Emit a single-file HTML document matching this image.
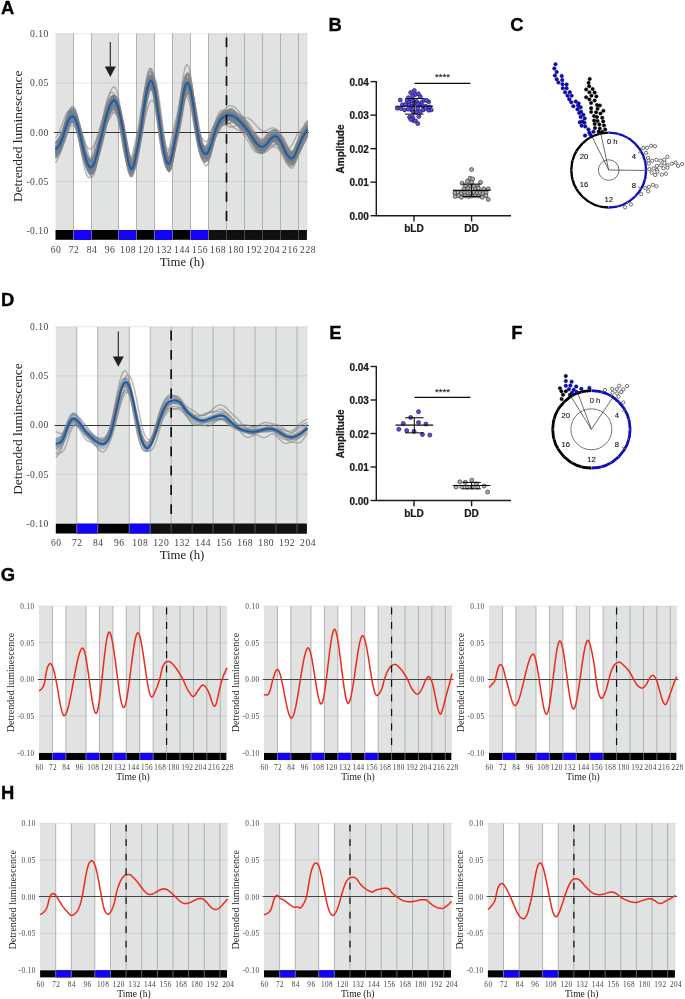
<!DOCTYPE html>
<html><head><meta charset="utf-8"><title>Figure</title>
<style>html,body{margin:0;padding:0;background:#fff;}svg{display:block;}text{font-kerning:normal;}</style></head>
<body>
<svg width="685" height="999" viewBox="0 0 685 999">
<rect width="685" height="999" fill="#fff"/>
<g opacity="0.999">
<text x="1" y="14.3" font-family="'Liberation Sans', sans-serif" font-weight="bold" font-size="18.4" fill="#000" stroke="#000" stroke-width="0.35">A</text>
<text x="328.6" y="30.6" font-family="'Liberation Sans', sans-serif" font-weight="bold" font-size="18.4" fill="#000" stroke="#000" stroke-width="0.35">B</text>
<text x="510.3" y="30.7" font-family="'Liberation Sans', sans-serif" font-weight="bold" font-size="18.4" fill="#000" stroke="#000" stroke-width="0.35">C</text>
<text x="1.1" y="305.7" font-family="'Liberation Sans', sans-serif" font-weight="bold" font-size="18.4" fill="#000" stroke="#000" stroke-width="0.35">D</text>
<text x="329.2" y="338.8" font-family="'Liberation Sans', sans-serif" font-weight="bold" font-size="18.4" fill="#000" stroke="#000" stroke-width="0.35">E</text>
<text x="511.2" y="338.9" font-family="'Liberation Sans', sans-serif" font-weight="bold" font-size="18.4" fill="#000" stroke="#000" stroke-width="0.35">F</text>
<text x="0.7" y="580.8" font-family="'Liberation Sans', sans-serif" font-weight="bold" font-size="18.4" fill="#000" stroke="#000" stroke-width="0.35">G</text>
<text x="1.1" y="798.5" font-family="'Liberation Sans', sans-serif" font-weight="bold" font-size="18.4" fill="#000" stroke="#000" stroke-width="0.35">H</text>
<rect x="55.5" y="33.5" width="252" height="197" fill="#e1e3e2"/>
<rect x="73.5" y="33" width="18" height="197.5" fill="#fff"/>
<rect x="118.5" y="33" width="18" height="197.5" fill="#fff"/>
<rect x="154.5" y="33" width="18" height="197.5" fill="#fff"/>
<rect x="190.5" y="33" width="18" height="197.5" fill="#fff"/>
<line x1="54.7" x2="308" y1="33.8" y2="33.8" stroke="#787878" stroke-opacity="0.17" stroke-width="1"/>
<line x1="54.7" x2="308" y1="83.05" y2="83.05" stroke="#787878" stroke-opacity="0.17" stroke-width="1"/>
<line x1="54.7" x2="308" y1="181.55" y2="181.55" stroke="#787878" stroke-opacity="0.17" stroke-width="1"/>
<line x1="73.5" x2="73.5" y1="33.5" y2="230.5" stroke="#a9a9a9" stroke-width="0.9"/>
<line x1="91.5" x2="91.5" y1="33.5" y2="230.5" stroke="#a9a9a9" stroke-width="0.9"/>
<line x1="118.5" x2="118.5" y1="33.5" y2="230.5" stroke="#a9a9a9" stroke-width="0.9"/>
<line x1="136.5" x2="136.5" y1="33.5" y2="230.5" stroke="#a9a9a9" stroke-width="0.9"/>
<line x1="154.5" x2="154.5" y1="33.5" y2="230.5" stroke="#a9a9a9" stroke-width="0.9"/>
<line x1="172.5" x2="172.5" y1="33.5" y2="230.5" stroke="#a9a9a9" stroke-width="0.9"/>
<line x1="190.5" x2="190.5" y1="33.5" y2="230.5" stroke="#a9a9a9" stroke-width="0.9"/>
<line x1="208.5" x2="208.5" y1="33.5" y2="230.5" stroke="#a9a9a9" stroke-width="0.9"/>
<line x1="226.5" x2="226.5" y1="33.5" y2="230.5" stroke="#a9a9a9" stroke-width="0.9"/>
<line x1="244.5" x2="244.5" y1="33.5" y2="230.5" stroke="#a9a9a9" stroke-width="0.9"/>
<line x1="262.5" x2="262.5" y1="33.5" y2="230.5" stroke="#a9a9a9" stroke-width="0.9"/>
<line x1="280.5" x2="280.5" y1="33.5" y2="230.5" stroke="#a9a9a9" stroke-width="0.9"/>
<line x1="298.5" x2="298.5" y1="33.5" y2="230.5" stroke="#a9a9a9" stroke-width="0.9"/>
<line x1="54.2" x2="309" y1="132.5" y2="132.5" stroke="#333" stroke-width="1.05"/>
<g fill="none" stroke="#838383" stroke-width="1.5" stroke-opacity="0.55" stroke-linejoin="round">
<path d="M55.5 147.28L56.99 146.14L58.48 144.47L59.97 142.09L61.46 138.96L62.96 135.2L64.45 131.08L65.94 126.92L67.43 123.24L68.92 120.57L70.41 118.93L71.9 118.23L73.39 118.57L74.88 120.12L76.38 122.83L77.87 126.55L79.36 131.01L80.85 136.08L82.34 141.63L83.83 147.07L85.32 151.95L86.81 156L88.3 159.07L89.8 161L91.29 161.69L92.78 161.03L94.27 159.04L95.76 155.63L97.25 150.97L98.74 145.69L100.23 140.13L101.72 134.38L103.22 128.38L104.71 122.2L106.2 116.28L107.69 110.96L109.18 106.46L110.67 102.96L112.16 100.54L113.65 99.24L115.14 99.39L116.64 101.29L118.13 104.95L119.62 110.2L121.11 116.38L122.6 123.19L124.09 130.93L125.58 139.49L127.07 147.71L128.57 154.64L130.06 159.87L131.55 162.65L133.04 162.3L134.53 159.13L136.02 153.67L137.51 147.06L139 140.44L140.49 133.21L141.99 124.28L143.48 114.28L144.97 104.58L146.46 96.15L147.95 89.37L149.44 84.58L150.93 82.21L152.42 82.84L153.91 86.31L155.41 92.55L156.9 101.17L158.39 111.35L159.88 121.81L161.37 131.96L162.86 141.61L164.35 149.88L165.84 155.95L167.33 159.49L168.83 160.54L170.32 158.47L171.81 153.44L173.3 146.61L174.79 138.94L176.28 131.54L177.77 124.49L179.26 117.18L180.75 108.99L182.25 100.21L183.74 92.17L185.23 86.2L186.72 82.96L188.21 82.42L189.7 84.67L191.19 89.52L192.68 96.64L194.17 105.23L195.67 114.58L197.16 123.98L198.65 132.4L200.14 139.16L201.63 144.15L203.12 147.64L204.61 149.97L206.1 151.08L207.59 150.68L209.09 148.75L210.58 145.53L212.07 141.33L213.56 136.72L215.05 132.19L216.54 128.12L218.03 124.7L219.52 121.98L221.01 120.01L222.51 118.77L224 118.05L225.49 117.62L226.98 117.34L228.47 117.12L229.96 116.94L231.45 116.86L232.94 116.88L234.43 116.96L235.93 117.13L237.42 117.49L238.91 118.1L240.4 118.96L241.89 120.08L243.38 121.47L244.87 123.09L246.36 124.87L247.86 126.75L249.35 128.72L250.84 130.78L252.33 132.85L253.82 134.77L255.31 136.46L256.8 137.86L258.29 138.94L259.78 139.76L261.28 140.37L262.77 140.66L264.26 140.52L265.75 140.04L267.24 139.3L268.73 138.35L270.22 137.32L271.71 136.41L273.2 135.75L274.7 135.39L276.19 135.45L277.68 136.08L279.17 137.35L280.66 139.25L282.15 141.71L283.64 144.54L285.13 147.54L286.62 150.31L288.12 152.61L289.61 154.46L291.1 155.73L292.59 156.02L294.08 154.98L295.57 152.65L297.06 149.24L298.55 145.28L300.04 141.36L301.54 137.67L303.03 134.34L304.52 131.41L306.01 128.75L307.5 126.3"/>
<path d="M55.5 152.87L56.99 150.33L58.48 147.43L59.97 143.79L61.46 139.17L62.96 133.66L64.45 127.5L65.94 121.21L67.43 115.72L68.92 111.56L70.41 108.82L71.9 107.49L73.39 107.76L74.88 109.68L76.38 113.08L77.87 117.72L79.36 123.35L80.85 130.06L82.34 137.49L83.83 144.97L85.32 151.95L86.81 158.01L88.3 162.73L89.8 165.86L91.29 167.18L92.78 166.75L94.27 164.74L95.76 161.18L97.25 156.71L98.74 152.04L100.23 147.34L101.72 142.46L103.22 137.1L104.71 131.38L106.2 125.78L107.69 120.66L109.18 116.31L110.67 113L112.16 110.77L113.65 109.72L115.14 110.21L116.64 112.38L118.13 116.14L119.62 121.2L121.11 126.97L122.6 133.55L124.09 141.36L125.58 149.91L127.07 157.72L128.57 163.74L130.06 167.42L131.55 167.74L133.04 164.36L134.53 157.92L136.02 149.33L137.51 140.3L139 131.69L140.49 122.43L141.99 111.75L143.48 100.73L144.97 90.66L146.46 82.28L147.95 75.94L149.44 72.09L150.93 71.35L152.42 74.05L153.91 79.95L155.41 88.82L156.9 99.89L158.39 111.98L159.88 123.95L161.37 135.5L162.86 146.4L164.35 155.8L165.84 163.08L167.33 168.04L168.83 170.24L170.32 168.96L171.81 164.56L173.3 158.14L174.79 150.79L176.28 143.47L177.77 136.08L179.26 128L180.75 118.88L182.25 109.38L183.74 100.98L185.23 94.89L186.72 91.39L188.21 90.63L189.7 92.78L191.19 97.67L192.68 104.91L194.17 113.59L195.67 122.87L197.16 131.76L198.65 138.98L200.14 143.9L201.63 146.76L203.12 148.06L204.61 148.3L206.1 147.48L207.59 145.39L209.09 142.13L210.58 137.82L212.07 132.76L213.56 127.48L215.05 122.43L216.54 118.02L218.03 114.5L219.52 112L221.01 110.62L222.51 110.27L224 110.56L225.49 111.16L226.98 111.89L228.47 112.69L229.96 113.69L231.45 115.05L232.94 116.84L234.43 119.01L235.93 121.51L237.42 124.24L238.91 126.99L240.4 129.59L241.89 131.97L243.38 134.21L244.87 136.39L246.36 138.58L247.86 140.9L249.35 143.39L250.84 145.99L252.33 148.41L253.82 150.38L255.31 151.76L256.8 152.5L258.29 152.65L259.78 152.41L261.28 151.84L262.77 150.76L264.26 149.05L265.75 146.75L267.24 143.9L268.73 140.59L270.22 137.19L271.71 134.1L273.2 131.66L274.7 130.08L276.19 129.55L277.68 130.13L279.17 131.65L280.66 133.91L282.15 136.63L283.64 139.61L285.13 142.59L286.62 145.29L288.12 147.72L289.61 149.96L291.1 151.77L292.59 152.56L294.08 152.02L295.57 150.21L297.06 147.45L298.55 144.48L300.04 141.85L301.54 139.76L303.03 138.31L304.52 137.31L306.01 136.44L307.5 135.47"/>
<path d="M55.5 157.09L56.99 157.05L58.48 156.19L59.97 153.93L61.46 149.86L62.96 144.23L64.45 137.59L65.94 130.69L67.43 124.79L68.92 120.73L70.41 118.63L71.9 118.28L73.39 119.59L74.88 122.3L76.38 125.96L77.87 130.09L79.36 134.4L80.85 138.93L82.34 143.78L83.83 148.7L85.32 153.52L86.81 158.04L88.3 162.04L89.8 165.01L91.29 166.52L92.78 166.21L94.27 163.79L95.76 159.48L97.25 153.71L98.74 147.48L100.23 141.61L101.72 136.37L103.22 131.9L104.71 128.1L106.2 124.88L107.69 122.09L109.18 119.49L110.67 116.86L112.16 114.3L113.65 112.17L115.14 111.11L116.64 111.83L118.13 114.86L119.62 119.94L121.11 126.75L122.6 134.63L124.09 143.36L125.58 152.25L127.07 160.16L128.57 166.14L130.06 169.73L131.55 170.68L133.04 168.85L134.53 164.56L136.02 158.74L137.51 152.3L139 145.92L140.49 138.62L141.99 129.15L143.48 117.82L144.97 106.15L146.46 95.29L147.95 86.11L149.44 79.41L150.93 76.08L152.42 76.86L153.91 81.56L155.41 89.89L156.9 100.99L158.39 113.53L159.88 125.83L161.37 137.33L162.86 148.08L164.35 157.24L165.84 164.27L167.33 169.03L168.83 171.63L170.32 170.8L171.81 166.5L173.3 159.85L174.79 151.39L176.28 142.51L177.77 132.88L179.26 121.96L180.75 109.33L182.25 96.08L183.74 84.69L185.23 77.22L186.72 74.26L188.21 75.39L189.7 80.6L191.19 88.75L192.68 99.4L194.17 110.91L195.67 122.64L197.16 133.96L198.65 143.62L200.14 151.17L201.63 156.95L203.12 161.25L204.61 164.4L206.1 165.9L207.59 164.9L209.09 161.41L210.58 155.68L212.07 148.4L213.56 140.73L215.05 133.66L216.54 127.91L218.03 123.82L219.52 121.27L221.01 120.01L222.51 119.6L224 119.34L225.49 118.76L226.98 117.73L228.47 116.4L229.96 115.21L231.45 114.64L232.94 115L234.43 116.34L235.93 118.57L237.42 121.4L238.91 124.39L240.4 127.05L241.89 129.1L243.38 130.48L244.87 131.37L246.36 132.11L247.86 133.14L249.35 134.85L250.84 137.44L252.33 140.75L253.82 144.36L255.31 147.71L256.8 150.31L258.29 151.85L259.78 152.24L261.28 151.68L262.77 150.41L264.26 148.83L265.75 147.34L267.24 146.23L268.73 145.58L270.22 145.23L271.71 145.04L273.2 144.7L274.7 144.07L276.19 143.23L277.68 142.42L279.17 142.15L280.66 142.72L282.15 144.44L283.64 147.23L285.13 150.78L286.62 154.49L288.12 157.7L289.61 160.03L291.1 161.08L292.59 160.47L294.08 158.1L295.57 154.35L297.06 149.95L298.55 145.75L300.04 142.46L301.54 140.18L303.03 138.68L304.52 137.51L306.01 136.06L307.5 133.95"/>
<path d="M55.5 154.39L56.99 151.86L58.48 148.98L59.97 145.53L61.46 141.46L62.96 136.96L64.45 132.17L65.94 127.48L67.43 123.53L68.92 120.52L70.41 118.39L71.9 117.18L73.39 117.23L74.88 118.74L76.38 121.73L77.87 126.01L79.36 131.37L80.85 137.71L82.34 144.45L83.83 150.85L85.32 156.36L86.81 160.64L88.3 163.46L89.8 164.73L91.29 164.38L92.78 162.57L94.27 159.36L95.76 154.82L97.25 149.53L98.74 144.08L100.23 138.62L101.72 133.03L103.22 127.12L104.71 121.06L106.2 115.26L107.69 109.98L109.18 105.45L110.67 101.93L112.16 99.51L113.65 98.46L115.14 99.31L116.64 102.27L118.13 107.2L119.62 113.66L121.11 120.87L122.6 128.83L124.09 137.79L125.58 147.09L127.07 155.38L128.57 161.85L130.06 166.13L131.55 167.28L133.04 165.05L134.53 160.03L136.02 152.87L137.51 145.16L139 137.39L140.49 128.35L141.99 117.59L143.48 106.58L144.97 96.7L146.46 88.71L147.95 82.9L149.44 79.57L150.93 79.25L152.42 82.02L153.91 87.54L155.41 95.61L156.9 105.46L158.39 115.98L159.88 126.22L161.37 135.97L162.86 144.92L164.35 152.21L165.84 157.37L167.33 160.36L168.83 160.78L170.32 158.13L171.81 152.97L173.3 146.28L174.79 139.05L176.28 131.85L177.77 124.45L179.26 116.21L180.75 107.02L182.25 97.82L183.74 90.15L185.23 85.21L186.72 83.18L188.21 84.1L189.7 87.89L191.19 94.14L192.68 102.26L194.17 111.42L195.67 120.88L197.16 129.88L198.65 137.42L200.14 143.09L201.63 147.15L203.12 149.96L204.61 151.76L206.1 152.25L207.59 151.13L209.09 148.47L210.58 144.43L212.07 139.51L213.56 134.31L215.05 129.35L216.54 125L218.03 121.45L219.52 118.73L221.01 116.89L222.51 115.84L224 115.23L225.49 114.84L226.98 114.53L228.47 114.24L229.96 114.07L231.45 114.12L232.94 114.4L234.43 114.93L235.93 115.78L237.42 117.02L238.91 118.6L240.4 120.39L241.89 122.31L243.38 124.27L244.87 126.18L246.36 127.96L247.86 129.68L249.35 131.49L250.84 133.46L252.33 135.55L253.82 137.67L255.31 139.75L256.8 141.64L258.29 143.21L259.78 144.42L261.28 145.1L262.77 145.02L264.26 144.16L265.75 142.7L267.24 140.82L268.73 138.79L270.22 136.95L271.71 135.58L273.2 134.85L274.7 134.79L276.19 135.47L277.68 136.89L279.17 138.94L280.66 141.47L282.15 144.27L283.64 147.18L285.13 149.9L286.62 152.14L288.12 153.92L289.61 155.33L291.1 156.15L292.59 155.91L294.08 154.42L295.57 151.76L297.06 148.23L298.55 144.41L300.04 140.67L301.54 137.17L303.03 134.04L304.52 131.25L306.01 128.71L307.5 126.42"/>
<path d="M55.5 150.12L56.99 148.47L58.48 146.28L59.97 143.14L61.46 138.94L62.96 133.91L64.45 128.29L65.94 122.66L67.43 117.99L68.92 114.57L70.41 112.37L71.9 111.51L73.39 112.4L74.88 115.13L76.38 119.52L77.87 125.3L79.36 132L80.85 139.66L82.34 147.45L83.83 154.59L85.32 160.6L86.81 165.22L88.3 168.18L89.8 169.46L91.29 168.85L92.78 166.51L94.27 162.45L95.76 156.71L97.25 150.15L98.74 143.44L100.23 136.79L101.72 130.16L103.22 123.52L104.71 117.25L106.2 111.75L107.69 107.17L109.18 103.63L110.67 101.16L112.16 99.7L113.65 99.53L115.14 101.03L116.64 104.31L118.13 109.33L119.62 115.44L121.11 122.33L122.6 130.16L124.09 138.93L125.58 147.6L127.07 155.17L128.57 160.95L130.06 164.23L131.55 164.31L133.04 161.35L134.53 155.73L136.02 148.61L137.51 141.23L139 133.53L140.49 124.44L141.99 114.05L143.48 103.63L144.97 94.27L146.46 86.46L147.95 80.52L149.44 76.81L150.93 76.05L152.42 78.41L153.91 83.77L155.41 92.12L156.9 102.71L158.39 114.37L159.88 126.07L161.37 137.57L162.86 148.26L164.35 156.84L165.84 162.75L167.33 165.87L168.83 165.72L170.32 161.7L171.81 154.79L173.3 146.39L174.79 137.57L176.28 129.23L177.77 120.65L179.26 111.04L180.75 100.24L182.25 89.54L183.74 80.88L185.23 75.66L186.72 73.92L188.21 75.68L189.7 80.96L191.19 89.09L192.68 99.36L194.17 110.58L195.67 121.84L197.16 132.05L198.65 140.1L200.14 145.69L201.63 149.22L203.12 151.24L204.61 152L206.1 151.32L207.59 149.16L209.09 145.76L210.58 141.38L212.07 136.57L213.56 131.81L215.05 127.44L216.54 123.65L218.03 120.49L219.52 118.01L221.01 116.24L222.51 115.06L224 114.31L225.49 113.87L226.98 113.65L228.47 113.64L229.96 113.87L231.45 114.32L232.94 114.89L234.43 115.56L235.93 116.4L237.42 117.43L238.91 118.67L240.4 120.1L241.89 121.75L243.38 123.61L244.87 125.61L246.36 127.69L247.86 129.88L249.35 132.23L250.84 134.71L252.33 137.18L253.82 139.52L255.31 141.68L256.8 143.52L258.29 145L259.78 146.16L261.28 146.82L262.77 146.73L264.26 145.86L265.75 144.38L267.24 142.39L268.73 140.1L270.22 137.93L271.71 136.15L273.2 135.01L274.7 134.6L276.19 135.13L277.68 136.69L279.17 139.13L280.66 142.32L282.15 145.89L283.64 149.58L285.13 152.9L286.62 155.41L288.12 157.18L289.61 158.31L291.1 158.52L292.59 157.37L294.08 154.87L295.57 151.29L297.06 147.09L298.55 143L300.04 139.25L301.54 135.92L303.03 133.01L304.52 130.39L306.01 127.96L307.5 125.7"/>
<path d="M55.5 150.19L56.99 148.49L58.48 146.36L59.97 143.62L61.46 140.22L62.96 136.29L64.45 132.02L65.94 127.68L67.43 123.81L68.92 120.88L70.41 118.87L71.9 117.68L73.39 117.54L74.88 118.7L76.38 121.2L77.87 125.01L79.36 129.85L80.85 135.74L82.34 142.48L83.83 149.31L85.32 155.67L86.81 161.17L88.3 165.42L89.8 168.27L91.29 169.38L92.78 168.66L94.27 166.2L95.76 161.76L97.25 155.85L98.74 149.32L100.23 142.62L101.72 135.94L103.22 129.17L104.71 122.45L106.2 116.3L107.69 110.99L109.18 106.64L110.67 103.36L112.16 101.13L113.65 99.9L115.14 100.12L116.64 102.11L118.13 105.88L119.62 111.32L121.11 117.7L122.6 124.83L124.09 133.13L125.58 142.39L127.07 151.22L128.57 158.62L130.06 164.12L131.55 166.84L133.04 166.13L134.53 162.33L136.02 156.09L137.51 148.65L139 141.14L140.49 133.01L141.99 123.5L143.48 113.29L144.97 103.83L146.46 96.01L147.95 90.16L149.44 86.49L150.93 85.32L152.42 86.88L153.91 91.04L155.41 97.45L156.9 105.78L158.39 115.13L159.88 124.53L161.37 133.51L162.86 141.89L164.35 149.16L165.84 154.59L167.33 158.01L168.83 159.27L170.32 157.97L171.81 154.11L173.3 148.5L174.79 142.06L176.28 135.5L177.77 128.9L179.26 121.62L180.75 113.17L182.25 103.91L183.74 95.24L185.23 88.56L186.72 84.67L188.21 83.73L189.7 85.86L191.19 90.94L192.68 98.58L194.17 107.89L195.67 118.03L197.16 128.13L198.65 136.99L200.14 143.83L201.63 148.59L203.12 151.59L204.61 153.27L206.1 153.68L207.59 152.53L209.09 149.98L210.58 146.28L212.07 141.78L213.56 137.06L215.05 132.58L216.54 128.6L218.03 125.23L219.52 122.39L221.01 120.1L222.51 118.36L224 116.96L225.49 115.75L226.98 114.72L228.47 113.92L229.96 113.48L231.45 113.54L232.94 114.08L234.43 114.99L235.93 116.21L237.42 117.73L238.91 119.43L240.4 121.17L241.89 122.88L243.38 124.54L244.87 126.13L246.36 127.64L247.86 129.15L249.35 130.82L250.84 132.76L252.33 134.95L253.82 137.25L255.31 139.55L256.8 141.7L258.29 143.55L259.78 145.04L261.28 146.06L262.77 146.4L264.26 145.91L265.75 144.73L267.24 143.04L268.73 141L270.22 138.92L271.71 137.15L273.2 135.91L274.7 135.33L276.19 135.53L277.68 136.57L279.17 138.42L280.66 140.91L282.15 143.82L283.64 146.85L285.13 149.7L286.62 152.02L288.12 153.61L289.61 154.6L291.1 154.99L292.59 154.53L294.08 153.05L295.57 150.64L297.06 147.59L298.55 144.34L300.04 141.34L301.54 138.68L303.03 136.32L304.52 134.15L306.01 131.96L307.5 129.63"/>
<path d="M55.5 150.32L56.99 149.42L58.48 147.86L59.97 145.44L61.46 141.92L62.96 137.35L64.45 131.97L65.94 125.97L67.43 120.22L68.92 115.52L70.41 112.11L71.9 109.87L73.39 109.12L74.88 110.21L76.38 113.1L77.87 117.78L79.36 123.58L80.85 130.44L82.34 138.01L83.83 145.45L85.32 152L86.81 157.29L88.3 161.02L89.8 163.14L91.29 163.58L92.78 162.37L94.27 159.74L95.76 155.73L97.25 150.55L98.74 144.91L100.23 139.3L101.72 133.85L103.22 128.45L104.71 123.02L106.2 117.76L107.69 113.03L109.18 108.99L110.67 105.72L112.16 103.38L113.65 101.98L115.14 101.69L116.64 102.87L118.13 105.76L119.62 110.09L121.11 115.68L122.6 121.9L124.09 128.83L125.58 136.53L127.07 144.5L128.57 151.64L130.06 157.11L131.55 160.57L133.04 161.27L134.53 158.87L136.02 154.1L137.51 147.51L139 140.45L140.49 133.06L141.99 124.15L143.48 113.51L144.97 102.64L146.46 92.68L147.95 84.25L149.44 77.74L150.93 73.6L152.42 72.71L153.91 75.1L155.41 80.82L156.9 89.67L158.39 100.89L159.88 112.97L161.37 125.06L162.86 136.98L164.35 147.71L165.84 156.1L167.33 161.56L168.83 164.21L170.32 163.1L171.81 158.12L173.3 150.63L174.79 141.7L176.28 132.94L177.77 124.61L179.26 116.18L180.75 106.81L182.25 96.61L183.74 87.07L185.23 79.84L186.72 75.91L188.21 75.16L189.7 77.64L191.19 83.05L192.68 90.93L194.17 100.44L195.67 110.69L197.16 120.87L198.65 130.06L200.14 137.41L201.63 142.62L203.12 146.08L204.61 148.13L206.1 149L207.59 148.58L209.09 146.71L210.58 143.71L212.07 139.8L213.56 135.46L215.05 131.18L216.54 127.31L218.03 124L219.52 121.34L221.01 119.28L222.51 117.76L224 116.73L225.49 115.93L226.98 115.23L228.47 114.6L229.96 114.04L231.45 113.65L232.94 113.51L234.43 113.6L235.93 113.92L237.42 114.51L238.91 115.42L240.4 116.59L241.89 117.96L243.38 119.52L244.87 121.22L246.36 123.01L247.86 124.84L249.35 126.79L250.84 128.96L252.33 131.34L253.82 133.78L255.31 136.19L256.8 138.46L258.29 140.43L259.78 142.07L261.28 143.38L262.77 144.11L264.26 144.01L265.75 143.15L267.24 141.7L268.73 139.7L270.22 137.5L271.71 135.45L273.2 133.87L274.7 132.89L276.19 132.69L277.68 133.49L279.17 135.26L280.66 137.95L282.15 141.3L283.64 145L285.13 148.74L286.62 151.96L288.12 154.32L289.61 155.89L291.1 156.73L292.59 156.55L294.08 155.04L295.57 152.35L297.06 148.74L298.55 144.75L300.04 140.99L301.54 137.68L303.03 134.83L304.52 132.39L306.01 130.19L307.5 128.02"/>
<path d="M55.5 155.08L56.99 153.45L58.48 151.21L59.97 148.11L61.46 144.12L62.96 139.41L64.45 134.29L65.94 129.17L67.43 124.72L68.92 121.45L70.41 119.31L71.9 118.24L73.39 118.45L74.88 120.12L76.38 123.23L77.87 127.61L79.36 133.01L80.85 139.37L82.34 146.4L83.83 153.36L85.32 159.72L86.81 165.08L88.3 169.17L89.8 171.77L91.29 172.65L92.78 171.74L94.27 169.03L95.76 164.4L97.25 158.33L98.74 151.67L100.23 144.84L101.72 137.95L103.22 130.91L104.71 123.85L106.2 117.31L107.69 111.59L109.18 106.81L110.67 103.12L112.16 100.52L113.65 99.07L115.14 99.3L116.64 101.61L118.13 106.01L119.62 112.37L121.11 119.86L122.6 128.36L124.09 138.3L125.58 149.31L127.07 159.67L128.57 168.21L130.06 174.41L131.55 177.12L133.04 175.61L134.53 170.47L136.02 162.35L137.51 153.04L139 143.83L140.49 133.76L141.99 121.85L143.48 109.35L144.97 97.92L146.46 88.52L147.95 81.47L149.44 77.02L150.93 75.61L152.42 77.6L153.91 82.68L155.41 90.72L156.9 101.14L158.39 112.88L159.88 124.69L161.37 136.12L162.86 146.97L164.35 156.3L165.84 163.26L167.33 167.6L168.83 169.08L170.32 167.05L171.81 161.79L173.3 154.47L174.79 146.23L176.28 138.02L177.77 129.87L179.26 121.09L180.75 111.28L182.25 101.06L183.74 92.09L185.23 85.79L186.72 82.72L188.21 82.89L189.7 86.23L191.19 92.47L192.68 100.99L194.17 110.86L195.67 121.23L197.16 131.24L198.65 139.79L200.14 146.29L201.63 150.82L203.12 153.82L204.61 155.68L206.1 156.33L207.59 155.46L209.09 153.07L210.58 149.35L212.07 144.63L213.56 139.47L215.05 134.35L216.54 129.63L218.03 125.52L219.52 122.09L221.01 119.46L222.51 117.69L224 116.57L225.49 115.92L226.98 115.62L228.47 115.58L229.96 115.81L231.45 116.32L232.94 117.02L234.43 117.79L235.93 118.63L237.42 119.63L238.91 120.83L240.4 122.21L241.89 123.83L243.38 125.73L244.87 127.9L246.36 130.25L247.86 132.77L249.35 135.47L250.84 138.35L252.33 141.23L253.82 143.87L255.31 146.16L256.8 148L258.29 149.31L259.78 150.2L261.28 150.69L262.77 150.6L264.26 149.84L265.75 148.58L267.24 146.97L268.73 145.05L270.22 143.11L271.71 141.4L273.2 140.1L274.7 139.29L276.19 139.15L277.68 139.89L279.17 141.52L280.66 144.04L282.15 147.25L283.64 150.91L285.13 154.66L286.62 157.96L288.12 160.59L289.61 162.57L291.1 163.73L292.59 163.55L294.08 161.78L295.57 158.61L297.06 154.39L298.55 149.88L300.04 145.66L301.54 141.94L303.03 138.81L304.52 136.19L306.01 133.87L307.5 131.7"/>
<path d="M55.5 147.22L56.99 145.28L58.48 142.92L59.97 139.86L61.46 136.14L62.96 131.99L64.45 127.62L65.94 123.62L67.43 120.49L68.92 118.32L70.41 117.02L71.9 116.8L73.39 117.85L74.88 120.16L76.38 123.66L77.87 128L79.36 133.15L80.85 138.85L82.34 144.5L83.83 149.63L85.32 153.93L86.81 157.18L88.3 159.3L89.8 160.13L91.29 159.64L92.78 157.93L94.27 154.88L95.76 150.78L97.25 146.22L98.74 141.52L100.23 136.79L101.72 131.89L103.22 126.84L104.71 122L106.2 117.61L107.69 113.81L109.18 110.76L110.67 108.52L112.16 107.13L113.65 106.93L115.14 108.27L116.64 111.23L118.13 115.74L119.62 121.22L121.11 127.38L122.6 134.47L124.09 142.43L125.58 150.2L127.07 156.81L128.57 161.73L130.06 164.31L131.55 163.85L133.04 160.5L134.53 154.85L136.02 147.86L137.51 140.75L139 133.29L140.49 124.45L141.99 114.5L143.48 104.87L144.97 96.49L146.46 89.79L147.95 85.02L149.44 82.51L150.93 82.77L152.42 85.83L153.91 91.4L155.41 99.37L156.9 108.92L158.39 119.01L159.88 128.89L161.37 138.41L162.86 146.98L164.35 153.64L165.84 158.05L167.33 160.13L168.83 159.44L170.32 155.75L171.81 150.02L173.3 143.29L174.79 136.46L176.28 129.92L177.77 123.07L179.26 115.36L180.75 106.91L182.25 98.95L183.74 92.87L185.23 89.53L186.72 88.9L188.21 90.99L189.7 95.67L191.19 102.53L192.68 110.83L194.17 119.79L195.67 128.67L197.16 136.54L198.65 142.68L200.14 146.95L201.63 149.67L203.12 151.23L204.61 151.71L206.1 150.86L207.59 148.69L209.09 145.43L210.58 141.33L212.07 136.91L213.56 132.59L215.05 128.67L216.54 125.31L218.03 122.54L219.52 120.37L221.01 118.83L222.51 117.75L224 116.97L225.49 116.41L226.98 116.03L228.47 115.86L229.96 115.97L231.45 116.33L232.94 116.88L234.43 117.59L235.93 118.51L237.42 119.61L238.91 120.86L240.4 122.24L241.89 123.75L243.38 125.39L244.87 127.1L246.36 128.88L247.86 130.8L249.35 132.89L250.84 135.1L252.33 137.29L253.82 139.36L255.31 141.21L256.8 142.75L258.29 143.97L259.78 144.87L261.28 145.31L262.77 145.14L264.26 144.47L265.75 143.41L267.24 142.02L268.73 140.53L270.22 139.19L271.71 138.16L273.2 137.55L274.7 137.46L276.19 138.04L277.68 139.31L279.17 141.24L280.66 143.7L282.15 146.45L283.64 149.3L285.13 151.84L286.62 153.81L288.12 155.24L289.61 156.13L291.1 156.15L292.59 154.97L294.08 152.62L295.57 149.32L297.06 145.55L298.55 141.89L300.04 138.53L301.54 135.54L303.03 132.9L304.52 130.48L306.01 128.18L307.5 125.99"/>
<path d="M55.5 149.45L56.99 149L58.48 148.13L59.97 146.4L61.46 143.62L62.96 139.94L64.45 135.55L65.94 130.96L67.43 127.09L68.92 124.24L70.41 122.4L71.9 121.7L73.39 122.59L74.88 125.23L76.38 129.57L77.87 135.31L79.36 142.09L80.85 149.83L82.34 157.75L83.83 164.96L85.32 170.87L86.81 175.12L88.3 177.45L89.8 177.79L91.29 176.01L92.78 172.32L94.27 166.83L95.76 159.65L97.25 151.65L98.74 143.56L100.23 135.67L101.72 127.93L103.22 120.17L104.71 112.67L106.2 105.83L107.69 99.84L109.18 94.82L110.67 90.93L112.16 88.16L113.65 86.86L115.14 87.62L116.64 90.71L118.13 96.14L119.62 103.41L121.11 111.9L122.6 121.71L124.09 132.96L125.58 144.65L127.07 155.29L128.57 163.89L130.06 169.75L131.55 171.86L133.04 170.08L134.53 165.02L136.02 157.7L137.51 149.85L139 141.85L140.49 132.5L141.99 121.62L143.48 110.74L144.97 101.2L146.46 93.59L147.95 88.16L149.44 85.13L150.93 85.07L152.42 88.04L153.91 93.79L155.41 102.16L156.9 112.4L158.39 123.34L159.88 134.04L161.37 144.29L162.86 153.67L164.35 161.09L165.84 166L167.33 168.36L168.83 167.6L170.32 163.17L171.81 155.85L173.3 146.81L174.79 137.24L176.28 127.83L177.77 118.15L179.26 107.43L180.75 95.54L182.25 83.69L183.74 73.79L185.23 67.34L186.72 64.56L188.21 65.58L189.7 70.41L191.19 78.54L192.68 89.25L194.17 101.4L195.67 114L197.16 125.95L198.65 135.93L200.14 143.4L201.63 148.7L203.12 152.3L204.61 154.57L206.1 155.32L207.59 154.35L209.09 151.92L210.58 148.29L212.07 144.03L213.56 139.71L215.05 135.77L216.54 132.39L218.03 129.6L219.52 127.32L221.01 125.6L222.51 124.31L224 123.2L225.49 122.17L226.98 121.23L228.47 120.43L229.96 119.94L231.45 119.83L232.94 120.06L234.43 120.51L235.93 121.19L237.42 122.07L238.91 123.04L240.4 123.97L241.89 124.86L243.38 125.68L244.87 126.42L246.36 127.09L247.86 127.81L249.35 128.78L250.84 130.07L252.33 131.59L253.82 133.22L255.31 134.89L256.8 136.43L258.29 137.73L259.78 138.8L261.28 139.44L262.77 139.38L264.26 138.59L265.75 137.24L267.24 135.45L268.73 133.48L270.22 131.71L271.71 130.47L273.2 129.99L274.7 130.39L276.19 131.89L277.68 134.54L279.17 138.24L280.66 142.78L282.15 147.85L283.64 153.07L285.13 157.91L286.62 161.9L288.12 164.96L289.61 167.16L291.1 168.22L292.59 167.75L294.08 165.76L295.57 162.51L297.06 158.53L298.55 154.54L300.04 150.88L301.54 147.63L303.03 144.75L304.52 142.03L306.01 139.25L307.5 136.29"/>
<path d="M55.5 156.48L56.99 155.53L58.48 153.74L59.97 150.83L61.46 146.66L62.96 141.5L64.45 135.76L65.94 129.96L67.43 124.94L68.92 121.32L70.41 119.11L71.9 118.13L73.39 118.45L74.88 120.16L76.38 123.16L77.87 127.32L79.36 132.39L80.85 138.41L82.34 145.27L83.83 152.32L85.32 159.02L86.81 164.93L88.3 169.65L89.8 172.84L91.29 174.19L92.78 173.57L94.27 171.06L95.76 166.66L97.25 160.9L98.74 154.71L100.23 148.58L101.72 142.62L103.22 136.65L104.71 130.56L106.2 124.63L107.69 119.04L109.18 113.89L110.67 109.38L112.16 105.71L113.65 103.14L115.14 102.3L116.64 103.72L118.13 107.49L119.62 113.4L121.11 120.58L122.6 128.58L124.09 137.59L125.58 147.32L127.07 156.37L128.57 163.75L130.06 169.15L131.55 171.8L133.04 171.11L134.53 167.49L136.02 161.51L137.51 154.42L139 147.29L140.49 139.28L141.99 129.23L143.48 117.96L144.97 107.11L146.46 97.82L147.95 90.63L149.44 85.94L150.93 84.18L152.42 85.78L153.91 90.4L155.41 97.71L156.9 107.16L158.39 117.75L159.88 128.25L161.37 138.22L162.86 147.66L164.35 155.87L165.84 162.11L167.33 166.08L168.83 167.64L170.32 166.04L171.81 161.24L173.3 154.26L174.79 146.11L176.28 137.87L177.77 129.76L179.26 121.3L180.75 112.09L182.25 102.62L183.74 94.4L185.23 88.77L186.72 86.28L188.21 86.75L189.7 90.06L191.19 95.93L192.68 103.93L194.17 113.28L195.67 123.32L197.16 133.37L198.65 142.4L200.14 149.71L201.63 155.13L203.12 158.87L204.61 161.14L206.1 161.8L207.59 160.53L209.09 157.4L210.58 152.8L212.07 147.25L213.56 141.5L215.05 136.15L216.54 131.58L218.03 127.86L219.52 124.89L221.01 122.54L222.51 120.71L224 119.16L225.49 117.75L226.98 116.53L228.47 115.65L229.96 115.31L231.45 115.68L232.94 116.72L234.43 118.25L235.93 120.05L237.42 122.01L238.91 123.95L240.4 125.76L241.89 127.45L243.38 129.16L244.87 131.03L246.36 133.14L247.86 135.57L249.35 138.39L250.84 141.53L252.33 144.73L253.82 147.63L255.31 149.99L256.8 151.64L258.29 152.53L259.78 152.84L261.28 152.72L262.77 152.17L264.26 151.15L265.75 149.8L267.24 148.21L268.73 146.32L270.22 144.27L271.71 142.24L273.2 140.42L274.7 138.97L276.19 138.17L277.68 138.39L279.17 139.74L280.66 142.27L282.15 145.75L283.64 149.81L285.13 153.97L286.62 157.61L288.12 160.37L289.61 162.26L291.1 163.29L292.59 163.16L294.08 161.75L295.57 159.33L297.06 156.21L298.55 152.98L300.04 150.05L301.54 147.42L303.03 144.95L304.52 142.48L306.01 139.79L307.5 136.85"/>
<path d="M55.5 151.71L56.99 150.73L58.48 149.65L59.97 147.95L61.46 145.3L62.96 141.64L64.45 136.99L65.94 131.77L67.43 126.76L68.92 122.35L70.41 118.73L71.9 116.31L73.39 115.64L74.88 116.99L76.38 120.37L77.87 125.4L79.36 131.68L80.85 138.87L82.34 146.09L83.83 152.44L85.32 157.37L86.81 160.61L88.3 162.1L89.8 161.97L91.29 160.37L92.78 157.66L94.27 154.05L95.76 149.63L97.25 145.03L98.74 140.63L100.23 136.38L101.72 131.93L103.22 126.94L104.71 121.56L106.2 116.14L107.69 110.99L109.18 106.47L110.67 103L112.16 100.8L113.65 100.36L115.14 102.24L116.64 106.56L118.13 113.08L119.62 121.07L121.11 129.66L122.6 138.72L124.09 148.22L125.58 157.23L127.07 164.58L128.57 169.7L130.06 172.29L131.55 171.75L133.04 168.26L134.53 162.52L136.02 155.38L137.51 148.26L139 141.17L140.49 132.67L141.99 122.33L143.48 111.43L144.97 101.1L146.46 92L147.95 84.56L149.44 79.36L150.93 77.28L152.42 78.67L153.91 83.43L155.41 91.51L156.9 102.04L158.39 113.69L159.88 125.27L161.37 136.3L162.86 146.08L164.35 153.49L165.84 158.07L167.33 159.94L168.83 158.86L170.32 154.68L171.81 148.44L173.3 141.4L174.79 134.66L176.28 128.76L177.77 123.03L179.26 116.47L180.75 108.67L182.25 100.45L183.74 93.29L185.23 88.42L186.72 86.09L188.21 86.57L189.7 90.16L191.19 96.65L192.68 105.62L194.17 116.19L195.67 127.48L197.16 138.37L198.65 147.53L200.14 154.26L201.63 158.63L203.12 160.9L204.61 161.32L206.1 159.79L207.59 156.37L209.09 151.55L210.58 145.85L212.07 140L213.56 134.64L215.05 130.16L216.54 126.63L218.03 123.89L219.52 121.68L221.01 119.82L222.51 118.05L224 116.13L225.49 114.05L226.98 111.95L228.47 110.14L229.96 108.95L231.45 108.64L232.94 109.23L234.43 110.65L235.93 112.75L237.42 115.33L238.91 118.05L240.4 120.6L241.89 122.82L243.38 124.65L244.87 126.11L246.36 127.37L247.86 128.73L249.35 130.53L250.84 132.97L252.33 136.02L253.82 139.51L255.31 143.22L256.8 146.77L258.29 149.81L259.78 152.13L261.28 153.4L262.77 153.36L264.26 152.1L265.75 149.94L267.24 147.24L268.73 144.48L270.22 142.17L271.71 140.7L273.2 140.22L274.7 140.7L276.19 142.1L277.68 144.21L279.17 146.71L280.66 149.28L282.15 151.62L283.64 153.55L285.13 154.83L286.62 155.35L288.12 155.4L289.61 155.28L291.1 154.89L292.59 153.89L294.08 152.16L295.57 149.7L297.06 146.69L298.55 143.48L300.04 140.15L301.54 136.68L303.03 133.11L304.52 129.45L306.01 125.8L307.5 122.4"/>
<path d="M55.5 153.52L56.99 150.08L58.48 146.69L59.97 143.07L61.46 139.11L62.96 134.77L64.45 130.4L65.94 126.43L67.43 122.92L68.92 119.95L70.41 117.99L71.9 117.57L73.39 118.97L74.88 122.26L76.38 127.15L77.87 133.47L79.36 140.77L80.85 148.04L82.34 154.46L83.83 159.44L85.32 162.62L86.81 163.9L88.3 163.28L89.8 160.99L91.29 157.42L92.78 152.74L94.27 147.44L95.76 142.26L97.25 137.48L98.74 132.99L100.23 128.36L101.72 123.33L103.22 118.07L104.71 112.8L106.2 107.7L107.69 103.1L109.18 99.36L110.67 96.81L112.16 96.1L113.65 97.76L115.14 101.89L116.64 108.23L118.13 115.9L119.62 124.29L121.11 133.38L122.6 142.8L124.09 151.25L125.58 157.77L127.07 162L128.57 163.46L130.06 161.79L131.55 157.52L133.04 151.42L134.53 144.69L136.02 138.39L137.51 131.84L139 123.8L140.49 114.49L141.99 105.09L143.48 96.45L144.97 89.04L146.46 83.29L147.95 79.85L149.44 79.48L150.93 82.33L152.42 88.35L153.91 97.25L155.41 108.07L156.9 119.43L158.39 130.45L159.88 140.66L161.37 149.16L162.86 155.04L164.35 158.07L165.84 158.37L167.33 155.7L168.83 150.36L170.32 143.61L171.81 136.54L173.3 130.1L174.79 124.32L176.28 118.34L177.77 111.31L179.26 103.25L180.75 95.31L182.25 88.81L183.74 84.59L185.23 82.84L186.72 83.89L188.21 87.89L189.7 94.65L191.19 103.49L192.68 113.61L194.17 124.08L195.67 133.62L197.16 141.22L198.65 146.55L200.14 149.75L201.63 151.17L203.12 150.93L204.61 148.97L206.1 145.6L207.59 141.34L209.09 136.7L210.58 132.32L212.07 128.63L213.56 125.76L215.05 123.61L216.54 121.9L218.03 120.4L219.52 118.96L221.01 117.39L222.51 115.62L224 113.8L225.49 112.18L226.98 111.09L228.47 110.81L229.96 111.42L231.45 112.77L232.94 114.67L234.43 116.87L235.93 119.08L237.42 120.98L238.91 122.41L240.4 123.36L241.89 123.96L243.38 124.39L244.87 124.96L246.36 126L247.86 127.8L249.35 130.33L250.84 133.38L252.33 136.65L253.82 139.74L255.31 142.26L256.8 143.97L258.29 144.72L259.78 144.35L261.28 142.88L262.77 140.66L264.26 138.14L265.75 135.69L267.24 133.74L268.73 132.61L270.22 132.43L271.71 133.08L273.2 134.38L274.7 136.19L276.19 138.27L277.68 140.46L279.17 142.58L280.66 144.58L282.15 146.44L283.64 148.05L285.13 149.44L286.62 150.85L288.12 152.28L289.61 153.27L291.1 153.31L292.59 152.21L294.08 149.87L295.57 146.64L297.06 142.92L298.55 138.93L300.04 134.89L301.54 131.04L303.03 127.52L304.52 124.51L306.01 122.2L307.5 120.58"/>
<path d="M55.5 153.46L56.99 153.81L58.48 153.47L59.97 152.16L61.46 149.74L62.96 146.25L64.45 141.96L65.94 137.22L67.43 132.69L68.92 129.1L70.41 126.69L71.9 125.46L73.39 125.57L74.88 127.24L76.38 130.36L77.87 134.75L79.36 139.9L80.85 145.63L82.34 151.68L83.83 157.37L85.32 162.19L86.81 165.9L88.3 168.36L89.8 169.63L91.29 169.65L92.78 168.45L94.27 166.23L95.76 162.79L97.25 158.3L98.74 153.37L100.23 148.24L101.72 142.91L103.22 137.16L104.71 130.93L106.2 124.65L107.69 118.7L109.18 113.38L110.67 108.99L112.16 105.76L113.65 103.82L115.14 103.56L116.64 105.37L118.13 109.2L119.62 114.86L121.11 121.56L122.6 128.77L124.09 136.57L125.58 144.83L127.07 152.5L128.57 158.66L130.06 162.9L131.55 164.84L133.04 164.04L134.53 160.78L136.02 155.83L137.51 150.06L139 144.58L140.49 139.18L141.99 132.9L143.48 125.66L144.97 118.54L146.46 112.21L147.95 106.98L149.44 103.01L150.93 100.62L152.42 100.28L153.91 102.23L155.41 106.3L156.9 112.59L158.39 120.51L159.88 129.24L161.37 138.12L162.86 146.85L164.35 154.88L165.84 161.23L167.33 165.44L168.83 167.32L170.32 166.42L171.81 162.54L173.3 156.47L174.79 149.25L176.28 141.83L177.77 134.71L179.26 127.54L180.75 119.82L182.25 111.65L183.74 104.05L185.23 98.24L186.72 94.96L188.21 94.1L189.7 95.67L191.19 99.5L192.68 105.3L194.17 112.4L195.67 120.19L197.16 128.11L198.65 135.33L200.14 141.2L201.63 145.62L203.12 148.89L204.61 151.4L206.1 153.1L207.59 153.56L209.09 152.62L210.58 150.31L212.07 146.77L213.56 142.5L215.05 137.97L216.54 133.58L218.03 129.63L219.52 126.32L221.01 123.81L222.51 122.27L224 121.59L225.49 121.6L226.98 122.15L228.47 123.08L229.96 124.25L231.45 125.59L232.94 126.92L234.43 128.07L235.93 128.96L237.42 129.64L238.91 130.22L240.4 130.76L241.89 131.4L243.38 132.28L244.87 133.51L246.36 135.1L247.86 137.03L249.35 139.28L250.84 141.78L252.33 144.34L253.82 146.67L255.31 148.53L256.8 149.8L258.29 150.38L259.78 150.3L261.28 149.71L262.77 148.65L264.26 147.17L265.75 145.46L267.24 143.75L268.73 142.17L270.22 140.84L271.71 139.93L273.2 139.45L274.7 139.34L276.19 139.56L277.68 140.09L279.17 140.97L280.66 142.13L282.15 143.57L283.64 145.21L285.13 147.03L286.62 148.84L288.12 150.51L289.61 152.12L291.1 153.67L292.59 154.81L294.08 155.11L295.57 154.43L297.06 152.77L298.55 150.42L300.04 147.81L301.54 145.09L303.03 142.35L304.52 139.69L306.01 137.1L307.5 134.61"/>
<path d="M55.5 148.09L56.99 145.96L58.48 143.3L59.97 139.85L61.46 135.54L62.96 130.64L64.45 125.42L65.94 120.36L67.43 116.32L68.92 113.46L70.41 111.69L71.9 111.08L73.39 111.98L74.88 114.47L76.38 118.41L77.87 123.59L79.36 129.64L80.85 136.62L82.34 143.8L83.83 150.46L85.32 156.17L86.81 160.66L88.3 163.67L89.8 165.14L91.29 164.86L92.78 162.98L94.27 159.53L95.76 154.52L97.25 148.78L98.74 142.89L100.23 137.03L101.72 131.16L103.22 125.21L104.71 119.52L106.2 114.48L107.69 110.23L109.18 106.88L110.67 104.53L112.16 103.11L113.65 102.89L115.14 104.28L116.64 107.36L118.13 112.03L119.62 117.75L121.11 124.06L122.6 131.19L124.09 139.12L125.58 146.87L127.07 153.44L128.57 158.26L130.06 160.73L131.55 160.23L133.04 156.99L134.53 151.47L136.02 144.75L137.51 137.97L139 130.93L140.49 122.81L141.99 113.97L143.48 105.48L144.97 98.22L146.46 92.48L147.95 88.49L149.44 86.44L150.93 86.79L152.42 89.34L153.91 94.11L155.41 100.74L156.9 108.76L158.39 117.14L159.88 125.5L161.37 133.66L162.86 141L164.35 146.9L165.84 150.95L167.33 153.19L168.83 152.94L170.32 150.18L171.81 145.59L173.3 139.84L174.79 133.97L176.28 128.11L177.77 121.96L179.26 114.93L180.75 107.13L182.25 99.59L183.74 93.54L185.23 89.89L186.72 88.72L188.21 90.14L189.7 94.07L191.19 100.22L192.68 107.97L194.17 116.65L195.67 125.53L197.16 133.75L198.65 140.47L200.14 145.37L201.63 148.73L203.12 150.87L204.61 151.95L206.1 151.67L207.59 149.85L209.09 146.67L210.58 142.33L212.07 137.33L213.56 132.21L215.05 127.37L216.54 123.06L218.03 119.42L219.52 116.45L221.01 114.26L222.51 112.74L224 111.65L225.49 110.87L226.98 110.31L228.47 109.97L229.96 109.92L231.45 110.18L232.94 110.66L234.43 111.31L235.93 112.19L237.42 113.35L238.91 114.75L240.4 116.35L241.89 118.17L243.38 120.21L244.87 122.39L246.36 124.65L247.86 127.03L249.35 129.57L250.84 132.23L252.33 134.85L253.82 137.26L255.31 139.41L256.8 141.19L258.29 142.56L259.78 143.61L261.28 144.2L262.77 144.16L264.26 143.52L265.75 142.45L267.24 141.02L268.73 139.41L270.22 137.92L271.71 136.73L273.2 135.98L274.7 135.76L276.19 136.22L277.68 137.42L279.17 139.31L280.66 141.75L282.15 144.52L283.64 147.38L285.13 149.91L286.62 151.82L288.12 153.13L289.61 153.85L291.1 153.68L292.59 152.36L294.08 149.96L295.57 146.67L297.06 143.01L298.55 139.5L300.04 136.31L301.54 133.54L303.03 131.14L304.52 128.96L306.01 126.91L307.5 124.92"/>
<path d="M55.5 150.1L56.99 150.19L58.48 149.58L59.97 148.1L61.46 145.68L62.96 142.23L64.45 137.94L65.94 133.04L67.43 127.96L68.92 123.48L70.41 120.04L71.9 117.63L73.39 116.29L74.88 116.32L76.38 117.92L77.87 121.04L79.36 125.46L80.85 130.86L82.34 137.2L83.83 144L85.32 150.49L86.81 156.14L88.3 160.65L89.8 163.77L91.29 165.42L92.78 165.42L94.27 163.86L95.76 160.77L97.25 156.08L98.74 150.39L100.23 144.41L101.72 138.43L103.22 132.44L104.71 126.28L106.2 120.14L107.69 114.46L109.18 109.5L110.67 105.4L112.16 102.35L113.65 100.33L115.14 99.54L116.64 100.48L118.13 103.43L119.62 108.36L121.11 114.9L122.6 122.35L124.09 130.63L125.58 140.03L127.07 149.93L128.57 158.88L130.06 165.94L131.55 170.65L133.04 172.03L134.53 169.75L136.02 164.33L137.51 156.54L139 148L140.49 139.51L141.99 130.06L143.48 118.99L144.97 107.53L146.46 97.08L147.95 88.4L149.44 81.79L150.93 77.54L152.42 76.16L153.91 77.93L155.41 82.63L156.9 90.19L158.39 99.98L159.88 110.97L161.37 122.05L162.86 132.86L164.35 143.09L165.84 151.74L167.33 158.13L168.83 162.06L170.32 163.25L171.81 161.1L173.3 156.07L174.79 149.33L176.28 141.92L177.77 134.7L179.26 127.45L180.75 119.44L182.25 110.31L183.74 100.78L185.23 92.48L186.72 86.79L188.21 84.05L189.7 84.33L191.19 87.72L192.68 93.83L194.17 102.18L195.67 111.8L197.16 121.88L198.65 131.58L200.14 139.69L201.63 145.65L203.12 149.63L204.61 152.02L206.1 153.19L207.59 153.01L209.09 151.25L210.58 148.05L212.07 143.66L213.56 138.53L215.05 133.25L216.54 128.3L218.03 123.96L219.52 120.36L221.01 117.5L222.51 115.42L224 114.08L225.49 113.24L226.98 112.73L228.47 112.48L229.96 112.47L231.45 112.77L232.94 113.43L234.43 114.4L235.93 115.59L237.42 116.99L238.91 118.63L240.4 120.46L241.89 122.41L243.38 124.45L244.87 126.58L246.36 128.75L247.86 130.91L249.35 133.08L250.84 135.34L252.33 137.72L253.82 140.11L255.31 142.33L256.8 144.31L258.29 145.92L259.78 147.07L261.28 147.83L262.77 148.11L264.26 147.73L265.75 146.62L267.24 144.96L268.73 142.88L270.22 140.54L271.71 138.24L273.2 136.26L274.7 134.79L276.19 133.93L277.68 133.87L279.17 134.72L280.66 136.47L282.15 139.02L283.64 142.17L285.13 145.67L286.62 149.14L288.12 152.13L289.61 154.52L291.1 156.36L292.59 157.47L294.08 157.39L295.57 155.95L297.06 153.34L298.55 149.88L300.04 146.24L301.54 142.86L303.03 139.85L304.52 137.27L306.01 135L307.5 132.82"/>
<path d="M55.5 150.74L56.99 149.21L58.48 146.9L59.97 143.67L61.46 139.56L62.96 134.76L64.45 129.64L65.94 124.55L67.43 120.03L68.92 116.71L70.41 114.56L71.9 113.39L73.39 113.21L74.88 114.18L76.38 116.36L77.87 119.68L79.36 123.99L80.85 129.26L82.34 135.5L83.83 142.12L85.32 148.55L86.81 154.34L88.3 159.12L89.8 162.52L91.29 164.27L92.78 164.14L94.27 162.19L95.76 158.39L97.25 153.01L98.74 146.97L100.23 140.87L101.72 134.95L103.22 129.14L104.71 123.35L106.2 117.91L107.69 113.01L109.18 108.71L110.67 105.06L112.16 102.16L113.65 100.04L115.14 99.23L116.64 100.35L118.13 103.63L119.62 109.11L121.11 116.09L122.6 124.1L124.09 133.36L125.58 143.68L127.07 153.56L128.57 161.68L130.06 167.41L131.55 169.99L133.04 168.68L134.53 163.97L136.02 156.62L137.51 148.03L139 139.74L140.49 131.38L141.99 121.66L143.48 110.89L144.97 100.47L146.46 91.35L147.95 83.9L149.44 78.38L150.93 75.22L152.42 75.11L153.91 78.08L155.41 83.99L156.9 92.67L158.39 103.24L159.88 114.45L161.37 125.43L162.86 135.84L164.35 144.95L165.84 151.75L167.33 155.92L168.83 157.52L170.32 156.22L171.81 152.03L173.3 145.97L174.79 139.18L176.28 132.56L177.77 126.43L179.26 120.08L180.75 112.76L182.25 104.44L183.74 96.22L185.23 89.5L186.72 85.36L188.21 83.96L189.7 85.45L191.19 89.95L192.68 97.08L194.17 106.18L195.67 116.34L197.16 126.64L198.65 135.98L200.14 143.36L201.63 148.44L203.12 151.55L204.61 153.15L206.1 153.46L207.59 152.35L209.09 149.89L210.58 146.37L212.07 142.05L213.56 137.41L215.05 132.85L216.54 128.6L218.03 124.72L219.52 121.2L221.01 118.06L222.51 115.42L224 113.26L225.49 111.52L226.98 110.24L228.47 109.46L229.96 109.23L231.45 109.57L232.94 110.35L234.43 111.32L235.93 112.31L237.42 113.28L238.91 114.22L240.4 115.12L241.89 116.09L243.38 117.29L244.87 118.84L246.36 120.79L247.86 123.14L249.35 125.89L250.84 129L252.33 132.22L253.82 135.24L255.31 137.82L256.8 139.86L258.29 141.25L259.78 142.14L261.28 142.68L262.77 142.86L264.26 142.61L265.75 142.08L267.24 141.36L268.73 140.44L270.22 139.39L271.71 138.38L273.2 137.48L274.7 136.79L276.19 136.44L277.68 136.69L279.17 137.72L280.66 139.61L282.15 142.3L283.64 145.59L285.13 149.18L286.62 152.55L288.12 155.27L289.61 157.23L291.1 158.32L292.59 158.18L294.08 156.55L295.57 153.54L297.06 149.56L298.55 145.22L300.04 141.23L301.54 137.83L303.03 135.04L304.52 132.74L306.01 130.65L307.5 128.47"/>
<path d="M55.5 148.96L56.99 147.79L58.48 145.99L59.97 143.23L61.46 139.5L62.96 135.01L64.45 130.06L65.94 125.21L67.43 121.21L68.92 118.25L70.41 116.35L71.9 115.7L73.39 116.56L74.88 118.95L76.38 122.74L77.87 127.53L79.36 133.11L80.85 139.23L82.34 145.22L83.83 150.51L85.32 154.76L86.81 157.75L88.3 159.44L89.8 159.79L91.29 158.83L92.78 156.76L94.27 153.58L95.76 149.55L97.25 145.25L98.74 141.03L100.23 136.96L101.72 132.86L103.22 128.61L104.71 124.43L106.2 120.51L107.69 116.97L109.18 113.92L110.67 111.48L112.16 109.7L113.65 108.98L115.14 109.77L116.64 112.27L118.13 116.49L119.62 121.95L121.11 128.31L122.6 135.73L124.09 144.18L125.58 152.62L127.07 159.96L128.57 165.51L130.06 168.63L131.55 168.53L133.04 165.28L134.53 159.48L136.02 152.03L137.51 144.35L139 136.45L140.49 127.38L141.99 117.28L143.48 107.62L144.97 99.35L146.46 92.91L147.95 88.45L149.44 86.2L150.93 86.59L152.42 89.57L153.91 94.79L155.41 102.13L156.9 110.84L158.39 119.93L159.88 128.7L161.37 137.1L162.86 144.68L164.35 150.62L165.84 154.62L167.33 156.69L168.83 156.4L170.32 153.47L171.81 148.71L173.3 142.98L174.79 137.13L176.28 131.42L177.77 125.33L179.26 118.27L180.75 110.34L182.25 102.66L183.74 96.57L185.23 92.99L186.72 91.99L188.21 93.66L189.7 97.92L191.19 104.46L192.68 112.54L194.17 121.47L195.67 130.47L197.16 138.62L198.65 145.14L200.14 149.78L201.63 152.74L203.12 154.38L204.61 154.79L206.1 153.82L207.59 151.52L209.09 148.12L210.58 143.95L212.07 139.52L213.56 135.3L215.05 131.59L216.54 128.54L218.03 126.14L219.52 124.33L221.01 123.06L222.51 122.11L224 121.27L225.49 120.41L226.98 119.48L228.47 118.55L229.96 117.76L231.45 117.21L232.94 116.92L234.43 116.93L235.93 117.35L237.42 118.23L238.91 119.52L240.4 121.15L241.89 123.05L243.38 125.15L244.87 127.31L246.36 129.42L247.86 131.48L249.35 133.52L250.84 135.51L252.33 137.35L253.82 138.96L255.31 140.37L256.8 141.53L258.29 142.51L259.78 143.37L261.28 144.02L262.77 144.3L264.26 144.2L265.75 143.81L267.24 143.13L268.73 142.25L270.22 141.38L271.71 140.63L273.2 140.1L274.7 139.86L276.19 140.12L277.68 140.95L279.17 142.41L280.66 144.42L282.15 146.87L283.64 149.58L285.13 152.2L286.62 154.46L288.12 156.33L289.61 157.75L291.1 158.33L292.59 157.71L294.08 155.88L295.57 152.94L297.06 149.35L298.55 145.64L300.04 142.03L301.54 138.66L303.03 135.62L304.52 132.86L306.01 130.37L307.5 128.18"/>
<path d="M55.5 153.22L56.99 153.23L58.48 151.85L59.97 148.9L61.46 144.61L62.96 139.49L64.45 134.24L65.94 129.32L67.43 125.17L68.92 122.16L70.41 120.01L71.9 118.24L73.39 116.81L74.88 116.25L76.38 117.14L77.87 119.93L79.36 124.67L80.85 131.11L82.34 138.87L83.83 146.83L85.32 153.8L86.81 159.11L88.3 162.6L89.8 164.46L91.29 165.15L92.78 164.91L94.27 163.96L95.76 162.05L97.25 158.69L98.74 154.05L100.23 148.39L101.72 141.97L103.22 135.1L104.71 128.18L106.2 121.94L107.69 117L109.18 113.41L110.67 110.88L112.16 109.03L113.65 107.44L115.14 106.29L116.64 106.34L118.13 108.26L119.62 112.51L121.11 118.93L122.6 126.85L124.09 135.99L125.58 145.98L127.07 155.61L128.57 163.38L130.06 168.64L131.55 171.34L133.04 171.12L134.53 168.19L136.02 163.21L137.51 156.71L139 149.73L140.49 142.15L141.99 132.54L143.48 120.7L144.97 108.47L146.46 97.62L147.95 89.18L149.44 83.58L150.93 80.89L152.42 81.25L153.91 84.27L155.41 89.38L156.9 96.46L158.39 105.12L159.88 114.74L161.37 124.86L162.86 135.49L164.35 146.04L165.84 155.05L167.33 161.45L168.83 164.78L170.32 164.43L171.81 160.19L173.3 153.32L174.79 145.44L176.28 137.98L177.77 131.57L179.26 125.46L180.75 118.38L182.25 109.71L183.74 100.27L185.23 91.81L186.72 85.98L188.21 83.43L189.7 84.66L191.19 89.72L192.68 97.92L194.17 108.16L195.67 119.02L197.16 129.37L198.65 138.32L200.14 145.16L201.63 149.99L203.12 153.54L204.61 156.41L206.1 158.67L207.59 159.67L209.09 158.71L210.58 155.61L212.07 150.54L213.56 144.31L215.05 137.97L216.54 132.46L218.03 128.3L219.52 125.51L221.01 123.73L222.51 122.46L224 121.18L225.49 119.51L226.98 117.51L228.47 115.57L229.96 114.23L231.45 113.92L232.94 114.7L234.43 116.21L235.93 117.87L237.42 119.21L238.91 120.02L240.4 120.33L241.89 120.52L243.38 121.11L244.87 122.55L246.36 124.9L247.86 127.94L249.35 131.21L250.84 134.28L252.33 136.81L253.82 138.63L255.31 139.93L256.8 141.14L258.29 142.6L259.78 144.48L261.28 146.68L262.77 148.69L264.26 149.78L265.75 149.55L267.24 148.04L268.73 145.61L270.22 142.93L271.71 140.79L273.2 139.74L274.7 139.91L276.19 141.01L277.68 142.69L279.17 144.56L280.66 146.37L282.15 148.15L283.64 150.14L285.13 152.62L286.62 155.57L288.12 158.69L289.61 161.68L291.1 164.09L292.59 165.14L294.08 164.13L295.57 161.06L297.06 156.49L298.55 151.37L300.04 146.82L301.54 143.34L303.03 140.83L304.52 138.88L306.01 136.84L307.5 134.14"/>
<path d="M55.5 146.21L56.99 144.36L58.48 141.93L59.97 138.6L61.46 134.38L62.96 129.54L64.45 124.33L65.94 119.38L67.43 115.44L68.92 112.71L70.41 111.13L71.9 110.82L73.39 112.05L74.88 114.84L76.38 119.09L77.87 124.42L79.36 130.62L80.85 137.58L82.34 144.61L83.83 151.07L85.32 156.53L86.81 160.71L88.3 163.42L89.8 164.51L91.29 163.85L92.78 161.58L94.27 157.66L95.76 152.25L97.25 146.11L98.74 139.77L100.23 133.46L101.72 127.14L103.22 120.75L104.71 114.66L106.2 109.21L107.69 104.59L109.18 100.93L110.67 98.36L112.16 96.85L113.65 96.73L115.14 98.44L116.64 102.09L118.13 107.58L119.62 114.31L121.11 121.76L122.6 130.06L124.09 139.24L125.58 148.3L127.07 156.04L128.57 161.8L130.06 165L131.55 164.84L133.04 161.41L134.53 155.33L136.02 147.56L137.51 139.59L139 131.42L140.49 121.94L141.99 111.18L143.48 100.65L144.97 91.5L146.46 84.23L147.95 79.14L149.44 76.51L150.93 76.9L152.42 80.33L153.91 86.49L155.41 95.22L156.9 105.68L158.39 116.72L159.88 127.48L161.37 137.76L162.86 147.02L164.35 154.24L165.84 158.98L167.33 161.22L168.83 160.47L170.32 156.36L171.81 149.82L173.3 141.94L174.79 133.82L176.28 126.01L177.77 118.07L179.26 109.35L180.75 99.87L182.25 90.8L183.74 83.67L185.23 79.57L186.72 78.49L188.21 80.46L189.7 85.38L191.19 92.79L192.68 102L194.17 112.13L195.67 122.38L197.16 131.77L198.65 139.36L200.14 144.78L201.63 148.34L203.12 150.42L204.61 151.19L206.1 150.43L207.59 148.05L209.09 144.33L210.58 139.55L212.07 134.3L213.56 129.14L215.05 124.47L216.54 120.5L218.03 117.3L219.52 114.87L221.01 113.23L222.51 112.24L224 111.71L225.49 111.51L226.98 111.59L228.47 111.93L229.96 112.6L231.45 113.55L232.94 114.66L234.43 115.84L235.93 117.08L237.42 118.38L238.91 119.66L240.4 120.92L241.89 122.2L243.38 123.51L244.87 124.86L246.36 126.25L247.86 127.76L249.35 129.47L250.84 131.35L252.33 133.27L253.82 135.12L255.31 136.82L256.8 138.28L258.29 139.5L259.78 140.51L261.28 141.18L262.77 141.33L264.26 140.95L265.75 140.17L267.24 139.02L268.73 137.67L270.22 136.38L271.71 135.35L273.2 134.71L274.7 134.55L276.19 135.04L277.68 136.26L279.17 138.15L280.66 140.57L282.15 143.3L283.64 146.12L285.13 148.62L286.62 150.49L288.12 151.79L289.61 152.59L291.1 152.63L292.59 151.55L294.08 149.36L295.57 146.26L297.06 142.71L298.55 139.32L300.04 136.3L301.54 133.69L303.03 131.48L304.52 129.51L306.01 127.63L307.5 125.81"/>
<path d="M55.5 138.21L56.99 135.81L58.48 133.25L59.97 130.13L61.46 126.43L62.96 122.33L64.45 118.09L65.94 114.39L67.43 111.83L68.92 110.56L70.41 110.6L71.9 112.17L73.39 115.46L74.88 120.34L76.38 126.53L77.87 133.49L79.36 140.96L80.85 148.54L82.34 155.47L83.83 161.22L85.32 165.54L86.81 168.3L88.3 169.53L89.8 169.18L91.29 167.29L92.78 163.98L94.27 159.11L95.76 152.96L97.25 146.15L98.74 139.02L100.23 131.67L101.72 124.06L103.22 116.37L104.71 109.16L106.2 102.92L107.69 97.93L109.18 94.43L110.67 92.51L112.16 92.13L113.65 93.55L115.14 96.98L116.64 102.28L118.13 109.19L119.62 116.99L121.11 125.35L122.6 134.59L124.09 144.62L125.58 154.25L127.07 162.51L128.57 168.87L130.06 172.51L131.55 172.65L133.04 169.45L134.53 163.43L136.02 155.66L137.51 147.31L139 137.98L140.49 126.83L141.99 114.6L143.48 102.91L144.97 92.8L146.46 84.76L147.95 79.1L149.44 76.15L150.93 76.31L152.42 79.38L153.91 85.1L155.41 93.14L156.9 102.67L158.39 112.66L159.88 122.64L161.37 132.54L162.86 141.71L164.35 149.35L165.84 155.12L167.33 158.82L168.83 159.72L170.32 157.7L171.81 153.55L173.3 148.07L174.79 142.13L176.28 135.83L177.77 128.67L179.26 120.22L180.75 110.92L182.25 102.21L183.74 95.44L185.23 91.33L186.72 89.84L188.21 90.96L189.7 94.44L191.19 99.9L192.68 106.52L194.17 113.68L195.67 120.76L197.16 126.94L198.65 131.72L200.14 135.19L201.63 137.75L203.12 139.77L204.61 141.2L206.1 141.64L207.59 140.94L209.09 139.18L210.58 136.53L212.07 133.44L213.56 130.37L215.05 127.67L216.54 125.54L218.03 124.08L219.52 123.32L221.01 123.26L222.51 123.6L224 124.04L225.49 124.33L226.98 124.3L228.47 123.9L229.96 123.19L231.45 122.21L232.94 121.01L234.43 119.75L235.93 118.65L237.42 117.89L238.91 117.5L240.4 117.54L241.89 117.99L243.38 118.79L244.87 119.81L246.36 120.99L247.86 122.38L249.35 124.06L250.84 126.03L252.33 128.23L253.82 130.67L255.31 133.33L256.8 136.12L258.29 139L259.78 141.85L261.28 144.31L262.77 146.08L264.26 147.07L265.75 147.29L267.24 146.75L268.73 145.69L270.22 144.42L271.71 143.23L273.2 142.3L274.7 141.85L276.19 142.06L277.68 142.9L279.17 144.28L280.66 145.95L282.15 147.62L283.64 149L285.13 149.71L286.62 149.64L288.12 149L289.61 147.93L291.1 146.25L292.59 143.85L294.08 140.93L295.57 137.71L297.06 134.68L298.55 132.23L300.04 130.36L301.54 128.99L303.03 127.96L304.52 127.06L306.01 126.23L307.5 125.48"/>
<path d="M55.5 156.67L56.99 154.51L58.48 151.18L59.97 146.57L61.46 140.98L62.96 135.12L64.45 129.56L65.94 124.89L67.43 121.67L68.92 119.73L70.41 118.53L71.9 117.8L73.39 117.78L74.88 118.78L76.38 121.17L77.87 125.13L79.36 130.72L80.85 137.84L82.34 145.66L83.83 153.05L85.32 159.15L86.81 163.42L88.3 165.73L89.8 166.3L91.29 165.5L92.78 163.83L94.27 161.49L95.76 158.43L97.25 154.89L98.74 150.9L100.23 146.28L101.72 140.8L103.22 134.53L104.71 128.09L106.2 122.31L107.69 117.76L109.18 114.69L110.67 113.03L112.16 112.34L113.65 112.41L115.14 113.33L116.64 115.2L118.13 118.26L119.62 122.48L121.11 127.86L122.6 134.77L124.09 143.38L125.58 152.67L127.07 161.02L128.57 167.2L130.06 170.46L131.55 169.99L133.04 165.98L134.53 159.41L136.02 151.47L137.51 143.86L139 136.83L140.49 128.93L141.99 119.38L143.48 109.15L144.97 99.27L146.46 90.48L147.95 83.45L149.44 78.94L150.93 77.91L152.42 80.67L153.91 86.78L155.41 95.8L156.9 106.52L158.39 117.55L159.88 127.83L161.37 137.34L162.86 146.12L164.35 153.54L165.84 159.37L167.33 163.53L168.83 165.36L170.32 163.85L171.81 159.27L173.3 152.53L174.79 144.66L176.28 136.74L177.77 128.78L179.26 120.53L180.75 111.99L182.25 104.05L183.74 97.94L185.23 94.41L186.72 93.15L188.21 94.03L189.7 97.19L191.19 102.55L192.68 110.03L194.17 119.09L195.67 129.09L197.16 138.97L198.65 147.3L200.14 153.2L201.63 156.62L203.12 157.88L204.61 157.46L206.1 155.63L207.59 152.71L209.09 149.2L210.58 145.36L212.07 141.41L213.56 137.4L215.05 133.3L216.54 129.04L218.03 124.75L219.52 120.76L221.01 117.56L222.51 115.51L224 114.63L225.49 114.71L226.98 115.35L228.47 116.09L229.96 116.56L231.45 116.63L232.94 116.35L234.43 116.05L235.93 116.23L237.42 117.29L238.91 119.31L240.4 122.07L241.89 125.17L243.38 128.1L244.87 130.5L246.36 132.24L247.86 133.58L249.35 135.02L250.84 137.02L252.33 139.73L253.82 143.05L255.31 146.62L256.8 149.85L258.29 152.22L259.78 153.49L261.28 153.58L262.77 152.61L264.26 151.05L265.75 149.47L267.24 148.2L268.73 147.33L270.22 146.81L271.71 146.38L273.2 145.79L274.7 144.95L276.19 144.13L277.68 143.83L279.17 144.46L280.66 146.32L282.15 149.34L283.64 153.13L285.13 156.89L286.62 159.74L288.12 161.31L289.61 161.58L291.1 160.54L292.59 158.18L294.08 154.92L295.57 151.27L297.06 147.67L298.55 144.52L300.04 141.73L301.54 138.9L303.03 135.84L304.52 132.41L306.01 128.77L307.5 125.36"/>
<path d="M55.5 147.19L56.99 145.92L58.48 144.19L59.97 141.4L61.46 137.48L62.96 132.57L64.45 127.2L65.94 122.37L67.43 118.73L68.92 116.54L70.41 115.92L71.9 117.02L73.39 119.7L74.88 123.53L76.38 128.04L77.87 132.8L79.36 137.87L80.85 143.04L82.34 148.04L83.83 152.74L85.32 157.09L86.81 160.84L88.3 163.7L89.8 165.16L91.29 164.95L92.78 162.85L94.27 158.72L95.76 153.27L97.25 147.39L98.74 141.68L100.23 136.39L101.72 131.51L103.22 127.07L104.71 123.2L106.2 119.74L107.69 116.52L109.18 113.55L110.67 110.9L112.16 108.99L113.65 108.59L115.14 110.29L116.64 114.24L118.13 120.15L119.62 127.21L121.11 135.03L122.6 143.5L124.09 151.89L125.58 158.94L127.07 163.95L128.57 166.83L130.06 167.12L131.55 164.76L133.04 160.29L134.53 154.28L136.02 147.8L137.51 141.2L139 133.31L140.49 123.4L141.99 112.57L143.48 102.34L144.97 93.73L146.46 87.36L147.95 83.65L149.44 83.08L150.93 85.67L152.42 90.92L153.91 98.37L155.41 107.25L156.9 116.58L158.39 125.55L159.88 134.14L161.37 142.39L162.86 149.74L164.35 155.64L165.84 159.85L167.33 161.81L168.83 160.67L170.32 156.59L171.81 150.45L173.3 143.26L174.79 136L176.28 128.8L177.77 121.37L179.26 113.58L180.75 106.12L182.25 100.2L183.74 96.64L185.23 95.34L186.72 96.12L188.21 98.97L189.7 103.71L191.19 110.19L192.68 117.93L194.17 126.53L195.67 135.31L197.16 143.15L198.65 149.32L200.14 153.64L201.63 156.14L203.12 156.98L204.61 156.07L206.1 153.46L207.59 149.66L209.09 145.19L210.58 140.66L212.07 136.55L213.56 133.06L215.05 130.09L216.54 127.39L218.03 124.74L219.52 122.14L221.01 119.72L222.51 117.58L224 115.96L225.49 115.08L226.98 115.01L228.47 115.7L229.96 116.93L231.45 118.27L232.94 119.36L234.43 120.05L235.93 120.45L237.42 120.76L238.91 121.29L240.4 122.36L241.89 124.18L243.38 126.69L244.87 129.65L246.36 132.75L247.86 135.71L249.35 138.3L250.84 140.34L252.33 141.87L253.82 143.1L255.31 144.28L256.8 145.58L258.29 147.16L259.78 148.83L261.28 150.13L262.77 150.65L264.26 150.22L265.75 148.81L267.24 146.61L268.73 144.1L270.22 141.88L271.71 140.41L273.2 139.98L274.7 140.71L276.19 142.51L277.68 144.99L279.17 147.76L280.66 150.38L282.15 152.61L283.64 154.28L285.13 155.34L286.62 156.04L288.12 156.73L289.61 157.35L291.1 157.4L292.59 156.47L294.08 154.35L295.57 151.05L297.06 146.99L298.55 142.64L300.04 138.35L301.54 134.51L303.03 131.38L304.52 129.01L306.01 127.36L307.5 126.2"/>
<path d="M55.5 154.3L56.99 153.83L58.48 152.6L59.97 150.46L61.46 147.31L62.96 143.29L64.45 138.66L65.94 133.69L67.43 129.02L68.92 125.22L70.41 122.37L71.9 120.37L73.39 119.41L74.88 119.69L76.38 121.17L77.87 123.73L79.36 127.05L80.85 131.02L82.34 135.47L83.83 139.79L85.32 143.53L86.81 146.43L88.3 148.33L89.8 149.16L91.29 148.85L92.78 147.37L94.27 144.81L95.76 141.15L97.25 136.55L98.74 131.6L100.23 126.66L101.72 121.78L103.22 116.88L104.71 111.93L106.2 107.27L107.69 103.2L109.18 99.89L110.67 97.48L112.16 96.08L113.65 95.73L115.14 96.7L116.64 99.35L118.13 103.71L119.62 109.62L121.11 116.55L122.6 124.09L124.09 132.43L125.58 141.46L127.07 150.19L128.57 157.65L130.06 163.32L131.55 166.59L133.04 166.82L134.53 164.18L136.02 159.26L137.51 153.02L139 146.61L140.49 139.71L141.99 131.32L143.48 121.78L144.97 112.38L146.46 104.01L147.95 97.02L149.44 91.68L150.93 88.35L152.42 87.6L153.91 89.36L155.41 93.57L156.9 100.03L158.39 108.07L159.88 116.56L161.37 124.96L162.86 133.15L164.35 140.37L165.84 145.77L167.33 148.97L168.83 149.95L170.32 148.06L171.81 143.26L173.3 136.59L174.79 128.94L176.28 121.43L177.77 114.23L179.26 106.86L180.75 98.76L182.25 90.2L183.74 82.49L185.23 76.99L186.72 74.44L188.21 74.77L189.7 78L191.19 83.87L192.68 91.99L194.17 101.5L195.67 111.64L197.16 121.66L198.65 130.6L200.14 137.8L201.63 143.15L203.12 146.99L204.61 149.71L206.1 151.38L207.59 151.77L209.09 150.84L210.58 148.8L212.07 145.85L213.56 142.43L215.05 138.94L216.54 135.63L218.03 132.64L219.52 129.99L221.01 127.7L222.51 125.81L224 124.22L225.49 122.8L226.98 121.5L228.47 120.32L229.96 119.31L231.45 118.53L232.94 117.99L234.43 117.6L235.93 117.31L237.42 117.14L238.91 117.08L240.4 117.06L241.89 117.08L243.38 117.18L244.87 117.37L246.36 117.66L247.86 118.1L249.35 118.8L250.84 119.85L252.33 121.23L253.82 122.81L255.31 124.49L256.8 126.17L258.29 127.71L259.78 129.08L261.28 130.22L262.77 130.98L264.26 131.19L265.75 130.91L267.24 130.31L268.73 129.45L270.22 128.59L271.71 128L273.2 127.89L274.7 128.37L276.19 129.54L277.68 131.54L279.17 134.34L280.66 137.87L282.15 141.92L283.64 146.21L285.13 150.46L286.62 154.2L288.12 157.19L289.61 159.44L291.1 160.97L292.59 161.39L294.08 160.45L295.57 158.28L297.06 155.07L298.55 151.4L300.04 147.83L301.54 144.49L303.03 141.45L304.52 138.65L306.01 135.89L307.5 133.05"/>
<path d="M55.5 148.99L56.99 147.63L58.48 145.83L59.97 143.27L61.46 139.89L62.96 135.87L64.45 131.42L65.94 127.01L67.43 123.36L68.92 120.69L70.41 118.98L71.9 118.33L73.39 119.03L74.88 121.17L76.38 124.67L77.87 129.25L79.36 134.64L80.85 140.79L82.34 147.08L83.83 152.86L85.32 157.73L86.81 161.46L88.3 163.85L89.8 164.85L91.29 164.36L92.78 162.49L94.27 159.29L95.76 154.75L97.25 149.56L98.74 144.22L100.23 138.88L101.72 133.46L103.22 127.87L104.71 122.36L106.2 117.3L107.69 112.87L109.18 109.21L110.67 106.47L112.16 104.66L113.65 104.05L115.14 105.09L116.64 107.92L118.13 112.48L119.62 118.28L121.11 124.8L122.6 132.14L124.09 140.37L125.58 148.66L127.07 155.87L128.57 161.33L130.06 164.55L131.55 164.78L133.04 162.06L134.53 156.96L136.02 150.31L137.51 143.48L139 136.59L140.49 128.63L141.99 119.54L143.48 110.56L144.97 102.68L146.46 96.34L147.95 91.73L149.44 89.09L150.93 88.93L152.42 91.27L153.91 95.96L155.41 102.87L156.9 111.41L158.39 120.57L159.88 129.67L161.37 138.51L162.86 146.62L164.35 153.13L165.84 157.6L167.33 160L168.83 159.84L170.32 156.82L171.81 151.64L173.3 145.22L174.79 138.54L176.28 132.03L177.77 125.38L179.26 117.97L180.75 109.78L182.25 101.76L183.74 95.26L185.23 91.26L186.72 89.86L188.21 91.08L189.7 94.89L191.19 100.91L192.68 108.56L194.17 117.1L195.67 125.81L197.16 133.91L198.65 140.52L200.14 145.31L201.63 148.56L203.12 150.64L204.61 151.73L206.1 151.63L207.59 150.17L209.09 147.51L210.58 143.84L212.07 139.6L213.56 135.26L215.05 131.18L216.54 127.56L218.03 124.51L219.52 122.03L221.01 120.21L222.51 118.96L224 118.12L225.49 117.57L226.98 117.26L228.47 117.19L229.96 117.41L231.45 117.92L232.94 118.63L234.43 119.45L235.93 120.39L237.42 121.48L238.91 122.67L240.4 123.92L241.89 125.28L243.38 126.77L244.87 128.35L246.36 130.04L247.86 131.87L249.35 133.93L250.84 136.17L252.33 138.44L253.82 140.58L255.31 142.5L256.8 144.04L258.29 145.16L259.78 145.89L261.28 146.14L262.77 145.77L264.26 144.82L265.75 143.48L267.24 141.85L268.73 140.13L270.22 138.59L271.71 137.44L273.2 136.78L274.7 136.66L276.19 137.2L277.68 138.44L279.17 140.3L280.66 142.67L282.15 145.34L283.64 148.12L285.13 150.65L286.62 152.65L288.12 154.15L289.61 155.18L291.1 155.52L292.59 154.81L294.08 153.04L295.57 150.36L297.06 147.15L298.55 143.95L300.04 140.97L301.54 138.29L303.03 135.9L304.52 133.69L306.01 131.55L307.5 129.48"/>
<path d="M55.5 151.03L56.99 150.09L58.48 148.64L59.97 146.5L61.46 143.46L62.96 139.58L64.45 135.12L65.94 130.32L67.43 125.92L68.92 122.66L70.41 120.75L71.9 120.03L73.39 120.6L74.88 122.66L76.38 126.12L77.87 130.79L79.36 136.2L80.85 142.1L82.34 148.36L83.83 154.34L85.32 159.48L86.81 163.47L88.3 166.21L89.8 167.61L91.29 167.68L92.78 166.37L94.27 163.77L95.76 159.96L97.25 154.91L98.74 149.25L100.23 143.53L101.72 137.89L103.22 132.35L104.71 126.85L106.2 121.68L107.69 117.24L109.18 113.72L110.67 111.18L112.16 109.68L113.65 109.13L115.14 109.6L116.64 111.41L118.13 114.71L119.62 119.29L121.11 124.86L122.6 130.86L124.09 137.52L125.58 145.02L127.07 152.77L128.57 159.63L130.06 164.82L131.55 167.89L133.04 167.99L134.53 164.88L136.02 159.22L137.51 151.72L139 143.85L140.49 135.83L141.99 126.56L143.48 115.94L144.97 105.55L146.46 96.58L147.95 89.59L149.44 84.84L150.93 82.6L152.42 83.43L153.91 87.3L155.41 93.93L156.9 103.12L158.39 114.06L159.88 125.48L161.37 136.55L162.86 147.19L164.35 156.72L165.84 164.12L167.33 168.89L168.83 171.1L170.32 169.93L171.81 165.08L173.3 157.6L174.79 148.54L176.28 139.32L177.77 130.35L179.26 121.19L180.75 111.07L182.25 100.15L183.74 89.91L185.23 82.18L186.72 78.1L188.21 77.6L189.7 80.77L191.19 87.23L192.68 96.5L194.17 107.52L195.67 119.31L197.16 130.94L198.65 141.27L200.14 149.34L201.63 154.9L203.12 158.38L204.61 160.31L206.1 160.91L207.59 159.92L209.09 157.25L210.58 153.12L212.07 147.79L213.56 141.84L215.05 135.87L216.54 130.33L218.03 125.52L219.52 121.61L221.01 118.69L222.51 116.85L224 115.99L225.49 115.87L226.98 116.3L228.47 117.13L229.96 118.24L231.45 119.57L232.94 121.05L234.43 122.55L235.93 123.99L237.42 125.38L238.91 126.8L240.4 128.25L241.89 129.7L243.38 131.19L244.87 132.71L246.36 134.2L247.86 135.58L249.35 136.87L250.84 138.11L252.33 139.3L253.82 140.37L255.31 141.26L256.8 142L258.29 142.61L259.78 143.11L261.28 143.63L262.77 144.09L264.26 144.3L265.75 144.21L267.24 143.86L268.73 143.27L270.22 142.49L271.71 141.77L273.2 141.26L274.7 141.12L276.19 141.45L277.68 142.44L279.17 144.23L280.66 146.77L282.15 149.93L283.64 153.45L285.13 157.05L286.62 160.2L288.12 162.48L289.61 163.89L291.1 164.45L292.59 163.87L294.08 161.8L295.57 158.38L297.06 153.85L298.55 148.92L300.04 144.34L301.54 140.39L303.03 137.17L304.52 134.64L306.01 132.52L307.5 130.57"/>
<path d="M55.5 158.52L56.99 155.64L58.48 152.13L59.97 147.65L61.46 142.37L62.96 136.62L64.45 130.77L65.94 125.59L67.43 121.64L68.92 118.95L70.41 117.41L71.9 117.19L73.39 118.44L74.88 121.06L76.38 124.93L77.87 129.67L79.36 135.28L80.85 141.56L82.34 147.84L83.83 153.64L85.32 158.66L86.81 162.62L88.3 165.36L89.8 166.61L91.29 166.24L92.78 164.23L94.27 160.39L95.76 155.05L97.25 148.98L98.74 142.67L100.23 136.28L101.72 129.79L103.22 123.29L104.71 117.29L106.2 112.13L107.69 107.93L109.18 104.78L110.67 102.7L112.16 101.64L113.65 101.95L115.14 104.07L116.64 108.09L118.13 113.89L119.62 120.88L121.11 128.74L122.6 137.88L124.09 148.17L125.58 158.22L127.07 166.75L128.57 173.1L130.06 176.38L131.55 175.69L133.04 171.3L134.53 164.02L136.02 155.14L137.51 146.16L139 136.68L140.49 125.67L141.99 113.78L143.48 102.69L144.97 93.4L146.46 86.25L147.95 81.42L149.44 79.23L150.93 80.08L152.42 83.82L153.91 90.19L155.41 98.92L156.9 109.14L158.39 119.7L159.88 130.07L161.37 140.12L162.86 149.04L164.35 155.93L165.84 160.39L167.33 162.27L168.83 160.86L170.32 156.22L171.81 149.45L173.3 141.59L174.79 133.76L176.28 126.12L177.77 118.14L179.26 109.32L180.75 100.1L182.25 91.95L183.74 86.21L185.23 83.53L186.72 83.78L188.21 86.97L189.7 92.76L191.19 100.78L192.68 110.09L194.17 120.04L195.67 129.86L197.16 138.53L198.65 145.45L200.14 150.59L201.63 154.25L203.12 156.8L204.61 158.11L206.1 157.8L207.59 155.81L209.09 152.31L210.58 147.61L212.07 142.34L213.56 137.06L215.05 132.21L216.54 128.06L218.03 124.7L219.52 122.2L221.01 120.57L222.51 119.55L224 118.84L225.49 118.27L226.98 117.72L228.47 117.2L229.96 116.8L231.45 116.55L232.94 116.45L234.43 116.57L235.93 117.06L237.42 117.97L238.91 119.27L240.4 120.87L241.89 122.75L243.38 124.78L244.87 126.83L246.36 128.81L247.86 130.78L249.35 132.82L250.84 134.91L252.33 136.96L253.82 138.92L255.31 140.79L256.8 142.46L258.29 143.96L259.78 145.24L261.28 146.02L262.77 146.06L264.26 145.39L265.75 144.13L267.24 142.36L268.73 140.38L270.22 138.57L271.71 137.22L273.2 136.54L274.7 136.72L276.19 137.95L277.68 140.22L279.17 143.39L280.66 147.19L282.15 151.24L283.64 155.16L285.13 158.44L286.62 160.81L288.12 162.38L289.61 163.18L291.1 162.89L292.59 161.31L294.08 158.63L295.57 155.12L297.06 151.37L298.55 147.91L300.04 144.78L301.54 141.97L303.03 139.33L304.52 136.67L306.01 133.89L307.5 131.05"/>
<path d="M55.5 149.34L56.99 148.5L58.48 147.14L59.97 145.02L61.46 142.08L62.96 138.51L64.45 134.5L65.94 130.45L67.43 127.03L68.92 124.53L70.41 122.89L71.9 122.11L73.39 122.47L74.88 124.15L76.38 127.13L77.87 131.25L79.36 136.28L80.85 142.22L82.34 148.59L83.83 154.69L85.32 160L86.81 164.2L88.3 166.98L89.8 168.24L91.29 167.79L92.78 165.68L94.27 162.01L95.76 156.73L97.25 150.49L98.74 144.02L100.23 137.6L101.72 131.25L103.22 124.82L104.71 118.47L106.2 112.62L107.69 107.47L109.18 103.14L110.67 99.79L112.16 97.44L113.65 96.3L115.14 96.93L116.64 99.61L118.13 104.32L119.62 110.72L121.11 118.11L122.6 126.43L124.09 135.9L125.58 145.85L127.07 154.84L128.57 161.98L130.06 166.84L131.55 168.51L133.04 166.75L134.53 162.17L136.02 155.52L137.51 148.36L139 141.33L140.49 133.36L141.99 123.89L143.48 114.1L144.97 105.21L146.46 97.85L147.95 92.28L149.44 88.75L150.93 87.8L152.42 89.66L153.91 94.18L155.41 101.28L156.9 110.37L158.39 120.44L159.88 130.48L161.37 140.15L162.86 149.07L164.35 156.29L165.84 161.19L167.33 163.69L168.83 163.47L170.32 160.1L171.81 154.18L173.3 146.82L174.79 139.07L176.28 131.62L177.77 124.24L179.26 116.2L180.75 107.21L182.25 97.98L183.74 90L185.23 84.48L186.72 81.7L188.21 81.8L189.7 84.86L191.19 90.59L192.68 98.54L194.17 107.86L195.67 117.79L197.16 127.46L198.65 135.74L200.14 142.07L201.63 146.59L203.12 149.62L204.61 151.46L206.1 151.96L207.59 150.92L209.09 148.53L210.58 145.02L212.07 140.87L213.56 136.63L215.05 132.72L216.54 129.36L218.03 126.62L219.52 124.45L221.01 122.87L222.51 121.81L224 121.06L225.49 120.48L226.98 120.06L228.47 119.81L229.96 119.85L231.45 120.23L232.94 120.89L234.43 121.72L235.93 122.69L237.42 123.79L238.91 124.96L240.4 126.1L241.89 127.24L243.38 128.39L244.87 129.58L246.36 130.8L247.86 132.15L249.35 133.72L250.84 135.56L252.33 137.51L253.82 139.39L255.31 141.07L256.8 142.39L258.29 143.25L259.78 143.69L261.28 143.66L262.77 143.02L264.26 141.77L265.75 140.13L267.24 138.27L268.73 136.36L270.22 134.67L271.71 133.41L273.2 132.7L274.7 132.56L276.19 133.1L277.68 134.39L279.17 136.39L280.66 139.01L282.15 142.1L283.64 145.47L285.13 148.81L286.62 151.76L288.12 154.24L289.61 156.28L291.1 157.65L292.59 157.9L294.08 156.87L295.57 154.66L297.06 151.62L298.55 148.32L300.04 145.17L301.54 142.31L303.03 139.83L304.52 137.64L306.01 135.61L307.5 133.68"/>
<path d="M55.5 162.89L56.99 160.26L58.48 156.83L59.97 152.42L61.46 147.19L62.96 141.56L64.45 135.8L65.94 130.46L67.43 126.22L68.92 123.07L70.41 120.75L71.9 119.29L73.39 119.05L74.88 120.28L76.38 123.11L77.87 127.45L79.36 133.19L80.85 140.38L82.34 148.17L83.83 155.61L85.32 162L86.81 166.81L88.3 169.64L89.8 170.38L91.29 168.96L92.78 165.75L94.27 160.97L95.76 154.93L97.25 148.61L98.74 142.59L100.23 136.95L101.72 131.37L103.22 125.52L104.71 119.59L106.2 113.89L107.69 108.69L109.18 104.3L110.67 101.06L112.16 99.16L113.65 99.09L115.14 101.35L116.64 105.96L118.13 112.67L119.62 120.57L121.11 128.92L122.6 137.83L124.09 147.37L125.58 156.59L127.07 164.41L128.57 170.27L130.06 173.66L131.55 173.71L133.04 170.4L134.53 164.21L136.02 155.98L137.51 147.16L139 137.69L140.49 126.23L141.99 112.87L143.48 99.55L144.97 87.79L146.46 78.45L147.95 71.93L149.44 68.59L150.93 69L152.42 73.03L153.91 80.14L155.41 90.07L156.9 101.83L158.39 114.17L159.88 126.22L161.37 137.96L162.86 148.99L164.35 158.17L165.84 164.99L167.33 169.28L168.83 170.25L170.32 167.24L171.81 161.06L173.3 152.9L174.79 144.01L176.28 135.19L177.77 126.06L179.26 116.07L180.75 105.35L182.25 95.27L183.74 87.49L185.23 83.11L186.72 81.9L188.21 83.72L189.7 88.32L191.19 95.23L192.68 103.8L194.17 113.3L195.67 123.08L197.16 132.29L198.65 140.01L200.14 145.85L201.63 150.02L203.12 152.77L204.61 154.06L206.1 153.49L207.59 150.9L209.09 146.59L210.58 141.03L212.07 135.04L213.56 129.41L215.05 124.7L216.54 121.14L218.03 118.67L219.52 117.1L221.01 116.22L222.51 115.69L224 115.19L225.49 114.6L226.98 114.02L228.47 113.68L229.96 113.86L231.45 114.75L232.94 116.27L234.43 118.25L235.93 120.52L237.42 122.87L238.91 125.01L240.4 126.77L241.89 128.18L243.38 129.37L244.87 130.49L246.36 131.77L247.86 133.44L249.35 135.69L250.84 138.42L252.33 141.31L253.82 143.95L255.31 146.04L256.8 147.31L258.29 147.68L259.78 147.34L261.28 146.34L262.77 144.75L264.26 142.85L265.75 140.94L267.24 139.14L268.73 137.56L270.22 136.32L271.71 135.43L273.2 134.86L274.7 134.63L276.19 134.98L277.68 136.12L279.17 138.22L280.66 141.32L282.15 145.32L283.64 149.94L285.13 154.6L286.62 158.71L288.12 162.05L289.61 164.41L291.1 165.32L292.59 164.4L294.08 161.77L295.57 157.82L297.06 153.34L298.55 149.17L300.04 145.63L301.54 142.75L303.03 140.36L304.52 138.07L306.01 135.53L307.5 132.56"/>
<path d="M55.5 154.14L56.99 152.21L58.48 149.76L59.97 146.56L61.46 142.62L62.96 138.12L64.45 133.34L65.94 128.65L67.43 124.69L68.92 121.85L70.41 120.02L71.9 119.12L73.39 119.35L74.88 120.91L76.38 123.81L77.87 127.93L79.36 133.06L80.85 139.25L82.34 146.19L83.83 153.13L85.32 159.52L86.81 164.97L88.3 169.09L89.8 171.67L91.29 172.37L92.78 171.14L94.27 167.99L95.76 162.75L97.25 156.06L98.74 148.84L100.23 141.55L101.72 134.33L103.22 127.1L104.71 120.04L106.2 113.69L107.69 108.28L109.18 103.88L110.67 100.6L112.16 98.36L113.65 97.2L115.14 97.7L116.64 100.22L118.13 104.77L119.62 111.23L121.11 118.78L122.6 127.38L124.09 137.45L125.58 148.52L127.07 158.85L128.57 167.29L130.06 173.31L131.55 175.75L133.04 173.98L134.53 168.63L136.02 160.4L137.51 151.09L139 141.87L140.49 131.82L141.99 120.19L143.48 108.25L144.97 97.56L146.46 88.95L147.95 82.65L149.44 78.85L150.93 77.91L152.42 80.03L153.91 84.93L155.41 92.45L156.9 102.03L158.39 112.71L159.88 123.43L161.37 133.88L162.86 143.83L164.35 152.46L165.84 159L167.33 163.23L168.83 164.79L170.32 163.1L171.81 158.4L173.3 151.72L174.79 144.13L176.28 136.42L177.77 128.62L179.26 120.11L180.75 110.61L182.25 100.83L183.74 92.35L185.23 86.51L186.72 83.76L188.21 84.15L189.7 87.56L191.19 93.7L192.68 101.92L194.17 111.35L195.67 121.16L197.16 130.54L198.65 138.45L200.14 144.37L201.63 148.48L203.12 151.23L204.61 153.01L206.1 153.7L207.59 152.96L209.09 150.77L210.58 147.27L212.07 142.73L213.56 137.69L215.05 132.63L216.54 127.88L218.03 123.68L219.52 120.14L221.01 117.44L222.51 115.66L224 114.61L225.49 114.12L226.98 114.07L228.47 114.34L229.96 114.88L231.45 115.66L232.94 116.54L234.43 117.37L235.93 118.13L237.42 118.95L238.91 119.89L240.4 120.97L241.89 122.3L243.38 123.99L244.87 126.02L246.36 128.33L247.86 130.88L249.35 133.66L250.84 136.61L252.33 139.5L253.82 142.05L255.31 144.16L256.8 145.72L258.29 146.68L259.78 147.23L261.28 147.41L262.77 147.11L264.26 146.29L265.75 145.16L267.24 143.82L268.73 142.31L270.22 140.87L271.71 139.65L273.2 138.77L274.7 138.26L276.19 138.29L277.68 139.03L279.17 140.54L280.66 142.82L282.15 145.76L283.64 149.16L285.13 152.69L286.62 155.87L288.12 158.49L289.61 160.52L291.1 161.72L292.59 161.56L294.08 159.81L295.57 156.6L297.06 152.33L298.55 147.7L300.04 143.29L301.54 139.37L303.03 136.06L304.52 133.32L306.01 130.99L307.5 128.93"/>
<path d="M55.5 149.44L56.99 148.88L58.48 147.92L59.97 146.36L61.46 144.02L62.96 140.85L64.45 136.98L65.94 132.55L67.43 128.12L68.92 124.39L70.41 121.53L71.9 119.54L73.39 118.7L74.88 119.43L76.38 121.82L77.87 125.9L79.36 131.26L80.85 137.75L82.34 145.12L83.83 152.53L85.32 159.23L86.81 164.75L88.3 168.74L89.8 171.07L91.29 171.61L92.78 170.37L94.27 167.58L95.76 163.22L97.25 157.58L98.74 151.5L100.23 145.44L101.72 139.52L103.22 133.53L104.71 127.33L106.2 121.28L107.69 115.69L109.18 110.73L110.67 106.59L112.16 103.46L113.65 101.4L115.14 100.88L116.64 102.44L118.13 106.16L119.62 111.98L121.11 119.15L122.6 127.13L124.09 136.08L125.58 145.89L127.07 155.33L128.57 163.19L130.06 168.85L131.55 171.71L133.04 171.08L134.53 167.22L136.02 160.92L137.51 153.25L139 145.68L140.49 138.06L141.99 129.25L143.48 119.31L144.97 109.64L146.46 101.17L147.95 94.29L149.44 89.22L150.93 86.29L152.42 86.05L153.91 88.62L155.41 93.78L156.9 101.49L158.39 111L159.88 121.28L161.37 131.53L162.86 141.45L164.35 150.47L165.84 157.52L167.33 162.19L168.83 164.35L170.32 163.61L171.81 159.72L173.3 153.6L174.79 146.38L176.28 139.05L177.77 132.16L179.26 125.19L180.75 117.52L182.25 109.11L183.74 101.01L185.23 94.55L186.72 90.7L188.21 89.46L189.7 90.84L191.19 94.89L192.68 101.23L194.17 109.31L195.67 118.41L197.16 127.8L198.65 136.59L200.14 143.87L201.63 149.31L203.12 153.15L204.61 155.68L206.1 156.94L207.59 156.58L209.09 154.47L210.58 150.83L212.07 145.96L213.56 140.52L215.05 135.12L216.54 130.25L218.03 126.18L219.52 122.99L221.01 120.71L222.51 119.31L224 118.56L225.49 118.14L226.98 117.87L228.47 117.62L229.96 117.41L231.45 117.35L232.94 117.5L234.43 117.86L235.93 118.48L237.42 119.47L238.91 120.88L240.4 122.65L241.89 124.7L243.38 126.97L244.87 129.36L246.36 131.7L247.86 133.93L249.35 136.05L250.84 138.16L252.33 140.24L253.82 142.19L255.31 143.97L256.8 145.59L258.29 146.97L259.78 148.13L261.28 149.08L262.77 149.62L264.26 149.49L265.75 148.71L267.24 147.37L268.73 145.49L270.22 143.31L271.71 141.17L273.2 139.34L274.7 138.02L276.19 137.41L277.68 137.74L279.17 139.09L280.66 141.39L282.15 144.46L283.64 147.99L285.13 151.64L286.62 154.9L288.12 157.39L289.61 159.12L291.1 160.09L292.59 160.04L294.08 158.71L295.57 156.21L297.06 152.86L298.55 149.17L300.04 145.77L301.54 142.87L303.03 140.45L304.52 138.43L306.01 136.57L307.5 134.62"/>
<path d="M55.5 152.46L56.99 152.07L58.48 150.68L59.97 148.06L61.46 144.14L62.96 139.12L64.45 133.38L65.94 127.31L67.43 121.86L68.92 117.81L70.41 115.35L71.9 114.33L73.39 115.04L74.88 117.69L76.38 121.98L77.87 127.86L79.36 134.38L80.85 141.69L82.34 149.27L83.83 156.22L85.32 161.94L86.81 166.28L88.3 168.98L89.8 170.28L91.29 170.04L92.78 168.4L94.27 165.68L95.76 161.61L97.25 156.63L98.74 151.43L100.23 146.21L101.72 140.96L103.22 135.44L104.71 129.65L106.2 123.97L107.69 118.76L109.18 114.25L110.67 110.64L112.16 108.16L113.65 106.93L115.14 107.14L116.64 109.03L118.13 112.66L119.62 117.54L121.11 123.44L122.6 129.74L124.09 136.4L125.58 143.22L127.07 149.73L128.57 155.13L130.06 158.78L131.55 160.51L133.04 159.88L134.53 156.7L136.02 151.85L137.51 145.88L139 139.85L140.49 133.58L141.99 126L143.48 117.06L144.97 108.01L146.46 99.67L147.95 92.44L149.44 86.64L150.93 82.79L152.42 81.83L153.91 83.71L155.41 88.81L156.9 96.93L158.39 107.47L159.88 118.91L161.37 130.72L162.86 142.85L164.35 153.89L165.84 162.74L167.33 168.69L168.83 171.77L170.32 170.65L171.81 165.5L173.3 157.82L174.79 148.58L176.28 139.43L177.77 130.45L179.26 121.25L180.75 111.39L182.25 101.52L183.74 93.28L185.23 88.05L186.72 86.38L188.21 87.93L189.7 92.32L191.19 99.06L192.68 107.28L194.17 116.13L195.67 124.7L197.16 132.27L198.65 138.31L200.14 142.45L201.63 144.73L203.12 145.78L204.61 145.99L206.1 145.71L207.59 145.04L209.09 143.8L210.58 142.18L212.07 140.2L213.56 137.99L215.05 135.68L216.54 133.36L218.03 130.97L219.52 128.51L221.01 126L222.51 123.51L224 121.13L225.49 118.86L226.98 116.83L228.47 115.21L229.96 114.2L231.45 113.97L232.94 114.54L234.43 115.78L235.93 117.51L237.42 119.63L238.91 121.95L240.4 124.21L241.89 126.26L243.38 128.06L244.87 129.57L246.36 130.81L247.86 131.92L249.35 133.15L250.84 134.77L252.33 136.82L253.82 139.16L255.31 141.74L256.8 144.39L258.29 146.82L259.78 148.97L261.28 150.65L262.77 151.47L264.26 151.17L265.75 149.85L267.24 147.69L268.73 144.84L270.22 141.71L271.71 138.74L273.2 136.29L274.7 134.58L276.19 133.84L277.68 134.21L279.17 135.7L280.66 138.1L282.15 141.19L283.64 144.56L285.13 147.82L286.62 150.62L288.12 152.57L289.61 153.68L291.1 153.89L292.59 153.19L294.08 151.48L295.57 148.82L297.06 145.7L298.55 142.42L300.04 139.56L301.54 137.35L303.03 135.77L304.52 134.74L306.01 133.98L307.5 133.18"/>
<path d="M55.5 149.79L56.99 149.58L58.48 148.78L59.97 147.2L61.46 144.78L62.96 141.43L64.45 137.33L65.94 132.71L67.43 127.97L68.92 123.8L70.41 120.71L71.9 118.68L73.39 117.69L74.88 118L76.38 119.78L77.87 123.04L79.36 127.55L80.85 133.02L82.34 139.36L83.83 146.22L85.32 152.82L86.81 158.65L88.3 163.35L89.8 166.69L91.29 168.53L92.78 168.7L94.27 167.23L95.76 164.16L97.25 159.41L98.74 153.48L100.23 147.12L101.72 140.7L103.22 134.31L104.71 127.81L106.2 121.34L107.69 115.36L109.18 110.15L110.67 105.87L112.16 102.64L113.65 100.51L115.14 99.51L116.64 100.08L118.13 102.52L119.62 106.82L121.11 112.77L122.6 119.67L124.09 127.3L125.58 135.98L127.07 145.43L128.57 154.31L130.06 161.62L131.55 166.95L133.04 169.45L134.53 168.49L136.02 164.51L137.51 158.07L139 150.5L140.49 142.96L141.99 134.79L143.48 125.01L144.97 114.44L146.46 104.5L147.95 96.07L149.44 89.49L150.93 85.02L152.42 83L153.91 83.93L155.41 87.56L156.9 93.82L158.39 102.25L159.88 112.06L161.37 122.08L162.86 131.79L164.35 141.11L165.84 149.21L167.33 155.33L168.83 159.17L170.32 160.69L171.81 159.24L173.3 154.93L174.79 148.86L176.28 141.9L177.77 135.04L179.26 128.28L180.75 120.99L182.25 112.62L183.74 103.57L185.23 95.33L186.72 89.3L188.21 86.12L189.7 85.81L191.19 88.52L192.68 93.97L194.17 101.78L195.67 111.03L197.16 120.93L198.65 130.65L200.14 139.05L201.63 145.44L203.12 149.84L204.61 152.59L206.1 154.11L207.59 154.35L209.09 153.04L210.58 150.27L212.07 146.28L213.56 141.43L215.05 136.3L216.54 131.37L218.03 126.94L219.52 123.16L221.01 120.04L222.51 117.64L224 115.96L225.49 114.79L226.98 113.97L228.47 113.42L229.96 113.15L231.45 113.21L232.94 113.67L234.43 114.49L235.93 115.55L237.42 116.82L238.91 118.33L240.4 120.03L241.89 121.83L243.38 123.71L244.87 125.69L246.36 127.73L247.86 129.8L249.35 131.93L250.84 134.21L252.33 136.69L253.82 139.26L255.31 141.73L256.8 143.99L258.29 145.89L259.78 147.32L261.28 148.3L262.77 148.78L264.26 148.56L265.75 147.58L267.24 146L268.73 143.99L270.22 141.72L271.71 139.48L273.2 137.57L274.7 136.18L276.19 135.42L277.68 135.4L279.17 136.26L280.66 137.95L282.15 140.38L283.64 143.35L285.13 146.6L286.62 149.82L288.12 152.59L289.61 154.76L291.1 156.4L292.59 157.43L294.08 157.44L295.57 156.2L297.06 153.84L298.55 150.61L300.04 147.1L301.54 143.79L303.03 140.79L304.52 138.15L306.01 135.78L307.5 133.5"/>
<path d="M55.5 142.95L56.99 142.04L58.48 140.67L59.97 138.67L61.46 135.89L62.96 132.4L64.45 128.42L65.94 124.17L67.43 120.3L68.92 117.44L70.41 115.69L71.9 114.99L73.39 115.56L74.88 117.69L76.38 121.33L77.87 126.38L79.36 132.4L80.85 139.25L82.34 146.71L83.83 154.02L85.32 160.59L86.81 166.09L88.3 170.25L89.8 172.93L91.29 173.96L92.78 173.25L94.27 170.89L95.76 166.8L97.25 161.25L98.74 155.03L100.23 148.58L101.72 142.07L103.22 135.39L104.71 128.55L106.2 121.93L107.69 115.85L109.18 110.49L110.67 105.99L112.16 102.5L113.65 100.05L115.14 99.07L116.64 100L118.13 102.93L119.62 107.71L121.11 113.7L122.6 120.47L124.09 128.33L125.58 137.17L127.07 145.82L128.57 153.2L130.06 158.76L131.55 161.8L133.04 161.56L134.53 158.26L136.02 152.54L137.51 145.49L139 138.43L140.49 130.97L141.99 122.09L143.48 112.2L144.97 102.81L146.46 94.89L147.95 88.84L149.44 84.87L150.93 83.33L152.42 84.7L153.91 88.9L155.41 95.73L156.9 104.94L158.39 115.74L159.88 126.92L161.37 137.81L162.86 148.22L164.35 157.37L165.84 164.31L167.33 168.67L168.83 170.41L170.32 168.94L171.81 164.23L173.3 157.33L174.79 149.3L176.28 141.18L177.77 133.21L179.26 124.76L180.75 115.22L182.25 104.81L183.74 94.95L185.23 87.2L186.72 82.46L188.21 80.78L189.7 82.23L191.19 86.64L192.68 93.61L194.17 102.27L195.67 111.78L197.16 121.34L198.65 129.91L200.14 136.69L201.63 141.56L203.12 144.87L204.61 147.04L206.1 148.1L207.59 147.72L209.09 145.88L210.58 142.8L212.07 138.78L213.56 134.43L215.05 130.26L216.54 126.64L218.03 123.72L219.52 121.54L221.01 120.06L222.51 119.28L224 118.99L225.49 118.97L226.98 119.14L228.47 119.46L229.96 119.98L231.45 120.77L232.94 121.79L234.43 122.94L235.93 124.13L237.42 125.39L238.91 126.72L240.4 128.05L241.89 129.39L243.38 130.79L244.87 132.23L246.36 133.69L247.86 135.15L249.35 136.65L250.84 138.25L252.33 139.87L253.82 141.36L255.31 142.63L256.8 143.63L258.29 144.27L259.78 144.59L261.28 144.59L262.77 144.11L264.26 142.98L265.75 141.31L267.24 139.24L268.73 136.9L270.22 134.56L271.71 132.54L273.2 131.07L274.7 130.25L276.19 130.19L277.68 131.02L279.17 132.73L280.66 135.26L282.15 138.43L283.64 142.01L285.13 145.76L286.62 149.27L288.12 152.27L289.61 154.78L291.1 156.76L292.59 157.78L294.08 157.47L295.57 155.9L297.06 153.27L298.55 150.15L300.04 147.15L301.54 144.45L303.03 142.13L304.52 140.12L306.01 138.23L307.5 136.29"/>
<path d="M55.5 149.49L56.99 147.74L58.48 145.5L59.97 142.57L61.46 138.92L62.96 134.77L64.45 130.33L65.94 126.06L67.43 122.55L68.92 120.06L70.41 118.49L71.9 117.87L73.39 118.37L74.88 120.04L76.38 122.86L77.87 126.52L79.36 130.95L80.85 135.99L82.34 141.31L83.83 146.36L85.32 150.8L86.81 154.38L88.3 156.98L89.8 158.45L91.29 158.68L92.78 157.7L94.27 155.38L95.76 151.77L97.25 147.25L98.74 142.32L100.23 137.21L101.72 131.88L103.22 126.25L104.71 120.55L106.2 115.18L107.69 110.41L109.18 106.43L110.67 103.43L112.16 101.43L113.65 100.67L115.14 101.61L116.64 104.49L118.13 109.26L119.62 115.58L121.11 122.76L122.6 130.8L124.09 139.98L125.58 149.69L127.07 158.47L128.57 165.43L130.06 170.18L131.55 171.66L133.04 169.49L134.53 164.39L136.02 156.9L137.51 148.82L139 140.88L140.49 131.79L141.99 120.74L143.48 109.35L144.97 98.94L146.46 90.3L147.95 83.66L149.44 79.35L150.93 77.97L152.42 79.89L153.91 84.71L155.41 92.54L156.9 102.56L158.39 113.73L159.88 124.81L161.37 135.52L162.86 145.54L164.35 153.67L165.84 159.33L167.33 162.36L168.83 162.53L170.32 159.21L171.81 153.16L173.3 145.61L174.79 137.63L176.28 130.05L177.77 122.58L179.26 114.59L180.75 105.88L182.25 97.3L183.74 90.33L185.23 86.07L186.72 84.63L188.21 86L189.7 90.02L191.19 96.34L192.68 104.28L194.17 113.1L195.67 122.05L197.16 130.37L198.65 137.22L200.14 142.25L201.63 145.68L203.12 147.95L204.61 149.26L206.1 149.52L207.59 148.61L209.09 146.59L210.58 143.64L212.07 140.12L213.56 136.42L215.05 132.87L216.54 129.65L218.03 126.85L219.52 124.48L221.01 122.6L222.51 121.18L224 120.09L225.49 119.25L226.98 118.62L228.47 118.23L229.96 118.15L231.45 118.42L232.94 118.95L234.43 119.67L235.93 120.54L237.42 121.57L238.91 122.69L240.4 123.84L241.89 125.02L243.38 126.25L244.87 127.52L246.36 128.84L247.86 130.29L249.35 131.98L250.84 133.97L252.33 136.15L253.82 138.35L255.31 140.47L256.8 142.36L258.29 143.86L259.78 145.01L261.28 145.67L262.77 145.6L264.26 144.71L265.75 143.21L267.24 141.24L268.73 138.95L270.22 136.75L271.71 134.9L273.2 133.68L274.7 133.15L276.19 133.51L277.68 134.91L279.17 137.22L280.66 140.35L282.15 143.99L283.64 147.86L285.13 151.53L286.62 154.48L288.12 156.66L289.61 158.13L291.1 158.74L292.59 158.04L294.08 155.97L295.57 152.83L297.06 149L298.55 145.2L300.04 141.82L301.54 138.94L303.03 136.59L304.52 134.59L306.01 132.75L307.5 130.96"/>
<path d="M55.5 146.77L56.99 145.18L58.48 143.07L59.97 140.09L61.46 136.35L62.96 132.06L64.45 127.52L65.94 123.43L67.43 120.26L68.92 118.11L70.41 116.91L71.9 116.93L73.39 118.39L74.88 121.27L76.38 125.5L77.87 130.72L79.36 136.9L80.85 143.79L82.34 150.67L83.83 156.96L85.32 162.31L86.81 166.42L88.3 169.11L89.8 170.19L91.29 169.53L92.78 167.19L94.27 163.09L95.76 157.44L97.25 151.1L98.74 144.55L100.23 137.92L101.72 131.13L103.22 124.19L104.71 117.59L106.2 111.73L107.69 106.79L109.18 102.9L110.67 100.19L112.16 98.64L113.65 98.66L115.14 100.68L116.64 104.74L118.13 110.64L119.62 117.68L121.11 125.44L122.6 134.25L124.09 143.93L125.58 153.07L127.07 160.58L128.57 165.96L130.06 168.4L131.55 167.28L133.04 163.05L134.53 156.39L136.02 148.69L137.51 141.13L139 133.06L140.49 123.58L141.99 113.46L143.48 103.99L144.97 96.03L146.46 89.83L147.95 85.66L149.44 83.84L150.93 84.83L152.42 88.44L153.91 94.63L155.41 103.03L156.9 112.91L158.39 123.13L159.88 133.25L161.37 143.08L162.86 151.78L164.35 158.53L165.84 162.92L167.33 164.83L168.83 163.57L170.32 159.14L171.81 152.56L173.3 144.85L174.79 137.04L176.28 129.37L177.77 121.18L179.26 111.87L180.75 101.71L182.25 92.16L183.74 84.84L185.23 80.65L186.72 79.64L188.21 81.86L189.7 87.27L191.19 95.32L192.68 105.23L194.17 115.99L195.67 126.76L197.16 136.36L198.65 143.86L200.14 149.15L201.63 152.59L203.12 154.61L204.61 155.26L206.1 154.25L207.59 151.6L209.09 147.63L210.58 142.71L212.07 137.5L213.56 132.52L215.05 128.14L216.54 124.52L218.03 121.64L219.52 119.52L221.01 118.13L222.51 117.23L224 116.62L225.49 116.21L226.98 115.95L228.47 115.92L229.96 116.2L231.45 116.77L232.94 117.55L234.43 118.51L235.93 119.7L237.42 121.07L238.91 122.54L240.4 124.09L241.89 125.73L243.38 127.44L244.87 129.19L246.36 131L247.86 132.97L249.35 135.18L250.84 137.55L252.33 139.92L253.82 142.18L255.31 144.2L256.8 145.84L258.29 147.09L259.78 147.92L261.28 148.14L262.77 147.61L264.26 146.47L265.75 144.88L267.24 142.95L268.73 140.96L270.22 139.23L271.71 137.95L273.2 137.24L274.7 137.2L276.19 137.99L277.68 139.63L279.17 142.03L280.66 145.04L282.15 148.38L283.64 151.78L285.13 154.79L286.62 157.12L288.12 158.84L289.61 159.91L291.1 159.93L292.59 158.53L294.08 155.81L295.57 152.04L297.06 147.84L298.55 143.84L300.04 140.22L301.54 137.07L303.03 134.34L304.52 131.89L306.01 129.63L307.5 127.54"/>
<path d="M55.5 142.01L56.99 140.37L58.48 138.35L59.97 135.8L61.46 132.78L62.96 129.44L64.45 125.96L65.94 122.69L67.43 120.01L68.92 118.19L70.41 117.1L71.9 116.7L73.39 117.16L74.88 118.69L76.38 121.4L77.87 125.19L79.36 130.05L80.85 135.92L82.34 142.53L83.83 149.21L85.32 155.38L86.81 160.59L88.3 164.5L89.8 166.81L91.29 167.32L92.78 166.03L94.27 162.99L95.76 158.25L97.25 152.4L98.74 146.25L100.23 140.17L101.72 134.2L103.22 128.17L104.71 122.12L106.2 116.38L107.69 111.08L109.18 106.29L110.67 102.17L112.16 98.79L113.65 96.38L115.14 95.64L116.64 97.03L118.13 100.67L119.62 106.41L121.11 113.45L122.6 121.63L124.09 131.23L125.58 141.65L127.07 151.14L128.57 158.6L130.06 163.65L131.55 165.21L133.04 162.8L134.53 157.28L136.02 149.24L137.51 140.63L139 132.54L140.49 123.77L141.99 113.2L143.48 102.16L144.97 92.02L146.46 83.55L147.95 76.97L149.44 72.61L150.93 71.05L152.42 72.9L153.91 77.85L155.41 86.12L156.9 97L158.39 109.5L159.88 122.14L161.37 134.47L162.86 146.14L164.35 155.83L165.84 162.74L167.33 166.6L168.83 167.35L170.32 164.31L171.81 158.13L173.3 150.33L174.79 141.98L176.28 134.24L177.77 126.81L179.26 118.92L180.75 110L182.25 100.63L183.74 92.36L185.23 86.48L186.72 83.3L188.21 82.9L189.7 85.44L191.19 90.64L192.68 98.15L194.17 107.07L195.67 116.67L197.16 126.09L198.65 134.12L200.14 140.14L201.63 144.16L203.12 146.48L204.61 147.38L206.1 146.82L207.59 144.7L209.09 141.26L210.58 136.89L212.07 132.1L213.56 127.49L215.05 123.45L216.54 120.19L218.03 117.69L219.52 115.81L221.01 114.46L222.51 113.5L224 112.73L225.49 112.03L226.98 111.43L228.47 111.06L229.96 111.08L231.45 111.63L232.94 112.7L234.43 114.2L235.93 116.03L237.42 118.07L238.91 120.17L240.4 122.16L241.89 123.96L243.38 125.59L244.87 127.08L246.36 128.52L247.86 130.07L249.35 131.9L250.84 134.12L252.33 136.64L253.82 139.27L255.31 141.82L256.8 144.03L258.29 145.7L259.78 146.76L261.28 147.1L262.77 146.62L264.26 145.33L265.75 143.5L267.24 141.37L268.73 139.19L270.22 137.25L271.71 135.79L273.2 134.9L274.7 134.56L276.19 134.77L277.68 135.56L279.17 136.83L280.66 138.52L282.15 140.53L283.64 142.75L285.13 144.99L286.62 146.98L288.12 148.67L289.61 150.14L291.1 151.22L292.59 151.35L294.08 150.19L295.57 147.77L297.06 144.24L298.55 140.23L300.04 136.22L301.54 132.41L303.03 128.99L304.52 126.03L306.01 123.44L307.5 121.23"/>
<path d="M55.5 151.99L56.99 151.07L58.48 149.74L59.97 147.65L61.46 144.56L62.96 140.59L64.45 135.93L65.94 130.96L67.43 126.45L68.92 122.87L70.41 120.29L71.9 118.83L73.39 118.84L74.88 120.5L76.38 123.78L77.87 128.42L79.36 134.11L80.85 140.61L82.34 147.44L83.83 153.86L85.32 159.34L86.81 163.56L88.3 166.37L89.8 167.69L91.29 167.51L92.78 165.96L94.27 163.12L95.76 159.03L97.25 154.16L98.74 149.13L100.23 144.15L101.72 139.13L103.22 133.8L104.71 128.2L106.2 122.69L107.69 117.5L109.18 112.8L110.67 108.85L112.16 105.78L113.65 103.88L115.14 103.84L116.64 106.06L118.13 110.57L119.62 117.12L121.11 124.84L122.6 133.55L124.09 143.46L125.58 153.9L127.07 163.17L128.57 170.26L130.06 174.77L131.55 175.75L133.04 172.91L134.53 167.04L136.02 158.96L137.51 150.43L139 142.36L140.49 133.79L141.99 124.1L143.48 114.35L144.97 105.73L146.46 98.78L147.95 93.62L149.44 90.36L150.93 89.37L152.42 90.79L153.91 94.58L155.41 100.62L156.9 108.57L158.39 117.59L159.88 126.93L161.37 136.29L162.86 145.38L164.35 153.39L165.84 159.59L167.33 163.68L168.83 165.19L170.32 163.55L171.81 158.99L173.3 152.48L174.79 145.02L176.28 137.45L177.77 129.73L179.26 121.29L180.75 111.86L182.25 102.17L183.74 93.88L185.23 88.37L186.72 85.99L188.21 86.75L189.7 90.72L191.19 97.37L192.68 106.26L194.17 116.24L195.67 126.54L197.16 136.34L198.65 144.42L200.14 150.3L201.63 154.28L203.12 156.82L204.61 158.38L206.1 158.83L207.59 157.83L209.09 155.51L210.58 151.98L212.07 147.61L213.56 142.88L215.05 138.19L216.54 133.8L218.03 129.86L219.52 126.45L221.01 123.71L222.51 121.71L224 120.33L225.49 119.49L226.98 119.14L228.47 119.23L229.96 119.74L231.45 120.59L232.94 121.63L234.43 122.66L235.93 123.6L237.42 124.45L238.91 125.2L240.4 125.88L241.89 126.59L243.38 127.46L244.87 128.59L246.36 130.05L247.86 131.91L249.35 134.26L250.84 137.06L252.33 140.11L253.82 143.13L255.31 145.91L256.8 148.21L258.29 149.87L259.78 150.9L261.28 151.28L262.77 150.88L264.26 149.74L265.75 148.13L267.24 146.3L268.73 144.44L270.22 142.89L271.71 141.88L273.2 141.54L274.7 141.82L276.19 142.76L277.68 144.4L279.17 146.55L280.66 149.14L282.15 151.9L283.64 154.68L285.13 157.22L286.62 159.17L288.12 160.58L289.61 161.6L291.1 162.16L292.59 161.82L294.08 160.42L295.57 158.06L297.06 154.96L298.55 151.6L300.04 148.3L301.54 145.1L303.03 142.03L304.52 139.03L306.01 136.04L307.5 133.09"/>
<path d="M55.5 154.19L56.99 152.47L58.48 150.34L59.97 147.69L61.46 144.48L62.96 140.67L64.45 136.38L65.94 131.76L67.43 127.17L68.92 123.26L70.41 120.24L71.9 118.07L73.39 116.89L74.88 117.06L76.38 118.77L77.87 122.01L79.36 126.54L80.85 132.11L82.34 138.63L83.83 145.4L85.32 151.7L86.81 157.03L88.3 161.1L89.8 163.73L91.29 164.85L92.78 164.37L94.27 162.48L95.76 159.14L97.25 154.41L98.74 148.95L100.23 143.25L101.72 137.46L103.22 131.45L104.71 125.1L106.2 118.77L107.69 112.91L109.18 107.78L110.67 103.64L112.16 100.66L113.65 98.82L115.14 98.41L116.64 99.85L118.13 103.18L119.62 108.31L121.11 114.61L122.6 121.54L124.09 129.27L125.58 137.97L127.07 146.81L128.57 154.6L130.06 160.65L131.55 164.43L133.04 165.06L134.53 162.49L136.02 157.25L137.51 150.14L139 142.64L140.49 135L141.99 126.2L143.48 116.11L144.97 106.18L146.46 97.54L147.95 90.73L149.44 85.92L150.93 83.29L152.42 83.25L153.91 85.88L155.41 90.82L156.9 98.04L158.39 106.85L159.88 116.39L161.37 125.84L162.86 135.03L164.35 143.64L165.84 150.7L167.33 155.72L168.83 158.55L170.32 158.79L171.81 155.94L173.3 150.61L174.79 143.89L176.28 136.71L177.77 129.8L179.26 122.82L180.75 115.16L182.25 106.67L183.74 98.23L185.23 91.23L186.72 86.77L188.21 84.92L189.7 85.75L191.19 89.29L192.68 95.21L194.17 103.05L195.67 112.05L197.16 121.48L198.65 130.51L200.14 138.09L201.63 143.75L203.12 147.69L204.61 150.21L206.1 151.48L207.59 151.22L209.09 149.33L210.58 146.04L212.07 141.64L213.56 136.73L215.05 131.88L216.54 127.49L218.03 123.78L219.52 120.75L221.01 118.36L222.51 116.6L224 115.32L225.49 114.32L226.98 113.52L228.47 112.93L229.96 112.62L231.45 112.72L232.94 113.26L234.43 114.14L235.93 115.24L237.42 116.52L238.91 117.93L240.4 119.38L241.89 120.8L243.38 122.26L244.87 123.79L246.36 125.43L247.86 127.2L249.35 129.18L250.84 131.45L252.33 133.93L253.82 136.41L255.31 138.68L256.8 140.61L258.29 142.06L259.78 142.99L261.28 143.52L262.77 143.6L264.26 143.15L265.75 142.24L267.24 141.03L268.73 139.6L270.22 138.06L271.71 136.62L273.2 135.41L274.7 134.54L276.19 134.08L277.68 134.19L279.17 135.04L280.66 136.61L282.15 138.9L283.64 141.71L285.13 144.83L286.62 147.87L288.12 150.39L289.61 152.32L291.1 153.63L292.59 154.09L294.08 153.33L295.57 151.34L297.06 148.36L298.55 144.83L300.04 141.39L301.54 138.32L303.03 135.68L304.52 133.43L306.01 131.37L307.5 129.27"/>
<path d="M55.5 146.14L56.99 146.51L58.48 146.48L59.97 145.73L61.46 143.97L62.96 140.96L64.45 136.78L65.94 131.62L67.43 126.01L68.92 120.83L70.41 116.7L71.9 113.85L73.39 112.5L74.88 113.06L76.38 115.67L77.87 120.27L79.36 126.36L80.85 133.48L82.34 141.26L83.83 149L85.32 155.82L86.81 161.17L88.3 164.77L89.8 166.58L91.29 166.69L92.78 165.24L94.27 162.53L95.76 158.81L97.25 154.14L98.74 149.02L100.23 144.04L101.72 139.31L103.22 134.66L104.71 129.77L106.2 124.6L107.69 119.47L109.18 114.61L110.67 110.24L112.16 106.65L113.65 104.06L115.14 102.69L116.64 103.08L118.13 105.58L119.62 110.08L121.11 116.34L122.6 123.52L124.09 131.22L125.58 139.51L127.07 148.02L128.57 155.42L130.06 160.81L131.55 164.02L133.04 164.43L134.53 161.69L136.02 156.52L137.51 149.56L139 142.26L140.49 135.55L141.99 128.55L143.48 120.31L144.97 111.58L146.46 103.44L147.95 96.44L149.44 90.78L150.93 86.73L152.42 84.85L153.91 85.57L155.41 89.02L156.9 95.26L158.39 103.98L159.88 114.26L161.37 125.08L162.86 136.04L164.35 146.58L165.84 155.59L167.33 162.13L168.83 165.9L170.32 166.37L171.81 163.08L173.3 156.63L174.79 148.21L176.28 139.2L177.77 130.58L179.26 122.45L180.75 114.28L182.25 105.84L183.74 97.81L185.23 91.53L186.72 87.98L188.21 87.22L189.7 89.03L191.19 93.19L192.68 99.25L194.17 106.72L195.67 114.79L197.16 122.94L198.65 130.64L200.14 137.13L201.63 142.04L203.12 145.63L204.61 148.23L206.1 150.11L207.59 151.12L209.09 150.77L210.58 149L212.07 145.87L213.56 141.58L215.05 136.66L216.54 131.6L218.03 126.83L219.52 122.69L221.01 119.41L222.51 117.18L224 116.13L225.49 116.05L226.98 116.67L228.47 117.76L229.96 119.05L231.45 120.33L232.94 121.46L234.43 122.25L235.93 122.58L237.42 122.52L238.91 122.25L240.4 121.97L241.89 121.87L243.38 122.17L244.87 123.05L246.36 124.54L247.86 126.59L249.35 129.12L250.84 132.02L252.33 135.12L253.82 138.09L255.31 140.65L256.8 142.64L258.29 143.93L259.78 144.59L261.28 144.81L262.77 144.72L264.26 144.32L265.75 143.69L267.24 143.03L268.73 142.41L270.22 141.86L271.71 141.43L273.2 141.15L274.7 140.94L276.19 140.71L277.68 140.54L279.17 140.54L280.66 140.78L282.15 141.4L283.64 142.45L285.13 143.94L286.62 145.78L288.12 147.72L289.61 149.68L291.1 151.63L292.59 153.34L294.08 154.24L295.57 153.92L297.06 152.37L298.55 149.66L300.04 146.31L301.54 142.79L303.03 139.33L304.52 136.15L306.01 133.39L307.5 131.01"/>
<path d="M55.5 149.86L56.99 148.67L58.48 146.87L59.97 144.08L61.46 140.04L62.96 134.84L64.45 128.79L65.94 122.32L67.43 116.31L68.92 111.53L70.41 108.24L71.9 106.51L73.39 106.63L74.88 108.79L76.38 112.83L77.87 118.43L79.36 125.02L80.85 132.33L82.34 139.98L83.83 147.16L85.32 153.39L86.81 158.47L88.3 162.28L89.8 164.91L91.29 166.32L92.78 166.55L94.27 165.66L95.76 163.43L97.25 160.03L98.74 155.99L100.23 151.47L101.72 146.38L103.22 140.53L104.71 133.98L106.2 127.28L107.69 120.9L109.18 115.21L110.67 110.57L112.16 107.18L113.65 105.16L115.14 104.89L116.64 106.62L118.13 110.22L119.62 115.33L121.11 121.14L122.6 127.27L124.09 134.02L125.58 141.28L127.07 147.94L128.57 153.21L130.06 156.82L131.55 158.18L133.04 156.76L134.53 152.9L136.02 147.2L137.51 140.71L139 134.4L140.49 127.51L141.99 118.94L143.48 109.22L144.97 99.79L146.46 91.62L147.95 85.23L149.44 81.05L150.93 79.64L152.42 81.54L153.91 86.68L155.41 94.8L156.9 105.43L158.39 117.51L159.88 129.66L161.37 141.14L162.86 151.62L164.35 160.28L165.84 166.35L167.33 169.65L168.83 170.25L170.32 167.82L171.81 162.58L173.3 155.69L174.79 148.16L176.28 140.88L177.77 133.83L179.26 126.21L180.75 117.31L182.25 107.34L183.74 97.66L185.23 89.67L186.72 84.23L188.21 81.54L189.7 81.9L191.19 85.33L192.68 91.61L194.17 99.96L195.67 109.59L197.16 119.59L198.65 128.72L200.14 136.08L201.63 141.43L203.12 144.95L204.61 147.01L206.1 147.63L207.59 146.64L209.09 144.24L210.58 140.87L212.07 136.99L213.56 133.25L215.05 130.12L216.54 127.85L218.03 126.42L219.52 125.63L221.01 125.29L222.51 125.23L224 125.14L225.49 124.8L226.98 124.2L228.47 123.44L229.96 122.77L231.45 122.44L232.94 122.57L234.43 123.16L235.93 124.15L237.42 125.51L238.91 127.04L240.4 128.51L241.89 129.73L243.38 130.58L244.87 131.02L246.36 131.07L247.86 130.87L249.35 130.72L250.84 130.9L252.33 131.52L253.82 132.56L255.31 133.98L256.8 135.62L258.29 137.26L259.78 138.74L261.28 139.85L262.77 140.25L264.26 139.74L265.75 138.42L267.24 136.53L268.73 134.31L270.22 132.21L271.71 130.68L273.2 130.06L274.7 130.5L276.19 132.09L277.68 134.85L279.17 138.58L280.66 142.99L282.15 147.69L283.64 152.27L285.13 156.35L286.62 159.54L288.12 161.7L289.61 163.06L291.1 163.75L292.59 163.55L294.08 162.31L295.57 160.19L297.06 157.35L298.55 154.23L300.04 151.2L301.54 148.2L303.03 145.12L304.52 141.83L306.01 138.16L307.5 134.09"/>
<path d="M55.5 151.25L56.99 150.07L58.48 148.88L59.97 147.64L61.46 146.29L62.96 144.48L64.45 141.77L65.94 137.99L67.43 133.1L68.92 127.7L70.41 122.83L71.9 119.12L73.39 116.85L74.88 116.28L76.38 117.58L77.87 120.44L79.36 124.42L80.85 128.83L82.34 133.48L83.83 138.49L85.32 143.65L86.81 148.72L88.3 153.61L89.8 158L91.29 161.45L92.78 163.42L94.27 163.38L95.76 161.26L97.25 157.1L98.74 151.31L100.23 145.03L101.72 139.13L103.22 133.9L104.71 129.11L106.2 124.29L107.69 119.35L109.18 114.34L110.67 109.4L112.16 104.92L113.65 101.43L115.14 99.34L116.64 99.21L118.13 101.47L119.62 105.95L121.11 112.13L122.6 119.07L124.09 126.09L125.58 133.49L127.07 141.62L128.57 149.92L130.06 157.56L131.55 163.9L133.04 168.14L134.53 169.12L136.02 166.43L137.51 160.46L139 152.15L140.49 143.17L141.99 133.92L143.48 123.77L144.97 113L146.46 103.06L147.95 94.75L149.44 88.13L150.93 83.08L152.42 79.77L153.91 78.84L155.41 80.71L156.9 85.53L158.39 93.5L159.88 103.91L161.37 115.45L162.86 126.94L164.35 137.71L165.84 146.94L167.33 153.63L168.83 157.62L170.32 159.31L171.81 158.61L173.3 155.44L174.79 150.6L176.28 144.8L177.77 138.64L179.26 132.23L180.75 124.95L182.25 116.25L183.74 106.47L185.23 97.14L186.72 90.06L188.21 86.39L189.7 85.92L191.19 88.34L192.68 93.13L194.17 99.66L195.67 107.27L197.16 115.41L198.65 123.76L200.14 131.82L201.63 138.86L203.12 144.49L204.61 148.65L206.1 151.34L207.59 152.4L209.09 151.43L210.58 148.49L212.07 144.17L213.56 139.11L215.05 134.15L216.54 129.87L218.03 126.42L219.52 123.61L221.01 121.09L222.51 118.61L224 116.26L225.49 114.18L226.98 112.59L228.47 111.78L229.96 111.86L231.45 112.75L232.94 114.17L234.43 115.71L235.93 116.92L237.42 117.62L238.91 118.01L240.4 118.5L241.89 119.44L243.38 121.09L244.87 123.5L246.36 126.43L247.86 129.4L249.35 131.97L250.84 133.96L252.33 135.46L253.82 136.76L255.31 138.11L256.8 139.78L258.29 141.85L259.78 144.07L261.28 146.07L262.77 147.45L264.26 147.73L265.75 146.67L267.24 144.49L268.73 141.77L270.22 139.03L271.71 136.78L273.2 135.36L274.7 134.72L276.19 134.6L277.68 134.69L279.17 134.91L280.66 135.38L282.15 136.36L283.64 138.14L285.13 140.88L286.62 144.49L288.12 148.41L289.61 151.96L291.1 154.72L292.59 156.35L294.08 156.45L295.57 154.88L297.06 152.01L298.55 148.48L300.04 145.03L301.54 142.29L303.03 140.23L304.52 138.48L306.01 136.64L307.5 134.33"/>
<path d="M55.5 149.21L56.99 148.12L58.48 146.51L59.97 144.2L61.46 141.08L62.96 137.15L64.45 132.64L65.94 127.78L67.43 123.15L68.92 119.43L70.41 116.77L71.9 115.14L73.39 114.7L74.88 115.72L76.38 118.23L77.87 122.15L79.36 127.15L80.85 133.11L82.34 139.89L83.83 146.81L85.32 153.27L86.81 158.88L88.3 163.31L89.8 166.38L91.29 167.92L92.78 167.8L94.27 166.15L95.76 162.87L97.25 158.19L98.74 152.87L100.23 147.37L101.72 141.82L103.22 136.05L104.71 130.03L106.2 124.15L107.69 118.77L109.18 114.08L110.67 110.29L112.16 107.52L113.65 105.76L115.14 105.43L116.64 106.95L118.13 110.37L119.62 115.64L121.11 121.99L122.6 129.04L124.09 137.12L125.58 146.24L127.07 155.11L128.57 162.58L130.06 168.08L131.55 170.82L133.04 169.96L134.53 165.83L136.02 159L137.51 150.72L139 142.49L140.49 133.99L141.99 124.05L143.48 113.07L144.97 102.57L146.46 93.57L147.95 86.46L149.44 81.51L150.93 79.04L152.42 79.64L153.91 83.19L155.41 89.51L156.9 98.31L158.39 108.78L159.88 119.69L161.37 130.33L162.86 140.52L164.35 149.61L165.84 156.72L167.33 161.5L168.83 163.96L170.32 163.57L171.81 160.18L173.3 154.69L174.79 148.1L176.28 141.36L177.77 134.84L179.26 128.03L180.75 120.35L182.25 111.92L183.74 103.9L185.23 97.64L186.72 94.04L188.21 93.1L189.7 94.77L191.19 99.02L192.68 105.4L194.17 113.31L195.67 121.96L197.16 130.61L198.65 138.43L200.14 144.6L201.63 148.84L203.12 151.48L204.61 152.87L206.1 153.15L207.59 152.15L209.09 149.79L210.58 146.33L212.07 141.99L213.56 137.27L215.05 132.61L216.54 128.33L218.03 124.6L219.52 121.5L221.01 119.06L222.51 117.33L224 116.2L225.49 115.48L226.98 115.08L228.47 114.92L229.96 114.99L231.45 115.35L232.94 116L234.43 116.88L235.93 117.95L237.42 119.28L238.91 120.87L240.4 122.67L241.89 124.61L243.38 126.68L244.87 128.84L246.36 131.04L247.86 133.27L249.35 135.59L250.84 138.09L252.33 140.73L253.82 143.35L255.31 145.8L256.8 147.97L258.29 149.71L259.78 150.99L261.28 151.83L262.77 152.08L264.26 151.62L265.75 150.54L267.24 149.01L268.73 147.1L270.22 145.03L271.71 143.07L273.2 141.43L274.7 140.22L276.19 139.56L277.68 139.68L279.17 140.61L280.66 142.34L282.15 144.72L283.64 147.49L285.13 150.4L286.62 152.96L288.12 154.9L289.61 156.27L291.1 157.1L292.59 157.01L294.08 155.67L295.57 153.18L297.06 149.67L298.55 145.73L300.04 141.97L301.54 138.55L303.03 135.57L304.52 133.01L306.01 130.73L307.5 128.61"/>
<path d="M55.5 146.67L56.99 144.43L58.48 141.71L59.97 138.25L61.46 133.96L62.96 129.04L64.45 123.76L65.94 118.55L67.43 114.17L68.92 111.05L70.41 109.18L71.9 108.49L73.39 109.28L74.88 111.71L76.38 115.75L77.87 121.21L79.36 127.76L80.85 135.36L82.34 143.59L83.83 151.63L85.32 158.91L86.81 165.05L88.3 169.74L89.8 172.84L91.29 174.12L92.78 173.59L94.27 171.31L95.76 167.2L97.25 161.83L98.74 156L100.23 150.06L101.72 144.06L103.22 137.82L104.71 131.5L106.2 125.55L107.69 120.2L109.18 115.6L110.67 111.88L112.16 109.07L113.65 107.35L115.14 107.25L116.64 109.13L118.13 113.01L119.62 118.62L121.11 125.23L122.6 132.73L124.09 141.41L125.58 150.75L127.07 159.22L128.57 165.8L130.06 170.03L131.55 170.92L133.04 168.04L134.53 161.95L136.02 153.44L137.51 144.14L139 135.03L140.49 125.13L141.99 113.62L143.48 101.65L144.97 90.67L146.46 81.51L147.95 74.47L149.44 69.87L150.93 68.25L152.42 69.97L153.91 74.88L155.41 82.91L156.9 93.48L158.39 105.53L159.88 117.82L161.37 129.9L162.86 141.43L164.35 151.35L165.84 158.84L167.33 163.65L168.83 165.52L170.32 163.84L171.81 159.05L173.3 152.43L174.79 145.09L176.28 138L177.77 130.99L179.26 123.26L180.75 114.34L182.25 104.88L183.74 96.58L185.23 90.86L186.72 88.17L188.21 88.58L189.7 92.2L191.19 98.7L192.68 107.61L194.17 117.91L195.67 128.77L197.16 139.27L198.65 148.09L200.14 154.6L201.63 158.89L203.12 161.34L204.61 162.35L206.1 161.81L207.59 159.46L209.09 155.48L210.58 150.18L212.07 144.02L213.56 137.67L215.05 131.64L216.54 126.23L218.03 121.56L219.52 117.63L221.01 114.46L222.51 112.04L224 110.12L225.49 108.54L226.98 107.28L228.47 106.33L229.96 105.81L231.45 105.8L232.94 106.26L234.43 107.07L235.93 108.2L237.42 109.68L238.91 111.43L240.4 113.36L241.89 115.46L243.38 117.75L244.87 120.21L246.36 122.82L247.86 125.63L249.35 128.74L250.84 132.18L252.33 135.8L253.82 139.39L255.31 142.79L256.8 145.83L258.29 148.37L259.78 150.44L261.28 151.96L262.77 152.75L264.26 152.74L265.75 152.15L267.24 151.12L268.73 149.81L270.22 148.51L271.71 147.47L273.2 146.84L274.7 146.68L276.19 147.11L277.68 148.24L279.17 150.03L280.66 152.41L282.15 155.21L283.64 158.21L285.13 161.07L286.62 163.37L288.12 164.99L289.61 165.99L291.1 166.19L292.59 165.12L294.08 162.55L295.57 158.64L297.06 153.73L298.55 148.5L300.04 143.47L301.54 138.83L303.03 134.68L304.52 130.96L306.01 127.51L307.5 124.25"/>
<path d="M55.5 144.16L56.99 141.69L58.48 139.32L59.97 136.69L61.46 133.62L62.96 129.98L64.45 125.74L65.94 121.42L67.43 117.63L68.92 114.73L70.41 112.98L71.9 112.93L73.39 114.82L74.88 118.46L76.38 123.4L77.87 128.9L79.36 134.7L80.85 140.5L82.34 145.82L83.83 150.48L85.32 154.53L86.81 157.86L88.3 160.33L89.8 161.49L91.29 160.99L92.78 158.63L94.27 154.18L95.76 148.22L97.25 141.76L98.74 135.49L100.23 129.76L101.72 124.43L103.22 119.37L104.71 114.65L106.2 110.19L107.69 105.95L109.18 102.13L110.67 99.03L112.16 97.07L113.65 96.98L115.14 99.24L116.64 103.77L118.13 110.11L119.62 117.21L121.11 124.56L122.6 132.4L124.09 140.69L125.58 148.48L127.07 155.1L128.57 160.3L130.06 163.26L131.55 163.08L133.04 159.73L134.53 153.56L136.02 145.63L137.51 137.25L139 128.14L140.49 117.66L141.99 106.73L143.48 96.94L144.97 89.08L146.46 83.2L147.95 79.23L149.44 77.32L150.93 77.91L152.42 81.12L153.91 87.07L155.41 95.8L156.9 106.57L158.39 118.16L159.88 129.67L161.37 140.55L162.86 149.71L164.35 156.11L165.84 159.53L167.33 160.17L168.83 157.85L170.32 152.86L171.81 146.37L173.3 139.29L174.79 132.28L176.28 125.18L177.77 117.12L179.26 107.56L180.75 97.09L182.25 87.51L183.74 80.64L185.23 77.38L186.72 77.63L188.21 81.16L189.7 87.4L191.19 95.59L192.68 104.75L194.17 114.2L195.67 123.41L197.16 131.66L198.65 138.45L200.14 143.76L201.63 147.72L203.12 150.39L204.61 151.43L206.1 150.36L207.59 147.3L209.09 142.75L210.58 137.4L212.07 132.14L213.56 127.59L215.05 123.96L216.54 121.1L218.03 118.68L219.52 116.48L221.01 114.45L222.51 112.58L224 111.02L225.49 110.06L226.98 109.85L228.47 110.44L229.96 111.65L231.45 113.07L232.94 114.3L234.43 115.15L235.93 115.74L237.42 116.33L238.91 117.22L240.4 118.66L241.89 120.77L243.38 123.34L244.87 126.02L246.36 128.44L247.86 130.44L249.35 132.04L250.84 133.37L252.33 134.63L253.82 136.06L255.31 137.75L256.8 139.55L258.29 141.25L259.78 142.46L261.28 142.7L262.77 141.76L264.26 139.89L265.75 137.54L267.24 135.16L268.73 133.29L270.22 132.24L271.71 132L273.2 132.34L274.7 133.01L276.19 133.96L277.68 135.18L279.17 136.85L280.66 139.15L282.15 142.16L283.64 145.74L285.13 149.37L286.62 152.54L288.12 154.92L289.61 156.17L291.1 155.8L292.59 153.68L294.08 150.24L295.57 146.07L297.06 142L298.55 138.63L300.04 135.9L301.54 133.53L303.03 131.17L304.52 128.47L306.01 125.41L307.5 122.24"/>
<path d="M55.5 150.16L56.99 149.08L58.48 147.47L59.97 144.96L61.46 141.47L62.96 137.2L64.45 132.35L65.94 127.48L67.43 123.35L68.92 120.14L70.41 117.83L71.9 116.61L73.39 116.88L74.88 118.76L76.38 122.2L77.87 126.92L79.36 132.69L80.85 139.42L82.34 146.35L83.83 152.74L85.32 158.14L86.81 162.24L88.3 164.78L89.8 165.68L91.29 164.79L92.78 162.26L94.27 158.15L95.76 152.57L97.25 146.41L98.74 140.22L100.23 134.2L101.72 128.28L103.22 122.38L104.71 116.85L106.2 112.03L107.69 108.05L109.18 104.99L110.67 102.94L112.16 101.81L113.65 101.93L115.14 103.74L116.64 107.37L118.13 112.73L119.62 119.25L121.11 126.48L122.6 134.69L124.09 143.91L125.58 153.07L127.07 160.96L128.57 166.91L130.06 170.27L131.55 170.18L133.04 166.8L134.53 160.71L136.02 152.96L137.51 144.95L139 136.52L140.49 126.62L141.99 115.55L143.48 104.82L144.97 95.5L146.46 88.08L147.95 82.83L149.44 80.06L150.93 80.32L152.42 83.48L153.91 89.33L155.41 97.57L156.9 107.42L158.39 117.68L159.88 127.69L161.37 137.25L162.86 145.71L164.35 152.27L165.84 156.56L167.33 158.66L168.83 158L170.32 154.53L171.81 149.15L173.3 142.78L174.79 136.46L176.28 130.39L177.77 124.06L179.26 116.77L180.75 108.57L182.25 100.62L183.74 94.27L185.23 90.46L186.72 89.23L188.21 90.71L189.7 94.82L191.19 101.29L192.68 109.39L194.17 118.45L195.67 127.7L197.16 136.17L198.65 143.03L200.14 147.96L201.63 151.24L203.12 153.21L204.61 153.93L206.1 153.11L207.59 150.68L209.09 146.84L210.58 141.87L212.07 136.37L213.56 130.89L215.05 125.88L216.54 121.59L218.03 118.11L219.52 115.51L221.01 113.8L222.51 112.83L224 112.35L225.49 112.2L226.98 112.27L228.47 112.53L229.96 113.02L231.45 113.75L232.94 114.61L234.43 115.58L235.93 116.74L237.42 118.15L238.91 119.78L240.4 121.63L241.89 123.74L243.38 126.1L244.87 128.64L246.36 131.29L247.86 134.07L249.35 136.98L250.84 139.93L252.33 142.71L253.82 145.13L255.31 147.09L256.8 148.48L258.29 149.29L259.78 149.62L261.28 149.36L262.77 148.4L264.26 146.85L265.75 144.93L267.24 142.75L268.73 140.52L270.22 138.54L271.71 137L273.2 135.98L274.7 135.54L276.19 135.81L277.68 136.83L279.17 138.54L280.66 140.82L282.15 143.46L283.64 146.26L285.13 148.85L286.62 150.93L288.12 152.58L289.61 153.83L291.1 154.37L292.59 153.78L294.08 152.05L295.57 149.36L297.06 146.15L298.55 143.02L300.04 140.15L301.54 137.56L303.03 135.25L304.52 133.08L306.01 130.96L307.5 128.89"/>
<path d="M55.5 150.41L56.99 146.98L58.48 143.62L59.97 140.13L61.46 136.5L62.96 132.64L64.45 128.5L65.94 124.48L67.43 120.86L68.92 117.73L70.41 115.38L71.9 114.5L73.39 115.67L74.88 119.06L76.38 124.45L77.87 131.25L79.36 138.98L80.85 146.86L82.34 153.85L83.83 159.4L85.32 163.4L86.81 165.96L88.3 167.4L89.8 167.82L91.29 167.31L92.78 165.77L94.27 162.71L95.76 158.24L97.25 152.76L98.74 146.46L100.23 139.52L101.72 132.11L103.22 124.78L104.71 118.35L106.2 113.26L107.69 109.57L109.18 107.15L110.67 105.63L112.16 104.76L113.65 104.8L115.14 106.12L116.64 108.97L118.13 113.48L119.62 119.36L121.11 126.71L122.6 135.87L124.09 146.19L125.58 155.87L127.07 163.57L128.57 168.54L130.06 169.82L131.55 167.1L133.04 161.22L134.53 153.27L136.02 145.07L137.51 137.68L139 130.08L140.49 121.14L141.99 111.46L143.48 102.1L144.97 93.72L146.46 86.7L147.95 81.63L149.44 79.38L150.93 80.67L152.42 85.52L153.91 93.79L155.41 104.68L156.9 116.79L158.39 128.59L159.88 139.4L161.37 148.93L162.86 156.49L164.35 161.7L165.84 164.73L167.33 165.66L168.83 163.97L170.32 159.82L171.81 153.99L173.3 147.11L174.79 139.77L176.28 131.75L177.77 122.5L179.26 111.93L180.75 101.06L182.25 91.84L183.74 85.8L185.23 83.32L186.72 84.16L188.21 87.99L189.7 94.13L191.19 101.92L192.68 110.46L194.17 119.24L195.67 127.81L197.16 135.41L198.65 141.67L200.14 146.71L201.63 150.66L203.12 153.51L204.61 154.76L206.1 153.83L207.59 150.78L209.09 146.03L210.58 140.34L212.07 134.7L213.56 129.9L215.05 126.34L216.54 124.03L218.03 122.62L219.52 121.75L221.01 121.05L222.51 120.12L224 118.87L225.49 117.52L226.98 116.46L228.47 116.1L229.96 116.71L231.45 118.2L232.94 120.2L234.43 122.31L235.93 124.17L237.42 125.52L238.91 126.28L240.4 126.68L241.89 127.12L243.38 127.98L244.87 129.5L246.36 131.75L247.86 134.64L249.35 137.84L250.84 140.83L252.33 143.12L253.82 144.52L255.31 145.05L256.8 144.97L258.29 144.73L259.78 144.65L261.28 144.68L262.77 144.67L264.26 144.45L265.75 143.77L267.24 142.38L268.73 140.37L270.22 138.03L271.71 135.84L273.2 134.28L274.7 133.87L276.19 135L277.68 137.64L279.17 141.47L280.66 145.9L282.15 150.28L283.64 153.99L285.13 156.54L286.62 157.96L288.12 158.67L289.61 158.97L291.1 158.72L292.59 157.81L294.08 156.27L295.57 154.02L297.06 151.29L298.55 148.21L300.04 144.73L301.54 141.02L303.03 137.3L304.52 133.82L306.01 130.88L307.5 128.68"/>
<path d="M55.5 157.71L56.99 155.24L58.48 151.95L59.97 148.04L61.46 143.66L62.96 139.08L64.45 134.38L65.94 129.47L67.43 124.77L68.92 120.63L70.41 117.11L71.9 114.34L73.39 113.1L74.88 114.12L76.38 117.62L77.87 123.48L79.36 130.85L80.85 139.24L82.34 147.87L83.83 155.59L85.32 161.81L86.81 166.5L88.3 169.76L89.8 171.89L91.29 172.84L92.78 172.41L94.27 170.39L95.76 166.15L97.25 159.84L98.74 152.29L100.23 144.16L101.72 136L103.22 128.09L104.71 120.77L106.2 114.56L107.69 109.55L109.18 105.46L110.67 102.04L112.16 99.12L113.65 96.79L115.14 95.84L116.64 97.17L118.13 101.2L119.62 107.9L121.11 116.4L122.6 125.94L124.09 136.41L125.58 147.21L127.07 156.76L128.57 164.08L130.06 168.97L131.55 171.03L133.04 169.88L134.53 165.88L136.02 159.67L137.51 152.13L139 144.16L140.49 134.94L141.99 123.43L143.48 110.47L144.97 98.19L146.46 88.06L147.95 80.74L149.44 76.43L150.93 75.25L152.42 77.22L153.91 81.9L155.41 88.85L156.9 97.91L158.39 108.46L159.88 119.68L161.37 131.23L162.86 142.97L164.35 153.86L165.84 162.45L167.33 167.93L168.83 169.82L170.32 167.45L171.81 161.1L173.3 152.42L174.79 143.03L176.28 134.35L177.77 126.52L179.26 118.48L180.75 109.11L182.25 98.38L183.74 87.79L185.23 79.18L186.72 73.8L188.21 72.14L189.7 74.72L191.19 81.42L192.68 91.64L194.17 103.9L195.67 116.79L197.16 128.97L198.65 139.01L200.14 146.22L201.63 150.96L203.12 154.06L204.61 156.34L206.1 157.78L207.59 157.72L209.09 155.78L210.58 151.82L212.07 145.98L213.56 139.06L215.05 132L216.54 125.68L218.03 120.71L219.52 117.3L221.01 115.39L222.51 114.62L224 114.27L225.49 113.74L226.98 112.8L228.47 111.57L229.96 110.51L231.45 110.16L232.94 110.82L234.43 112.4L235.93 114.63L237.42 117.13L238.91 119.43L240.4 121.17L241.89 122.36L243.38 123.29L244.87 124.4L246.36 126.06L247.86 128.47L249.35 131.66L250.84 135.35L252.33 138.96L253.82 141.93L255.31 143.97L256.8 145.1L258.29 145.59L259.78 145.94L261.28 146.48L262.77 147.11L264.26 147.5L265.75 147.36L267.24 146.41L268.73 144.48L270.22 141.81L271.71 139L273.2 136.69L274.7 135.42L276.19 135.58L277.68 137.29L279.17 140.22L280.66 143.85L282.15 147.56L283.64 150.88L285.13 153.59L286.62 155.59L288.12 157.09L289.61 158.52L291.1 159.96L292.59 160.82L294.08 160.39L295.57 158.29L297.06 154.5L298.55 149.57L300.04 144.36L301.54 139.49L303.03 135.47L304.52 132.56L306.01 130.56L307.5 129.04"/>
<path d="M55.5 149.64L56.99 148.98L58.48 147.84L59.97 145.98L61.46 143.26L62.96 139.63L64.45 135.24L65.94 130.3L67.43 125.34L68.92 121.12L70.41 117.88L71.9 115.63L73.39 114.57L74.88 115.02L76.38 117.07L77.87 120.63L79.36 125.34L80.85 130.96L82.34 137.31L83.83 143.71L85.32 149.51L86.81 154.31L88.3 157.88L89.8 160.11L91.29 160.96L92.78 160.39L94.27 158.56L95.76 155.48L97.25 151.21L98.74 146.38L100.23 141.44L101.72 136.47L103.22 131.33L104.71 125.9L106.2 120.47L107.69 115.41L109.18 110.95L110.67 107.29L112.16 104.65L113.65 103.06L115.14 102.85L116.64 104.48L118.13 108.03L119.62 113.4L121.11 120L122.6 127.23L124.09 135.21L125.58 143.99L127.07 152.64L128.57 160.01L130.06 165.49L131.55 168.58L133.04 168.52L134.53 165.42L136.02 159.87L137.51 152.76L139 145.51L140.49 138.09L141.99 129.31L143.48 119.12L144.97 108.91L146.46 99.73L147.95 92.11L149.44 86.33L150.93 82.75L152.42 82.02L153.91 84.22L155.41 89.19L156.9 96.78L158.39 106.25L159.88 116.45L161.37 126.52L162.86 136.2L164.35 144.91L165.84 151.67L167.33 156.06L168.83 158.1L170.32 157.37L171.81 153.63L173.3 147.79L174.79 140.89L176.28 133.98L177.77 127.52L179.26 121.01L180.75 113.73L182.25 105.57L183.74 97.53L185.23 91L186.72 87.05L188.21 85.72L189.7 87.14L191.19 91.31L192.68 97.91L194.17 106.37L195.67 115.91L197.16 125.77L198.65 135.02L200.14 142.69L201.63 148.38L203.12 152.29L204.61 154.75L206.1 155.9L207.59 155.52L209.09 153.54L210.58 150.21L212.07 145.82L213.56 140.96L215.05 136.18L216.54 131.87L218.03 128.22L219.52 125.26L221.01 122.93L222.51 121.2L224 119.9L225.49 118.79L226.98 117.74L228.47 116.73L229.96 115.84L231.45 115.21L232.94 114.94L234.43 115.01L235.93 115.41L237.42 116.18L238.91 117.31L240.4 118.67L241.89 120.17L243.38 121.75L244.87 123.36L246.36 124.92L247.86 126.43L249.35 127.98L250.84 129.71L252.33 131.67L253.82 133.77L255.31 135.91L256.8 138.04L258.29 140.01L259.78 141.72L261.28 143.14L262.77 144.07L264.26 144.28L265.75 143.78L267.24 142.71L268.73 141.18L270.22 139.45L271.71 137.87L273.2 136.71L274.7 136.16L276.19 136.31L277.68 137.31L279.17 139.17L280.66 141.78L282.15 144.92L283.64 148.31L285.13 151.68L286.62 154.61L288.12 156.79L289.61 158.26L291.1 159.12L292.59 159.16L294.08 158.09L295.57 155.93L297.06 152.89L298.55 149.38L300.04 145.96L301.54 142.8L303.03 139.9L304.52 137.22L306.01 134.59L307.5 131.84"/>
<path d="M55.5 143.28L56.99 140.99L58.48 138.97L59.97 137.05L61.46 135.07L62.96 132.94L64.45 130.65L65.94 128.21L67.43 125.94L68.92 124.18L70.41 122.84L71.9 121.84L73.39 121.47L74.88 122.1L76.38 123.96L77.87 127.19L79.36 131.7L80.85 137.54L82.34 144.56L83.83 152.07L85.32 159.4L86.81 166.01L88.3 171.41L89.8 175.19L91.29 176.98L92.78 176.57L94.27 173.95L95.76 169.1L97.25 162.45L98.74 154.9L100.23 147.12L101.72 139.43L103.22 131.98L104.71 124.96L106.2 118.82L107.69 113.85L109.18 110.04L110.67 107.35L112.16 105.62L113.65 104.65L115.14 104.64L116.64 105.85L118.13 108.31L119.62 111.97L121.11 116.38L122.6 121.49L124.09 127.86L125.58 135.57L127.07 143.58L128.57 150.98L130.06 157.28L131.55 161.57L133.04 163L134.53 161.61L136.02 157.75L137.51 152.36L139 146.44L140.49 139.34L141.99 130.07L143.48 119.36L144.97 108.84L146.46 99.65L147.95 92.4L149.44 87.58L150.93 85.72L152.42 87.36L153.91 92.31L155.41 100.27L156.9 110.67L158.39 122.41L159.88 134.05L161.37 144.81L162.86 154.4L164.35 161.98L165.84 166.78L167.33 168.66L168.83 167.82L170.32 163.89L171.81 157.23L173.3 149.14L174.79 140.72L176.28 133.04L177.77 126.12L179.26 119.2L180.75 111.46L182.25 103L183.74 95.03L185.23 88.79L186.72 84.91L188.21 83.39L189.7 84.46L191.19 88.06L192.68 94.09L194.17 101.9L195.67 110.97L197.16 120.65L198.65 129.92L200.14 138.03L201.63 144.78L203.12 150.27L204.61 154.62L206.1 157.56L207.59 158.57L209.09 157.52L210.58 154.59L212.07 150.11L213.56 144.79L215.05 139.3L216.54 134.23L218.03 129.98L219.52 126.75L221.01 124.71L222.51 123.87L224 123.98L225.49 124.66L226.98 125.58L228.47 126.46L229.96 127.09L231.45 127.34L232.94 127.11L234.43 126.34L235.93 125.11L237.42 123.68L238.91 122.31L240.4 121.24L241.89 120.68L243.38 120.86L244.87 121.85L246.36 123.6L247.86 125.99L249.35 128.89L250.84 132.12L252.33 135.33L253.82 138.17L255.31 140.36L256.8 141.77L258.29 142.34L259.78 142.24L261.28 141.66L262.77 140.71L264.26 139.52L265.75 138.4L267.24 137.62L268.73 137.27L270.22 137.51L271.71 138.41L273.2 139.89L274.7 141.76L276.19 143.86L277.68 146.12L279.17 148.42L280.66 150.67L282.15 152.81L283.64 154.77L285.13 156.53L286.62 157.96L288.12 159.07L289.61 160.09L291.1 161.06L292.59 161.59L294.08 161.29L295.57 160.05L297.06 157.86L298.55 154.99L300.04 151.76L301.54 148.18L303.03 144.26L304.52 140.01L306.01 135.44L307.5 130.66"/>
<path d="M55.5 154.26L56.99 152.82L58.48 150.77L59.97 147.88L61.46 143.99L62.96 139.31L64.45 134.1L65.94 128.71L67.43 123.94L68.92 120.32L70.41 117.89L71.9 116.59L73.39 116.7L74.88 118.44L76.38 121.74L77.87 126.44L79.36 132.15L80.85 138.77L82.34 145.97L83.83 152.96L85.32 159.17L86.81 164.28L88.3 168.03L89.8 170.31L91.29 170.98L92.78 170.02L94.27 167.52L95.76 163.37L97.25 158L98.74 152.16L100.23 146.18L101.72 140.11L103.22 133.85L104.71 127.48L106.2 121.44L107.69 116.04L109.18 111.43L110.67 107.78L112.16 105.16L113.65 103.64L115.14 103.63L116.64 105.47L118.13 109.19L119.62 114.52L121.11 120.88L122.6 128.02L124.09 136.24L125.58 145.23L127.07 153.75L128.57 160.86L130.06 166.04L131.55 168.51L133.04 167.72L134.53 163.93L136.02 157.88L137.51 150.77L139 143.62L140.49 135.77L141.99 126.39L143.48 116.15L144.97 106.48L146.46 98.23L147.95 91.78L149.44 87.41L150.93 85.56L152.42 86.63L153.91 90.54L155.41 97.13L156.9 106.03L158.39 116.29L159.88 126.77L161.37 136.98L162.86 146.69L164.35 155.05L165.84 161.24L167.33 164.96L168.83 166.08L170.32 163.97L171.81 158.81L173.3 151.77L174.79 143.85L176.28 136.1L177.77 128.48L179.26 120.3L180.75 111.01L182.25 101.1L183.74 92.19L185.23 85.76L186.72 82.45L188.21 82.3L189.7 85.45L191.19 91.58L192.68 100.3L194.17 110.56L195.67 121.53L197.16 132.34L198.65 141.69L200.14 148.87L201.63 153.9L203.12 157.14L204.61 159.03L206.1 159.5L207.59 158.22L209.09 155.34L210.58 151.1L212.07 145.91L213.56 140.4L215.05 135.09L216.54 130.32L218.03 126.26L219.52 122.9L221.01 120.31L222.51 118.5L224 117.22L225.49 116.3L226.98 115.66L228.47 115.27L229.96 115.21L231.45 115.54L232.94 116.23L234.43 117.19L235.93 118.38L237.42 119.85L238.91 121.54L240.4 123.39L241.89 125.34L243.38 127.42L244.87 129.56L246.36 131.73L247.86 133.93L249.35 136.23L250.84 138.68L252.33 141.19L253.82 143.57L255.31 145.73L256.8 147.55L258.29 148.92L259.78 149.87L261.28 150.35L262.77 150.21L264.26 149.34L265.75 147.89L267.24 146.03L268.73 143.89L270.22 141.73L271.71 139.85L273.2 138.44L274.7 137.59L276.19 137.45L277.68 138.15L279.17 139.67L280.66 141.93L282.15 144.77L283.64 147.93L285.13 151.11L286.62 153.93L288.12 156.18L289.61 157.94L291.1 159.1L292.59 159.28L294.08 158.24L295.57 156.06L297.06 153.01L298.55 149.62L300.04 146.39L301.54 143.45L303.03 140.83L304.52 138.47L306.01 136.18L307.5 133.88"/>
<path d="M55.5 154.89L56.99 152.55L58.48 150.04L59.97 146.89L61.46 142.73L62.96 137.62L64.45 131.72L65.94 125.43L67.43 119.78L68.92 115.34L70.41 112.31L71.9 110.86L73.39 111.47L74.88 114.37L76.38 119.35L77.87 126.05L79.36 133.75L80.85 142.24L82.34 150.71L83.83 158.2L85.32 164.11L86.81 168.24L88.3 170.47L89.8 170.97L91.29 169.79L92.78 167.2L94.27 163.4L95.76 158.27L97.25 152.37L98.74 146.26L100.23 140.05L101.72 133.6L103.22 126.67L104.71 119.49L106.2 112.6L107.69 106.43L109.18 101.36L110.67 97.72L112.16 95.68L113.65 95.46L115.14 97.43L116.64 101.64L118.13 107.84L119.62 115.34L121.11 123.38L122.6 131.68L124.09 140.42L125.58 149.06L127.07 156.56L128.57 162.28L130.06 165.92L131.55 166.88L133.04 164.97L134.53 160.52L136.02 154.24L137.51 147.27L139 140.03L140.49 131.48L141.99 121.04L143.48 109.69L144.97 98.83L146.46 89.35L147.95 81.81L149.44 76.75L150.93 74.9L152.42 76.6L153.91 81.75L155.41 90.12L156.9 101L158.39 113.12L159.88 125.19L161.37 136.7L162.86 147.22L164.35 155.77L165.84 161.75L167.33 165.12L168.83 165.75L170.32 163.11L171.81 157.75L173.3 150.88L174.79 143.4L176.28 136.13L177.77 128.54L179.26 119.74L180.75 109.18L182.25 97.66L183.74 87.08L185.23 79.13L186.72 74.4L188.21 73.2L189.7 75.94L191.19 82.23L192.68 91.68L194.17 103.02L195.67 115.26L197.16 127.24L198.65 137.39L200.14 144.95L201.63 150.07L203.12 153.14L204.61 154.69L206.1 154.73L207.59 153.15L209.09 150.31L210.58 146.54L212.07 142.29L213.56 138.08L215.05 134.19L216.54 130.69L218.03 127.5L219.52 124.45L221.01 121.56L222.51 118.85L224 116.26L225.49 113.84L226.98 111.81L228.47 110.36L229.96 109.7L231.45 109.93L232.94 110.93L234.43 112.46L235.93 114.3L237.42 116.29L238.91 118.23L240.4 119.97L241.89 121.53L243.38 123.03L244.87 124.6L246.36 126.39L247.86 128.59L249.35 131.34L250.84 134.64L252.33 138.25L253.82 141.84L255.31 145.06L256.8 147.57L258.29 149.13L259.78 149.7L261.28 149.24L262.77 147.75L264.26 145.41L265.75 142.61L267.24 139.7L268.73 137L270.22 134.82L271.71 133.39L273.2 132.72L274.7 132.74L276.19 133.39L277.68 134.64L279.17 136.41L280.66 138.63L282.15 141.24L283.64 144.19L285.13 147.3L286.62 150.33L288.12 153.24L289.61 156.1L291.1 158.59L292.59 160.05L294.08 160.02L295.57 158.44L297.06 155.4L298.55 151.51L300.04 147.21L301.54 142.74L303.03 138.38L304.52 134.25L306.01 130.41L307.5 126.96"/>
<path d="M55.5 153.4L56.99 150.96L58.48 148.01L59.97 144.22L61.46 139.59L62.96 134.4L64.45 128.91L65.94 123.73L67.43 119.62L68.92 116.69L70.41 114.87L71.9 114.31L73.39 115.3L74.88 117.87L76.38 121.9L77.87 127.03L79.36 133.09L80.85 139.91L82.34 146.75L83.83 152.98L85.32 158.24L86.81 162.25L88.3 164.88L89.8 165.98L91.29 165.5L92.78 163.56L94.27 160.09L95.76 155.33L97.25 150L98.74 144.54L100.23 139.09L101.72 133.52L103.22 127.82L104.71 122.37L106.2 117.48L107.69 113.31L109.18 110.01L110.67 107.66L112.16 106.26L113.65 106.19L115.14 107.84L116.64 111.28L118.13 116.45L119.62 122.68L121.11 129.64L122.6 137.58L124.09 146.44L125.58 155.06L127.07 162.42L128.57 167.89L130.06 170.75L131.55 170.25L133.04 166.61L134.53 160.36L136.02 152.62L137.51 144.73L139 136.43L140.49 126.63L141.99 115.61L143.48 104.85L144.97 95.4L146.46 87.73L147.95 82.14L149.44 78.98L150.93 78.85L152.42 81.77L153.91 87.51L155.41 95.93L156.9 106.21L158.39 117.17L159.88 128L161.37 138.52L162.86 148.07L164.35 155.6L165.84 160.65L167.33 163.18L168.83 162.64L170.32 158.7L171.81 152.38L173.3 144.83L174.79 137.1L176.28 129.69L177.77 121.97L179.26 113.25L180.75 103.58L182.25 94.3L183.74 87.06L185.23 82.99L186.72 82.08L188.21 84.35L189.7 89.76L191.19 97.79L192.68 107.7L194.17 118.49L195.67 129.31L197.16 139.11L198.65 146.9L200.14 152.43L201.63 156.08L203.12 158.28L204.61 159.19L206.1 158.52L207.59 156.22L209.09 152.54L210.58 147.77L212.07 142.5L213.56 137.28L215.05 132.48L216.54 128.31L218.03 124.83L219.52 122.04L221.01 119.99L222.51 118.5L224 117.37L225.49 116.5L226.98 115.82L228.47 115.38L229.96 115.25L231.45 115.42L232.94 115.8L234.43 116.36L235.93 117.14L237.42 118.16L238.91 119.35L240.4 120.69L241.89 122.21L243.38 123.88L244.87 125.65L246.36 127.53L247.86 129.56L249.35 131.81L250.84 134.22L252.33 136.63L253.82 138.92L255.31 141.01L256.8 142.77L258.29 144.21L259.78 145.31L261.28 145.94L262.77 145.93L264.26 145.38L265.75 144.41L267.24 143.1L268.73 141.7L270.22 140.46L271.71 139.59L273.2 139.2L274.7 139.4L276.19 140.34L277.68 142.06L279.17 144.52L280.66 147.54L282.15 150.91L283.64 154.38L285.13 157.49L286.62 159.96L288.12 161.82L289.61 163.05L291.1 163.3L292.59 162.2L294.08 159.77L295.57 156.23L297.06 152.09L298.55 148.01L300.04 144.2L301.54 140.73L303.03 137.62L304.52 134.72L306.01 131.89L307.5 129.14"/>
<path d="M55.5 155.76L56.99 153.76L58.48 151.03L59.97 147.65L61.46 143.78L62.96 139.69L64.45 135.61L65.94 131.66L67.43 128.23L68.92 125.59L70.41 123.59L71.9 122.05L73.39 121.32L74.88 121.91L76.38 124.12L77.87 128.13L79.36 133.71L80.85 140.77L82.34 148.85L83.83 156.86L85.32 163.88L86.81 169.31L88.3 172.76L89.8 174.22L91.29 173.75L92.78 171.64L94.27 168.31L95.76 163.83L97.25 158.57L98.74 153.16L100.23 147.71L101.72 142L103.22 135.65L104.71 128.6L106.2 121.38L107.69 114.56L109.18 108.63L110.67 104.05L112.16 101.11L113.65 99.85L115.14 100.55L116.64 103.31L118.13 107.86L119.62 113.77L121.11 120.25L122.6 127.03L124.09 134.67L125.58 143.29L127.07 151.87L128.57 159.52L130.06 165.73L131.55 169.53L133.04 169.92L134.53 166.91L136.02 160.94L137.51 153.14L139 144.84L140.49 135.74L141.99 125.11L143.48 113.86L144.97 103.69L146.46 95.6L147.95 89.82L149.44 86.35L150.93 85.26L152.42 86.78L153.91 90.68L155.41 96.81L156.9 105.07L158.39 114.89L159.88 125.34L161.37 136.04L162.86 146.8L164.35 156.7L165.84 164.53L167.33 169.64L168.83 171.66L170.32 169.86L171.81 164.31L173.3 156.35L174.79 147.34L176.28 138.65L177.77 130.65L179.26 122.73L180.75 114.16L182.25 105.01L183.74 96.45L185.23 89.73L186.72 85.53L188.21 83.89L189.7 85.12L191.19 89.33L192.68 96.41L194.17 105.66L195.67 116.3L197.16 127.35L198.65 137.39L200.14 145.31L201.63 150.77L203.12 153.97L204.61 155.38L206.1 155.21L207.59 153.47L209.09 150.48L210.58 146.73L212.07 142.58L213.56 138.54L215.05 134.85L216.54 131.52L218.03 128.46L219.52 125.54L221.01 122.82L222.51 120.51L224 118.71L225.49 117.52L226.98 117.08L228.47 117.4L229.96 118.4L231.45 119.9L232.94 121.54L234.43 122.94L235.93 123.92L237.42 124.54L238.91 124.99L240.4 125.5L241.89 126.36L243.38 127.83L244.87 129.96L246.36 132.58L247.86 135.45L249.35 138.32L250.84 140.95L252.33 143.1L253.82 144.63L255.31 145.59L256.8 146.2L258.29 146.65L259.78 147.22L261.28 147.96L262.77 148.61L264.26 148.8L265.75 148.33L267.24 147.06L268.73 144.95L270.22 142.25L271.71 139.45L273.2 137.04L274.7 135.44L276.19 135.03L277.68 136.05L279.17 138.42L280.66 141.82L282.15 145.75L283.64 149.67L285.13 153.12L286.62 155.66L288.12 157.21L289.61 158.12L291.1 158.66L292.59 158.66L294.08 157.92L295.57 156.44L297.06 154.22L298.55 151.53L300.04 148.65L301.54 145.55L303.03 142.28L304.52 138.98L306.01 135.74L307.5 132.76"/>
</g>
<path d="M55.5 140.93L56.55 140.4L57.61 139.47L58.66 138.18L59.72 136.49L60.77 134.32L61.83 131.69L62.88 128.74L63.94 125.55L64.99 122.13L66.04 118.72L67.1 115.7L68.15 113.25L69.21 111.35L70.26 109.94L71.32 108.99L72.37 108.61L73.42 108.97L74.48 110.11L75.53 111.97L76.59 114.6L77.64 117.86L78.7 121.53L79.75 125.63L80.81 130.27L81.86 135.2L82.91 140.07L83.97 144.64L85.02 148.8L86.08 152.44L87.13 155.45L88.19 157.73L89.24 159.33L90.29 160.16L91.35 160.11L92.4 159.26L93.46 157.74L94.51 155.44L95.57 152.22L96.62 148.36L97.68 144.27L98.73 140.09L99.78 135.88L100.84 131.7L101.89 127.5L102.95 123.14L104 118.67L105.06 114.32L106.11 110.25L107.17 106.52L108.22 103.18L109.27 100.26L110.33 97.88L111.38 96.03L112.44 94.64L113.49 93.79L114.55 93.76L115.6 94.73L116.65 96.65L117.71 99.52L118.76 103.38L119.82 107.93L120.87 112.78L121.93 117.92L122.98 123.59L124.04 129.96L125.09 136.8L126.14 143.46L127.2 149.44L128.25 154.5L129.31 158.62L130.36 161.57L131.42 162.8L132.47 162.11L133.53 159.84L134.58 156.23L135.63 151.31L136.69 145.7L137.74 140.24L138.8 135.04L139.85 129.53L140.91 123.07L141.96 115.62L143.01 107.88L144.07 100.49L145.12 93.79L146.18 87.96L147.23 83.08L148.29 79.23L149.34 76.44L150.4 74.96L151.45 75.09L152.5 76.75L153.56 79.73L154.61 84.08L155.67 89.81L156.72 96.58L157.78 104.06L158.83 111.74L159.88 119.22L160.94 126.53L161.99 133.75L163.05 140.57L164.1 146.51L165.16 151.29L166.21 154.82L167.27 157.2L168.32 158.39L169.37 157.99L170.43 155.73L171.48 152.04L172.54 147.46L173.59 142.21L174.65 136.72L175.7 131.46L176.76 126.44L177.81 121.34L178.86 115.91L179.92 109.88L180.97 103.19L182.03 96.35L183.08 89.97L184.14 84.63L185.19 80.81L186.24 78.52L187.3 77.6L188.35 78.21L189.41 80.41L190.46 83.99L191.52 88.87L192.57 94.84L193.63 101.46L194.68 108.46L195.73 115.65L196.79 122.72L197.84 129.17L198.9 134.65L199.95 139.02L201.01 142.4L202.06 144.92L203.12 146.74L204.17 148.03L205.22 148.78L206.28 148.79L207.33 147.94L208.39 146.36L209.44 144.15L210.5 141.31L211.55 138.01L212.6 134.54L213.66 131.06L214.71 127.71L215.77 124.63L216.82 121.86L217.88 119.43L218.93 117.33L219.99 115.55L221.04 114.16L222.09 113.15L223.15 112.39L224.2 111.8L225.26 111.35L226.31 111L227.37 110.74L228.42 110.58L229.47 110.53L230.53 110.65L231.58 110.93L232.64 111.35L233.69 111.85L234.75 112.41L235.8 113.07L236.86 113.85L237.91 114.75L238.96 115.72L240.02 116.76L241.07 117.84L242.13 119L243.18 120.23L244.24 121.52L245.29 122.84L246.35 124.18L247.4 125.55L248.45 126.98L249.51 128.52L250.56 130.17L251.62 131.88L252.67 133.57L253.73 135.18L254.78 136.71L255.83 138.12L256.89 139.34L257.94 140.33L259 141.14L260.05 141.79L261.11 142.24L262.16 142.39L263.22 142.17L264.27 141.6L265.32 140.79L266.38 139.79L267.43 138.59L268.49 137.25L269.54 135.91L270.6 134.68L271.65 133.61L272.71 132.79L273.76 132.23L274.81 131.94L275.87 132L276.92 132.5L277.98 133.4L279.03 134.68L280.09 136.35L281.14 138.32L282.19 140.49L283.25 142.81L284.3 145.19L285.36 147.42L286.41 149.33L287.47 150.91L288.52 152.2L289.58 153.24L290.63 154L291.68 154.26L292.74 153.82L293.79 152.71L294.85 151.02L295.9 148.77L296.96 146.08L298.01 143.3L299.06 140.67L300.12 138.19L301.17 135.87L302.23 133.77L303.28 131.89L304.34 130.15L305.39 128.49L306.45 126.95L307.5 125.83L307.5 134.01L306.45 135.15L305.39 136.71L304.34 138.39L303.28 140.14L302.23 142.04L301.17 144.15L300.12 146.49L299.06 148.98L298.01 151.64L296.96 154.43L295.9 157.13L294.85 159.4L293.79 161.11L292.74 162.24L291.68 162.7L290.63 162.45L289.58 161.71L288.52 160.68L287.47 159.41L286.41 157.85L285.36 155.96L284.3 153.74L283.25 151.38L282.19 149.08L281.14 146.93L280.09 144.98L279.03 143.33L277.98 142.07L276.92 141.18L275.87 140.7L274.81 140.66L273.76 140.97L272.71 141.55L271.65 142.39L270.6 143.47L269.54 144.73L268.49 146.09L267.43 147.45L266.38 148.66L265.32 149.68L264.27 150.51L263.22 151.1L262.16 151.35L261.11 151.22L260.05 150.79L259 150.15L257.94 149.36L256.89 148.39L255.83 147.2L254.78 145.8L253.73 144.3L252.67 142.71L251.62 141.04L250.56 139.35L249.51 137.72L248.45 136.21L247.4 134.79L246.35 133.45L245.29 132.13L244.24 130.83L243.18 129.57L242.13 128.36L241.07 127.22L240.02 126.16L238.96 125.15L237.91 124.2L236.86 123.32L235.8 122.57L234.75 121.93L233.69 121.39L232.64 120.91L231.58 120.52L230.53 120.26L229.47 120.17L228.42 120.24L227.37 120.43L226.31 120.71L225.26 121.08L224.2 121.56L223.15 122.18L222.09 122.96L221.04 124L219.99 125.41L218.93 127.22L217.88 129.35L216.82 131.8L215.77 134.59L214.71 137.7L213.66 141.07L212.6 144.58L211.55 148.08L210.5 151.4L209.44 154.27L208.39 156.51L207.33 158.12L206.28 158.99L205.22 159.01L204.17 158.29L203.12 157.03L202.06 155.24L201.01 152.74L199.95 149.39L198.9 145.05L197.84 139.6L196.79 133.18L195.73 126.14L194.68 118.98L193.63 112.01L192.57 105.42L191.52 99.47L190.46 94.63L189.41 91.08L188.35 88.91L187.3 88.32L186.24 89.27L185.19 91.6L184.14 95.45L183.08 100.82L182.03 107.23L180.97 114.11L179.92 120.82L178.86 126.89L177.81 132.35L176.76 137.48L175.7 142.53L174.65 147.82L173.59 153.35L172.54 158.63L171.48 163.25L170.43 166.97L169.37 169.26L168.32 169.7L167.27 168.54L166.21 166.19L165.16 162.7L164.1 157.95L163.05 152.04L161.99 145.26L160.94 138.08L159.88 130.81L158.83 123.36L157.78 115.71L156.72 108.27L155.67 101.53L154.61 95.85L153.56 91.53L152.5 88.59L151.45 86.96L150.4 86.87L149.34 88.39L148.29 91.22L147.23 95.11L146.18 100.02L145.12 105.89L144.07 112.63L143.01 120.06L141.96 127.84L140.91 135.33L139.85 141.83L138.8 147.38L137.74 152.62L136.69 158.12L135.63 163.77L134.58 168.73L133.53 172.38L132.47 174.69L131.42 175.42L130.36 174.24L129.31 171.33L128.25 167.25L127.2 162.23L126.14 156.29L125.09 149.67L124.04 142.88L122.98 136.55L121.93 130.93L120.87 125.83L119.82 121.02L118.76 116.52L117.71 112.7L116.65 109.88L115.6 108L114.55 107.08L113.49 107.16L112.44 108.05L111.38 109.49L110.33 111.38L109.27 113.82L108.22 116.78L107.17 120.17L106.11 123.94L105.06 128.06L104 132.46L102.95 136.98L101.89 141.39L100.84 145.64L99.78 149.87L98.73 154.12L97.68 158.35L96.62 162.5L95.57 166.41L94.51 169.68L93.46 172.03L92.4 173.61L91.35 174.51L90.29 174.61L89.24 173.83L88.19 172.28L87.13 170.05L86.08 167.1L85.02 163.51L83.97 159.41L82.91 154.89L81.86 150.08L80.81 145.2L79.75 140.61L78.7 136.57L77.64 132.96L76.59 129.75L75.53 127.18L74.48 125.38L73.42 124.3L72.37 123.99L71.32 124.43L70.26 125.44L69.21 126.9L68.15 128.86L67.1 131.38L66.04 134.46L64.99 137.93L63.94 141.41L62.88 144.66L61.83 147.66L60.77 150.35L59.72 152.59L58.66 154.34L57.61 155.69L56.55 156.69L55.5 157.28Z" fill="#4c7cb2" fill-opacity="0.38" stroke="none"/>
<path d="M55.5 149.34L56.34 148.75L57.19 148.02L58.03 147.1L58.87 145.95L59.71 144.55L60.56 142.83L61.4 140.8L62.24 138.53L63.09 136.1L63.93 133.51L64.77 130.76L65.61 127.97L66.46 125.33L67.3 123.02L68.14 121.08L68.98 119.49L69.83 118.23L70.67 117.26L71.51 116.59L72.36 116.3L73.2 116.5L74.04 117.2L74.88 118.37L75.73 120L76.57 122.12L77.41 124.67L78.26 127.49L79.1 130.54L79.94 133.92L80.78 137.63L81.63 141.55L82.47 145.46L83.31 149.24L84.16 152.79L85 156.06L85.84 159.01L86.68 161.57L87.53 163.68L88.37 165.33L89.21 166.55L90.06 167.28L90.9 167.45L91.74 167.07L92.58 166.22L93.43 164.95L94.27 163.18L95.11 160.82L95.95 157.93L96.8 154.75L97.64 151.45L98.48 148.09L99.33 144.71L100.17 141.34L101.01 137.99L101.85 134.6L102.7 131.11L103.54 127.53L104.38 123.96L105.23 120.51L106.07 117.25L106.91 114.22L107.75 111.42L108.6 108.87L109.44 106.62L110.28 104.73L111.13 103.18L111.97 101.92L112.81 100.96L113.65 100.41L114.5 100.4L115.34 101.04L116.18 102.3L117.03 104.15L117.87 106.63L118.71 109.74L119.55 113.3L120.4 117.09L121.24 121.04L122.08 125.21L122.92 129.75L123.77 134.74L124.61 140.11L125.45 145.58L126.3 150.8L127.14 155.54L127.98 159.68L128.82 163.23L129.67 166.14L130.51 168.19L131.35 169.09L132.2 168.76L133.04 167.33L133.88 165.02L134.72 161.86L135.57 157.88L136.41 153.41L137.25 148.93L138.1 144.68L138.94 140.51L139.78 136.08L140.62 131.05L141.47 125.31L142.31 119.14L143.15 112.97L143.99 107.06L144.84 101.58L145.68 96.63L146.52 92.27L147.37 88.54L148.21 85.47L149.05 83.07L149.89 81.44L150.74 80.77L151.58 81.16L152.42 82.5L153.27 84.68L154.11 87.71L154.95 91.65L155.79 96.43L156.64 101.85L157.48 107.74L158.32 113.87L159.17 119.95L160.01 125.87L160.85 131.7L161.69 137.47L162.54 143.09L163.38 148.29L164.22 152.84L165.07 156.64L165.91 159.64L166.75 161.86L167.59 163.38L168.44 164.09L169.28 163.74L170.12 162.19L170.96 159.6L171.81 156.3L172.65 152.5L173.49 148.29L174.34 143.88L175.18 139.57L176.02 135.45L176.86 131.43L177.71 127.35L178.55 123.07L179.39 118.45L180.24 113.38L181.08 107.96L181.92 102.47L182.76 97.25L183.61 92.56L184.45 88.71L185.29 85.91L186.14 84.07L186.98 83.09L187.82 83.05L188.66 84.05L189.51 86.03L190.35 88.87L191.19 92.54L192.04 96.98L192.88 102L193.72 107.35L194.56 112.94L195.41 118.66L196.25 124.39L197.09 129.89L197.93 134.91L198.78 139.29L199.62 142.96L200.46 145.96L201.31 148.37L202.15 150.25L202.99 151.7L203.83 152.8L204.68 153.59L205.52 153.97L206.36 153.85L207.21 153.18L208.05 152.01L208.89 150.44L209.73 148.47L210.58 146.11L211.42 143.47L212.26 140.7L213.11 137.89L213.95 135.13L214.79 132.47L215.63 129.99L216.48 127.7L217.32 125.63L218.16 123.78L219.01 122.14L219.85 120.7L220.69 119.5L221.53 118.56L222.38 117.83L223.22 117.24L224.06 116.76L224.9 116.36L225.75 116.03L226.59 115.78L227.43 115.57L228.28 115.43L229.12 115.35L229.96 115.38L230.8 115.51L231.65 115.75L232.49 116.07L233.33 116.45L234.18 116.86L235.02 117.33L235.86 117.86L236.7 118.47L237.55 119.16L238.39 119.9L239.23 120.69L240.08 121.51L240.92 122.37L241.76 123.27L242.6 124.22L243.45 125.21L244.29 126.24L245.13 127.29L245.97 128.34L246.82 129.41L247.66 130.51L248.5 131.66L249.35 132.88L250.19 134.17L251.03 135.51L251.87 136.87L252.72 138.21L253.56 139.49L254.4 140.72L255.25 141.89L256.09 142.97L256.93 143.91L257.77 144.7L258.62 145.37L259.46 145.95L260.3 146.42L261.15 146.74L261.99 146.87L262.83 146.76L263.67 146.42L264.52 145.88L265.36 145.2L266.2 144.41L267.05 143.49L267.89 142.45L268.73 141.35L269.57 140.28L270.42 139.28L271.26 138.37L272.1 137.61L272.94 137.02L273.79 136.59L274.63 136.33L275.47 136.28L276.32 136.5L277.16 137.01L278 137.76L278.84 138.75L279.69 139.99L280.53 141.46L281.37 143.09L282.22 144.83L283.06 146.67L283.9 148.56L284.74 150.43L285.59 152.14L286.43 153.62L287.27 154.89L288.12 155.97L288.96 156.89L289.8 157.66L290.64 158.23L291.49 158.48L292.33 158.29L293.17 157.64L294.02 156.6L294.86 155.19L295.7 153.42L296.54 151.34L297.39 149.11L298.23 146.91L299.07 144.81L299.91 142.81L300.76 140.91L301.6 139.13L302.44 137.5L303.29 136.01L304.13 134.61L304.97 133.26L305.81 131.93L306.66 130.63L307.5 129.34" fill="none" stroke="#2a5b96" stroke-width="2.15" stroke-linejoin="round"/>
<line x1="226.5" x2="226.5" y1="37.4" y2="221" stroke="#111" stroke-width="1.7" stroke-dasharray="9.9 9.4"/>
<rect x="55.5" y="230" width="251.2" height="9.8" fill="#000"/>
<rect x="73.5" y="230" width="18" height="9.8" fill="#1400fa"/>
<rect x="118.5" y="230" width="18" height="9.8" fill="#1400fa"/>
<rect x="154.5" y="230" width="18" height="9.8" fill="#1400fa"/>
<rect x="190.5" y="230" width="18" height="9.8" fill="#1400fa"/>
<rect x="208.5" y="230" width="98.2" height="9.8" fill="#101010"/>
<line x1="73.5" x2="73.5" y1="230" y2="239.8" stroke="#9a9ab0" stroke-width="0.7"/>
<line x1="91.5" x2="91.5" y1="230" y2="239.8" stroke="#9a9ab0" stroke-width="0.7"/>
<line x1="118.5" x2="118.5" y1="230" y2="239.8" stroke="#9a9ab0" stroke-width="0.7"/>
<line x1="136.5" x2="136.5" y1="230" y2="239.8" stroke="#9a9ab0" stroke-width="0.7"/>
<line x1="154.5" x2="154.5" y1="230" y2="239.8" stroke="#9a9ab0" stroke-width="0.7"/>
<line x1="172.5" x2="172.5" y1="230" y2="239.8" stroke="#9a9ab0" stroke-width="0.7"/>
<line x1="190.5" x2="190.5" y1="230" y2="239.8" stroke="#9a9ab0" stroke-width="0.7"/>
<line x1="208.5" x2="208.5" y1="230" y2="239.8" stroke="#9a9ab0" stroke-width="0.7"/>
<line x1="226.5" x2="226.5" y1="230" y2="239.8" stroke="#666" stroke-width="0.7"/>
<line x1="244.5" x2="244.5" y1="230" y2="239.8" stroke="#666" stroke-width="0.7"/>
<line x1="262.5" x2="262.5" y1="230" y2="239.8" stroke="#666" stroke-width="0.7"/>
<line x1="280.5" x2="280.5" y1="230" y2="239.8" stroke="#666" stroke-width="0.7"/>
<line x1="298.5" x2="298.5" y1="230" y2="239.8" stroke="#666" stroke-width="0.7"/>
<text x="48.9" y="37.11" font-family="'Liberation Serif', serif" font-size="9.6" letter-spacing="0.5" fill="#424242" text-anchor="end">0.10</text>
<text x="48.9" y="86.36" font-family="'Liberation Serif', serif" font-size="9.6" letter-spacing="0.5" fill="#424242" text-anchor="end">0.05</text>
<text x="48.9" y="135.61" font-family="'Liberation Serif', serif" font-size="9.6" letter-spacing="0.5" fill="#424242" text-anchor="end">0.00</text>
<text x="48.9" y="184.86" font-family="'Liberation Serif', serif" font-size="9.6" letter-spacing="0.5" fill="#424242" text-anchor="end">-0.05</text>
<text x="48.9" y="234.11" font-family="'Liberation Serif', serif" font-size="9.6" letter-spacing="0.5" fill="#424242" text-anchor="end">-0.10</text>
<text x="56.05" y="253.3" font-family="'Liberation Serif', serif" font-size="9.6" letter-spacing="0.5" fill="#424242" text-anchor="middle">60</text>
<text x="74.05" y="253.3" font-family="'Liberation Serif', serif" font-size="9.6" letter-spacing="0.5" fill="#424242" text-anchor="middle">72</text>
<text x="92.05" y="253.3" font-family="'Liberation Serif', serif" font-size="9.6" letter-spacing="0.5" fill="#424242" text-anchor="middle">84</text>
<text x="110.05" y="253.3" font-family="'Liberation Serif', serif" font-size="9.6" letter-spacing="0.5" fill="#424242" text-anchor="middle">96</text>
<text x="128.05" y="253.3" font-family="'Liberation Serif', serif" font-size="9.6" letter-spacing="0.5" fill="#424242" text-anchor="middle">108</text>
<text x="146.05" y="253.3" font-family="'Liberation Serif', serif" font-size="9.6" letter-spacing="0.5" fill="#424242" text-anchor="middle">120</text>
<text x="164.05" y="253.3" font-family="'Liberation Serif', serif" font-size="9.6" letter-spacing="0.5" fill="#424242" text-anchor="middle">132</text>
<text x="182.05" y="253.3" font-family="'Liberation Serif', serif" font-size="9.6" letter-spacing="0.5" fill="#424242" text-anchor="middle">144</text>
<text x="200.05" y="253.3" font-family="'Liberation Serif', serif" font-size="9.6" letter-spacing="0.5" fill="#424242" text-anchor="middle">156</text>
<text x="218.05" y="253.3" font-family="'Liberation Serif', serif" font-size="9.6" letter-spacing="0.5" fill="#424242" text-anchor="middle">168</text>
<text x="236.05" y="253.3" font-family="'Liberation Serif', serif" font-size="9.6" letter-spacing="0.5" fill="#424242" text-anchor="middle">180</text>
<text x="254.05" y="253.3" font-family="'Liberation Serif', serif" font-size="9.6" letter-spacing="0.5" fill="#424242" text-anchor="middle">192</text>
<text x="272.05" y="253.3" font-family="'Liberation Serif', serif" font-size="9.6" letter-spacing="0.5" fill="#424242" text-anchor="middle">204</text>
<text x="290.05" y="253.3" font-family="'Liberation Serif', serif" font-size="9.6" letter-spacing="0.5" fill="#424242" text-anchor="middle">216</text>
<text x="308.05" y="253.3" font-family="'Liberation Serif', serif" font-size="9.6" letter-spacing="0.5" fill="#424242" text-anchor="middle">228</text>
<text x="182" y="266" font-family="'Liberation Serif', serif" font-size="12.8" fill="#222" text-anchor="middle">Time (h)</text>
<text transform="translate(22.3 136.3) rotate(-90)" font-family="'Liberation Serif', serif" font-size="13.35" fill="#222" text-anchor="middle">Detrended luminescence</text>
<line x1="110.3" x2="110.3" y1="42" y2="69" stroke="#222" stroke-width="1.1"/>
<path d="M104.8 66.6L115.8 66.6L110.3 77Z" fill="#222"/>
<rect x="55.8" y="326.7" width="251.7" height="196.8" fill="#e1e3e2"/>
<rect x="76.77" y="326.2" width="20.98" height="197.3" fill="#fff"/>
<rect x="129.21" y="326.2" width="20.98" height="197.3" fill="#fff"/>
<line x1="55" x2="308" y1="326.7" y2="326.7" stroke="#787878" stroke-opacity="0.17" stroke-width="1"/>
<line x1="55" x2="308" y1="375.9" y2="375.9" stroke="#787878" stroke-opacity="0.17" stroke-width="1"/>
<line x1="55" x2="308" y1="474.3" y2="474.3" stroke="#787878" stroke-opacity="0.17" stroke-width="1"/>
<line x1="76.77" x2="76.77" y1="326.7" y2="523.5" stroke="#a9a9a9" stroke-width="0.9"/>
<line x1="97.75" x2="97.75" y1="326.7" y2="523.5" stroke="#a9a9a9" stroke-width="0.9"/>
<line x1="129.21" x2="129.21" y1="326.7" y2="523.5" stroke="#a9a9a9" stroke-width="0.9"/>
<line x1="150.19" x2="150.19" y1="326.7" y2="523.5" stroke="#a9a9a9" stroke-width="0.9"/>
<line x1="171.16" x2="171.16" y1="326.7" y2="523.5" stroke="#a9a9a9" stroke-width="0.9"/>
<line x1="192.14" x2="192.14" y1="326.7" y2="523.5" stroke="#a9a9a9" stroke-width="0.9"/>
<line x1="213.11" x2="213.11" y1="326.7" y2="523.5" stroke="#a9a9a9" stroke-width="0.9"/>
<line x1="234.09" x2="234.09" y1="326.7" y2="523.5" stroke="#a9a9a9" stroke-width="0.9"/>
<line x1="255.06" x2="255.06" y1="326.7" y2="523.5" stroke="#a9a9a9" stroke-width="0.9"/>
<line x1="276.04" x2="276.04" y1="326.7" y2="523.5" stroke="#a9a9a9" stroke-width="0.9"/>
<line x1="297.01" x2="297.01" y1="326.7" y2="523.5" stroke="#a9a9a9" stroke-width="0.9"/>
<line x1="54.5" x2="309" y1="425.5" y2="425.5" stroke="#333" stroke-width="1.05"/>
<g fill="none" stroke="#838383" stroke-width="1.5" stroke-opacity="0.55" stroke-linejoin="round">
<path d="M55.8 448.97L57.29 447.9L58.78 446.68L60.27 445.11L61.76 442.96L63.25 440.13L64.74 436.59L66.23 432.59L67.71 428.69L69.2 425.26L70.69 422.56L72.18 420.89L73.67 420.31L75.16 420.7L76.65 421.77L78.14 423.19L79.63 424.74L81.12 426.44L82.61 428.32L84.1 430.27L85.59 432.03L87.08 433.49L88.57 434.75L90.06 435.97L91.54 437.22L93.03 438.47L94.52 439.68L96.01 440.79L97.5 441.73L98.99 442.45L100.48 442.94L101.97 443.17L103.46 443L104.95 442.29L106.44 440.97L107.93 439L109.42 436.33L110.91 432.85L112.4 428.52L113.88 423.39L115.37 417.79L116.86 412.06L118.35 406.53L119.84 401.36L121.33 396.79L122.82 393.2L124.31 390.78L125.8 389.58L127.29 389.62L128.78 390.95L130.27 393.56L131.76 397.4L133.25 402.36L134.74 408.22L136.22 414.67L137.71 421.3L139.2 427.66L140.69 433.4L142.18 438.23L143.67 442.02L145.16 444.77L146.65 446.44L148.14 446.94L149.63 446.29L151.12 444.65L152.61 442.09L154.1 438.72L155.59 434.83L157.08 430.59L158.57 426.14L160.05 421.69L161.54 417.58L163.03 414.02L164.52 411.04L166.01 408.6L167.5 406.64L168.99 405.2L170.48 404.19L171.97 403.43L173.46 402.87L174.95 402.5L176.44 402.32L177.93 402.32L179.42 402.57L180.91 403.3L182.39 404.75L183.88 406.61L185.37 408.49L186.86 410.28L188.35 411.95L189.84 413.46L191.33 414.83L192.82 416.03L194.31 417.07L195.8 417.94L197.29 418.65L198.78 419.17L200.27 419.5L201.76 419.71L203.25 419.77L204.73 419.66L206.22 419.42L207.71 419.18L209.2 419.01L210.69 418.94L212.18 418.94L213.67 418.96L215.16 419L216.65 419L218.14 418.98L219.63 418.95L221.12 418.93L222.61 419.01L224.1 419.36L225.59 420.07L227.08 421.07L228.56 422.24L230.05 423.48L231.54 424.69L233.03 425.86L234.52 426.96L236.01 427.97L237.5 428.84L238.99 429.54L240.48 430.02L241.97 430.31L243.46 430.43L244.95 430.38L246.44 430.23L247.93 430.03L249.42 429.81L250.9 429.59L252.39 429.39L253.88 429.2L255.37 429.03L256.86 428.88L258.35 428.75L259.84 428.63L261.33 428.49L262.82 428.32L264.31 428.12L265.8 427.92L267.29 427.73L268.78 427.59L270.27 427.51L271.76 427.59L273.24 427.91L274.73 428.49L276.22 429.28L277.71 430.25L279.2 431.36L280.69 432.58L282.18 433.86L283.67 435.14L285.16 436.26L286.65 437.16L288.14 437.81L289.63 438.23L291.12 438.4L292.61 438.29L294.1 437.91L295.59 437.34L297.07 436.65L298.56 435.87L300.05 434.98L301.54 434.01L303.03 432.99L304.52 431.93L306.01 430.8L307.5 429.6"/>
<path d="M55.8 431.59L57.29 432.33L58.78 433.04L60.27 433.49L61.76 433.4L63.25 432.48L64.74 430.55L66.23 427.63L67.71 424.12L69.2 420.64L70.69 417.62L72.18 415.44L73.67 414.48L75.16 414.79L76.65 416.21L78.14 418.38L79.63 420.86L81.12 423.45L82.61 426.1L84.1 428.78L85.59 431.26L87.08 433.26L88.57 434.74L90.06 435.95L91.54 437.13L93.03 438.37L94.52 439.69L96.01 441.07L97.5 442.41L98.99 443.57L100.48 444.47L101.97 445.04L103.46 445.16L104.95 444.59L106.44 443.14L107.93 440.81L109.42 437.6L110.91 433.48L112.4 428.38L113.88 422.34L115.37 415.53L116.86 408.4L118.35 401.44L119.84 394.85L121.33 388.77L122.82 383.52L124.31 379.48L125.8 376.79L127.29 375.44L128.78 375.54L130.27 377.14L131.76 380.27L133.25 384.9L134.74 390.87L136.22 397.9L137.71 405.57L139.2 413.32L140.69 420.6L142.18 426.96L143.67 432.12L145.16 435.93L146.65 438.44L148.14 439.65L149.63 439.54L151.12 438.32L152.61 436.25L154.1 433.48L155.59 430.23L157.08 426.8L158.57 423.32L160.05 419.86L161.54 416.57L163.03 413.65L164.52 411.15L166.01 409.02L167.5 407.19L168.99 405.65L170.48 404.45L171.97 403.57L173.46 402.98L174.95 402.71L176.44 402.8L177.93 403.25L179.42 404.03L180.91 405.14L182.39 406.71L183.88 408.72L185.37 410.78L186.86 412.49L188.35 413.75L189.84 414.56L191.33 415L192.82 415.17L194.31 415.2L195.8 415.19L197.29 415.22L198.78 415.31L200.27 415.43L201.76 415.52L203.25 415.5L204.73 415.26L206.22 414.68L207.71 413.73L209.2 412.53L210.69 411.18L212.18 409.78L213.67 408.4L215.16 407.17L216.65 406.16L218.14 405.46L219.63 405.1L221.12 405.09L222.61 405.41L224.1 406.07L225.59 407.14L227.08 408.56L228.56 410.17L230.05 411.79L231.54 413.29L233.03 414.66L234.52 415.98L236.01 417.33L237.5 418.78L238.99 420.36L240.48 422.04L241.97 423.78L243.46 425.53L244.95 427.2L246.44 428.69L247.93 429.94L249.42 430.91L250.9 431.58L252.39 431.94L253.88 432.05L255.37 431.96L256.86 431.79L258.35 431.63L259.84 431.56L261.33 431.6L262.82 431.72L264.31 431.85L265.8 431.94L267.29 431.95L268.78 431.78L270.27 431.39L271.76 430.81L273.24 430.16L274.73 429.57L276.22 429.1L277.71 428.79L279.2 428.68L280.69 428.83L282.18 429.23L283.67 429.83L285.16 430.51L286.65 431.06L288.14 431.35L289.63 431.34L291.12 431L292.61 430.28L294.1 429.19L295.59 427.82L297.07 426.33L298.56 424.86L300.05 423.49L301.54 422.27L303.03 421.23L304.52 420.38L306.01 419.67L307.5 419"/>
<path d="M55.8 438.9L57.29 438.89L58.78 438.55L60.27 437.56L61.76 435.68L63.25 432.81L64.74 429.04L66.23 424.8L67.71 420.77L69.2 417.37L70.69 414.89L72.18 413.62L73.67 413.51L75.16 414.32L76.65 415.64L78.14 417.08L79.63 418.49L81.12 420L82.61 421.73L84.1 423.63L85.59 425.46L87.08 427.2L88.57 428.96L90.06 430.85L91.54 432.77L93.03 434.56L94.52 436.08L96.01 437.2L97.5 437.87L98.99 438.17L100.48 438.22L101.97 438.11L103.46 437.78L104.95 437.07L106.44 435.92L107.93 434.19L109.42 431.63L110.91 427.96L112.4 423L113.88 416.81L115.37 409.82L116.86 402.65L118.35 395.7L119.84 389.3L121.33 383.96L122.82 380.2L124.31 378.17L125.8 377.81L127.29 379.03L128.78 381.69L130.27 385.62L131.76 390.66L133.25 396.58L134.74 403.15L136.22 410.1L137.71 417.02L139.2 423.55L140.69 429.38L142.18 434.28L143.67 438.11L145.16 440.81L146.65 442.26L148.14 442.3L149.63 441.02L151.12 438.6L152.61 435.19L154.1 431.09L155.59 426.66L157.08 422.17L158.57 417.78L160.05 413.69L161.54 410.12L163.03 407.12L164.52 404.57L166.01 402.35L167.5 400.42L168.99 398.8L170.48 397.51L171.97 396.53L173.46 395.93L174.95 395.79L176.44 396.12L177.93 396.85L179.42 397.97L180.91 399.56L182.39 401.56L183.88 403.6L185.37 405.32L186.86 406.65L188.35 407.67L189.84 408.53L191.33 409.37L192.82 410.29L194.31 411.34L195.8 412.49L197.29 413.63L198.78 414.6L200.27 415.28L201.76 415.59L203.25 415.46L204.73 414.88L206.22 414L207.71 413.06L209.2 412.28L210.69 411.76L212.18 411.51L213.67 411.5L215.16 411.63L216.65 411.78L218.14 411.83L219.63 411.74L221.12 411.53L222.61 411.33L224.1 411.4L225.59 411.94L227.08 412.93L228.56 414.3L230.05 415.92L231.54 417.68L233.03 419.45L234.52 421.1L236.01 422.51L237.5 423.57L238.99 424.24L240.48 424.55L241.97 424.65L243.46 424.66L244.95 424.71L246.44 424.91L247.93 425.29L249.42 425.8L250.9 426.32L252.39 426.7L253.88 426.81L255.37 426.59L256.86 426.06L258.35 425.31L259.84 424.46L261.33 423.64L262.82 422.97L264.31 422.56L265.8 422.46L267.29 422.61L268.78 422.9L270.27 423.24L271.76 423.59L273.24 423.94L274.73 424.27L276.22 424.56L277.71 424.89L279.2 425.38L280.69 426.11L282.18 427.14L283.67 428.4L285.16 429.7L286.65 430.87L288.14 431.81L289.63 432.42L291.12 432.59L292.61 432.28L294.1 431.57L295.59 430.63L297.07 429.63L298.56 428.68L300.05 427.83L301.54 427.11L303.03 426.49L304.52 425.86L306.01 425.11L307.5 424.14"/>
<path d="M55.8 442.64L57.29 441.6L58.78 440.53L60.27 439.12L61.76 437.21L63.25 434.68L64.74 431.69L66.23 428.69L67.71 426.04L69.2 423.96L70.69 422.72L72.18 422.4L73.67 422.9L75.16 423.94L76.65 425.16L78.14 426.35L79.63 427.53L81.12 428.8L82.61 430.1L84.1 431.17L85.59 431.87L87.08 432.36L88.57 432.86L90.06 433.49L91.54 434.27L93.03 435.17L94.52 436.16L96.01 437.14L97.5 438.08L98.99 438.97L100.48 439.75L101.97 440.26L103.46 440.25L104.95 439.59L106.44 438.2L107.93 435.97L109.42 432.71L110.91 428.33L112.4 422.87L113.88 416.63L115.37 410.19L116.86 403.92L118.35 397.99L119.84 392.74L121.33 388.64L122.82 385.95L124.31 384.66L125.8 384.81L127.29 386.37L128.78 389.29L130.27 393.47L131.76 398.75L133.25 404.86L134.74 411.45L136.22 418.1L137.71 424.33L139.2 429.81L140.69 434.32L142.18 437.79L143.67 440.29L145.16 441.88L146.65 442.51L148.14 442.18L149.63 441.07L151.12 439.2L152.61 436.63L154.1 433.54L155.59 430.04L157.08 426.22L158.57 422.22L160.05 418.32L161.54 414.74L163.03 411.54L164.52 408.71L166.01 406.25L167.5 404.23L168.99 402.65L170.48 401.41L171.97 400.46L173.46 399.82L174.95 399.48L176.44 399.44L177.93 399.72L179.42 400.48L180.91 401.9L182.39 403.75L183.88 405.65L185.37 407.42L186.86 409.04L188.35 410.52L189.84 411.87L191.33 413.14L192.82 414.34L194.31 415.51L195.8 416.66L197.29 417.75L198.78 418.77L200.27 419.71L201.76 420.51L203.25 421.09L204.73 421.41L206.22 421.52L207.71 421.47L209.2 421.27L210.69 420.86L212.18 420.24L213.67 419.41L215.16 418.38L216.65 417.19L218.14 415.92L219.63 414.68L221.12 413.59L222.61 412.89L224.1 412.75L225.59 413.16L227.08 414.02L228.56 415.19L230.05 416.59L231.54 418.18L233.03 419.92L234.52 421.78L236.01 423.67L237.5 425.49L238.99 427.17L240.48 428.68L241.97 429.97L243.46 431.01L244.95 431.82L246.44 432.41L247.93 432.8L249.42 432.99L250.9 432.98L252.39 432.79L253.88 432.43L255.37 431.95L256.86 431.4L258.35 430.8L259.84 430.15L261.33 429.44L262.82 428.71L264.31 427.98L265.8 427.28L267.29 426.6L268.78 425.97L270.27 425.47L271.76 425.21L273.24 425.24L274.73 425.52L276.22 426.02L277.71 426.78L279.2 427.8L280.69 429.08L282.18 430.57L283.67 432.15L285.16 433.68L286.65 435.14L288.14 436.49L289.63 437.63L291.12 438.44L292.61 438.85L294.1 438.86L295.59 438.48L297.07 437.72L298.56 436.55L300.05 435.01L301.54 433.2L303.03 431.2L304.52 429.07L306.01 426.91L307.5 424.81"/>
<path d="M55.8 446.44L57.29 445.23L58.78 443.72L60.27 441.64L61.76 438.82L63.25 435.28L64.74 431.38L66.23 427.63L67.71 424.32L69.2 421.72L70.69 420.1L72.18 419.44L73.67 419.61L75.16 420.28L76.65 421.16L78.14 422.19L79.63 423.48L81.12 425.04L82.61 426.68L84.1 428.11L85.59 429.35L87.08 430.58L88.57 431.89L90.06 433.28L91.54 434.69L93.03 436.07L94.52 437.32L96.01 438.36L97.5 439.19L98.99 439.81L100.48 440.13L101.97 439.99L103.46 439.23L104.95 437.84L106.44 435.78L107.93 432.91L109.42 429.14L110.91 424.4L112.4 418.89L113.88 412.97L115.37 407.16L116.86 401.58L118.35 396.41L119.84 392.07L121.33 388.92L122.82 387.06L124.31 386.49L125.8 387.28L127.29 389.43L128.78 392.91L130.27 397.63L131.76 403.42L133.25 410L134.74 417L136.22 423.95L137.71 430.38L139.2 435.97L140.69 440.48L142.18 443.84L143.67 446.06L145.16 447.12L146.65 446.9L148.14 445.5L149.63 443.07L151.12 439.67L152.61 435.45L154.1 430.7L155.59 425.62L157.08 420.36L158.57 415.23L160.05 410.57L161.54 406.6L163.03 403.36L164.52 400.83L166.01 399.02L167.5 397.88L168.99 397.33L170.48 397.19L171.97 397.34L173.46 397.75L174.95 398.36L176.44 399.13L177.93 400.13L179.42 401.57L180.91 403.51L182.39 405.72L183.88 407.82L185.37 409.74L186.86 411.51L188.35 413.15L189.84 414.69L191.33 416.16L192.82 417.53L194.31 418.8L195.8 419.92L197.29 420.83L198.78 421.49L200.27 421.89L201.76 421.95L203.25 421.65L204.73 421.05L206.22 420.28L207.71 419.46L209.2 418.63L210.69 417.82L212.18 417.07L213.67 416.42L215.16 415.87L216.65 415.45L218.14 415.2L219.63 415.12L221.12 415.31L222.61 415.89L224.1 416.84L225.59 417.98L227.08 419.17L228.56 420.26L230.05 421.22L231.54 422.06L233.03 422.8L234.52 423.47L236.01 424.06L237.5 424.59L238.99 425.08L240.48 425.59L241.97 426.11L243.46 426.65L244.95 427.22L246.44 427.82L247.93 428.4L249.42 428.92L250.9 429.31L252.39 429.56L253.88 429.64L255.37 429.59L256.86 429.43L258.35 429.18L259.84 428.87L261.33 428.52L262.82 428.22L264.31 428.01L265.8 427.93L267.29 427.97L268.78 428.16L270.27 428.59L271.76 429.27L273.24 430.13L274.73 431.09L276.22 432.07L277.71 433.04L279.2 433.98L280.69 434.85L282.18 435.59L283.67 436.1L285.16 436.36L286.65 436.43L288.14 436.35L289.63 436.11L291.12 435.68L292.61 435.1L294.1 434.42L295.59 433.7L297.07 432.9L298.56 431.99L300.05 430.98L301.54 429.89L303.03 428.72L304.52 427.44L306.01 426.1L307.5 424.71"/>
<path d="M55.8 440.12L57.29 440.25L58.78 439.9L60.27 438.64L61.76 436.32L63.25 432.93L64.74 428.94L66.23 425.05L67.71 421.62L69.2 419.1L70.69 417.9L72.18 417.97L73.67 419.18L75.16 421.07L76.65 423.2L78.14 425.35L79.63 427.5L81.12 429.63L82.61 431.57L84.1 433.09L85.59 434.25L87.08 435.34L88.57 436.6L90.06 438.09L91.54 439.78L93.03 441.53L94.52 443.17L96.01 444.49L97.5 445.37L98.99 445.77L100.48 445.62L101.97 444.77L103.46 443.14L104.95 440.75L106.44 437.68L107.93 433.88L109.42 429.17L110.91 423.47L112.4 416.8L113.88 409.5L115.37 401.99L116.86 394.59L118.35 387.43L119.84 380.98L121.33 375.83L122.82 372.37L124.31 370.74L125.8 371.09L127.29 373.54L128.78 378.03L130.27 384.35L131.76 392.18L133.25 400.97L134.74 410.12L136.22 418.95L137.71 426.81L139.2 433.31L140.69 438.28L142.18 441.77L143.67 443.98L145.16 445.08L146.65 445.09L148.14 444.14L149.63 442.4L151.12 439.87L152.61 436.57L154.1 432.69L155.59 428.31L157.08 423.51L158.57 418.6L160.05 413.97L161.54 409.94L163.03 406.63L164.52 404.13L166.01 402.48L167.5 401.68L168.99 401.55L170.48 401.83L171.97 402.33L173.46 402.89L174.95 403.38L176.44 403.75L177.93 404.11L179.42 404.77L180.91 405.92L182.39 407.31L183.88 408.75L185.37 410.27L186.86 411.82L188.35 413.36L189.84 414.81L191.33 416.05L192.82 416.96L194.31 417.48L195.8 417.58L197.29 417.27L198.78 416.67L200.27 415.92L201.76 415.1L203.25 414.29L204.73 413.61L206.22 413.15L207.71 412.93L209.2 412.84L210.69 412.72L212.18 412.48L213.67 412.04L215.16 411.39L216.65 410.62L218.14 409.85L219.63 409.26L221.12 409.1L222.61 409.63L224.1 410.92L225.59 412.8L227.08 415.05L228.56 417.38L230.05 419.59L231.54 421.55L233.03 423.19L234.52 424.5L236.01 425.5L237.5 426.26L238.99 426.92L240.48 427.61L241.97 428.43L243.46 429.4L244.95 430.51L246.44 431.7L247.93 432.81L249.42 433.7L250.9 434.22L252.39 434.3L253.88 433.97L255.37 433.31L256.86 432.48L258.35 431.63L259.84 430.89L261.33 430.32L262.82 430.01L264.31 429.95L265.8 430.05L267.29 430.18L268.78 430.23L270.27 430.21L271.76 430.13L273.24 430.01L274.73 429.84L276.22 429.7L277.71 429.73L279.2 430.04L280.69 430.66L282.18 431.54L283.67 432.51L285.16 433.38L286.65 434.06L288.14 434.43L289.63 434.35L291.12 433.75L292.61 432.68L294.1 431.29L295.59 429.78L297.07 428.27L298.56 426.88L300.05 425.71L301.54 424.81L303.03 424.13L304.52 423.56L306.01 423.01L307.5 422.36"/>
<path d="M55.8 454.63L57.29 453.76L58.78 453.29L60.27 452.96L61.76 452.37L63.25 451.06L64.74 448.66L66.23 445.04L67.71 440.62L69.2 435.98L70.69 431.61L72.18 428.07L73.67 425.86L75.16 425.15L76.65 425.86L78.14 427.57L79.63 429.83L81.12 432.34L82.61 434.92L84.1 437.38L85.59 439.36L87.08 440.58L88.57 441.21L90.06 441.67L91.54 442.29L93.03 443.28L94.52 444.67L96.01 446.4L97.5 448.23L98.99 449.89L100.48 451.17L101.97 451.89L103.46 451.86L104.95 450.89L106.44 448.97L107.93 446.27L109.42 442.94L110.91 439.02L112.4 434.45L113.88 429.2L115.37 423.34L116.86 417.18L118.35 410.96L119.84 404.7L121.33 398.58L122.82 393.1L124.31 388.77L125.8 385.94L127.29 384.86L128.78 385.75L130.27 388.69L131.76 393.6L133.25 400.19L134.74 407.97L136.22 416.33L137.71 424.6L139.2 432.12L140.69 438.42L142.18 443.31L143.67 446.81L145.16 449.15L146.65 450.62L148.14 451.33L149.63 451.23L151.12 450.43L152.61 448.85L154.1 446.31L155.59 442.84L157.08 438.52L158.57 433.5L160.05 428.05L161.54 422.64L163.03 417.82L164.52 413.92L166.01 411.07L167.5 409.24L168.99 408.36L170.48 408.21L171.97 408.43L173.46 408.66L174.95 408.72L176.44 408.57L177.93 408.25L179.42 407.96L180.91 408.06L182.39 408.99L183.88 410.84L185.37 413.29L186.86 415.96L188.35 418.64L189.84 421.06L191.33 423.01L192.82 424.38L194.31 425.12L195.8 425.31L197.29 425.16L198.78 424.87L200.27 424.65L201.76 424.67L203.25 424.97L204.73 425.44L206.22 425.87L207.71 426.11L209.2 426.05L210.69 425.61L212.18 424.71L213.67 423.44L215.16 421.96L216.65 420.52L218.14 419.35L219.63 418.66L221.12 418.54L222.61 419L224.1 420L225.59 421.48L227.08 423.18L228.56 424.76L230.05 426.01L231.54 426.81L233.03 427.3L234.52 427.7L236.01 428.24L237.5 429.09L238.99 430.31L240.48 431.81L241.97 433.45L243.46 435.04L244.95 436.33L246.44 437.14L247.93 437.42L249.42 437.22L250.9 436.68L252.39 435.99L253.88 435.38L255.37 435.04L256.86 435.07L258.35 435.49L259.84 436.16L261.33 436.89L262.82 437.42L264.31 437.57L265.8 437.28L267.29 436.6L268.78 435.66L270.27 434.69L271.76 433.97L273.24 433.8L274.73 434.33L276.22 435.48L277.71 437.06L279.2 438.83L280.69 440.54L282.18 441.96L283.67 442.95L285.16 443.41L286.65 443.36L288.14 442.98L289.63 442.56L291.12 442.28L292.61 442.23L294.1 442.37L295.59 442.63L297.07 442.87L298.56 442.88L300.05 442.42L301.54 441.38L303.03 439.78L304.52 437.78L306.01 435.58L307.5 433.44"/>
<path d="M55.8 442.66L57.29 442.51L58.78 442.18L60.27 441.46L61.76 440.17L63.25 438.16L64.74 435.4L66.23 432.14L67.71 428.85L69.2 425.87L70.69 423.46L72.18 421.91L73.67 421.32L75.16 421.59L76.65 422.51L78.14 423.75L79.63 425.18L81.12 426.81L82.61 428.68L84.1 430.63L85.59 432.39L87.08 433.83L88.57 435.06L90.06 436.23L91.54 437.38L93.03 438.5L94.52 439.56L96.01 440.52L97.5 441.33L98.99 441.99L100.48 442.52L101.97 442.88L103.46 442.92L104.95 442.47L106.44 441.44L107.93 439.79L109.42 437.37L110.91 434.05L112.4 429.76L113.88 424.57L115.37 418.79L116.86 412.93L118.35 407.26L119.84 401.94L121.33 397.34L122.82 393.86L124.31 391.7L125.8 390.86L127.29 391.39L128.78 393.28L130.27 396.48L131.76 400.87L133.25 406.27L134.74 412.4L136.22 418.9L137.71 425.34L139.2 431.26L140.69 436.36L142.18 440.44L143.67 443.42L145.16 445.37L146.65 446.3L148.14 446.17L149.63 445.08L151.12 443.19L152.61 440.56L154.1 437.34L155.59 433.75L157.08 429.92L158.57 425.98L160.05 422.09L161.54 418.53L163.03 415.46L164.52 412.9L166.01 410.81L167.5 409.17L168.99 407.99L170.48 407.22L171.97 406.73L173.46 406.47L174.95 406.43L176.44 406.58L177.93 406.92L179.42 407.49L180.91 408.47L182.39 409.98L183.88 411.77L185.37 413.53L186.86 415.15L188.35 416.62L189.84 417.93L191.33 419.1L192.82 420.14L194.31 421.04L195.8 421.8L197.29 422.43L198.78 422.89L200.27 423.18L201.76 423.32L203.25 423.27L204.73 423.01L206.22 422.57L207.71 422.06L209.2 421.56L210.69 421.11L212.18 420.7L213.67 420.34L215.16 420.02L216.65 419.74L218.14 419.5L219.63 419.33L221.12 419.25L222.61 419.33L224.1 419.71L225.59 420.44L227.08 421.44L228.56 422.58L230.05 423.74L231.54 424.84L233.03 425.89L234.52 426.9L236.01 427.85L237.5 428.74L238.99 429.53L240.48 430.21L241.97 430.81L243.46 431.33L244.95 431.76L246.44 432.11L247.93 432.41L249.42 432.65L250.9 432.81L252.39 432.86L253.88 432.81L255.37 432.64L256.86 432.39L258.35 432.1L259.84 431.77L261.33 431.43L262.82 431.06L264.31 430.72L265.8 430.45L267.29 430.25L268.78 430.12L270.27 430.08L271.76 430.2L273.24 430.51L274.73 431.01L276.22 431.62L277.71 432.29L279.2 433.02L280.69 433.79L282.18 434.57L283.67 435.33L285.16 435.97L286.65 436.43L288.14 436.76L289.63 436.96L291.12 437.02L292.61 436.89L294.1 436.58L295.59 436.15L297.07 435.63L298.56 435.03L300.05 434.32L301.54 433.52L303.03 432.68L304.52 431.79L306.01 430.85L307.5 429.87"/>
<path d="M55.8 457.36L57.29 455.96L58.78 454.25L60.27 451.84L61.76 448.5L63.25 444.16L64.74 439.14L66.23 434.03L67.71 429.29L69.2 425.3L70.69 422.44L72.18 420.89L73.67 420.49L75.16 420.97L76.65 421.92L78.14 423.13L79.63 424.62L81.12 426.39L82.61 428.23L84.1 429.8L85.59 430.99L87.08 431.99L88.57 433.05L90.06 434.21L91.54 435.46L93.03 436.77L94.52 438.03L96.01 439.13L97.5 440.03L98.99 440.74L100.48 441.17L101.97 441.14L103.46 440.48L104.95 439.14L106.44 437.1L107.93 434.24L109.42 430.39L110.91 425.47L112.4 419.57L113.88 413.09L115.37 406.56L116.86 400.26L118.35 394.37L119.84 389.36L121.33 385.72L122.82 383.68L124.31 383.25L125.8 384.52L127.29 387.46L128.78 391.97L130.27 397.89L131.76 404.89L133.25 412.62L134.74 420.59L136.22 428.26L137.71 435.11L139.2 440.85L140.69 445.3L142.18 448.41L143.67 450.35L145.16 451.1L146.65 450.58L148.14 448.93L149.63 446.29L151.12 442.66L152.61 438.23L154.1 433.28L155.59 427.97L157.08 422.49L158.57 417.13L160.05 412.28L161.54 408.11L163.03 404.67L164.52 401.9L166.01 399.76L167.5 398.23L168.99 397.18L170.48 396.43L171.97 395.93L173.46 395.7L174.95 395.74L176.44 396.05L177.93 396.77L179.42 398.13L180.91 400.23L182.39 402.68L183.88 405.11L185.37 407.4L186.86 409.48L188.35 411.33L189.84 412.97L191.33 414.44L192.82 415.77L194.31 417.01L195.8 418.18L197.29 419.27L198.78 420.24L200.27 421.1L201.76 421.74L203.25 422.08L204.73 422.11L206.22 421.92L207.71 421.63L209.2 421.26L210.69 420.84L212.18 420.43L213.67 420.06L215.16 419.76L216.65 419.53L218.14 419.38L219.63 419.33L221.12 419.42L222.61 419.81L224.1 420.53L225.59 421.47L227.08 422.49L228.56 423.47L230.05 424.39L231.54 425.27L233.03 426.14L234.52 426.98L236.01 427.75L237.5 428.37L238.99 428.81L240.48 429.05L241.97 429.1L243.46 428.97L244.95 428.73L246.44 428.45L247.93 428.18L249.42 427.94L250.9 427.73L252.39 427.52L253.88 427.32L255.37 427.09L256.86 426.84L258.35 426.55L259.84 426.19L261.33 425.79L262.82 425.41L264.31 425.13L265.8 425.02L267.29 425.09L268.78 425.38L270.27 425.97L271.76 426.89L273.24 428.08L274.73 429.4L276.22 430.76L277.71 432.15L279.2 433.54L280.69 434.93L282.18 436.3L283.67 437.55L285.16 438.64L286.65 439.6L288.14 440.44L289.63 441.06L291.12 441.38L292.61 441.34L294.1 441L295.59 440.38L297.07 439.5L298.56 438.38L300.05 437.09L301.54 435.73L303.03 434.35L304.52 432.96L306.01 431.6L307.5 430.25"/>
<path d="M55.8 452.93L57.29 452.14L58.78 450.82L60.27 448.57L61.76 445.13L63.25 440.57L64.74 435.35L66.23 430.19L67.71 425.58L69.2 421.93L70.69 419.62L72.18 418.74L73.67 419.11L75.16 420.35L76.65 422.05L78.14 424.1L79.63 426.51L81.12 429.22L82.61 431.85L84.1 434L85.59 435.65L87.08 436.99L88.57 438.16L90.06 439.19L91.54 440.09L93.03 440.9L94.52 441.6L96.01 442.17L97.5 442.72L98.99 443.27L100.48 443.7L101.97 443.77L103.46 443.24L104.95 442.05L106.44 440.04L107.93 436.92L109.42 432.56L110.91 426.84L112.4 420.01L113.88 412.59L115.37 405.17L116.86 397.92L118.35 391.19L119.84 385.58L121.33 381.54L122.82 379.23L124.31 378.68L125.8 379.97L127.29 383.03L128.78 387.8L130.27 394.07L131.76 401.54L133.25 409.8L134.74 418.35L136.22 426.6L137.71 434.01L139.2 440.23L140.69 445.05L142.18 448.47L143.67 450.58L145.16 451.43L146.65 450.95L148.14 449.3L149.63 446.64L151.12 443.06L152.61 438.67L154.1 433.72L155.59 428.4L157.08 422.8L158.57 417.24L160.05 412.05L161.54 407.49L163.03 403.58L164.52 400.35L166.01 397.87L167.5 396.14L168.99 395.14L170.48 394.7L171.97 394.77L173.46 395.32L174.95 396.27L176.44 397.54L177.93 399.2L179.42 401.4L180.91 404.1L182.39 406.87L183.88 409.3L185.37 411.3L186.86 412.9L188.35 414.17L189.84 415.2L191.33 416.07L192.82 416.86L194.31 417.6L195.8 418.32L197.29 418.98L198.78 419.57L200.27 420.05L201.76 420.31L203.25 420.27L204.73 419.97L206.22 419.51L207.71 418.94L209.2 418.25L210.69 417.48L212.18 416.67L213.67 415.87L215.16 415.14L216.65 414.58L218.14 414.25L219.63 414.23L221.12 414.65L222.61 415.69L224.1 417.26L225.59 419.14L227.08 421.13L228.56 423.01L230.05 424.71L231.54 426.18L233.03 427.43L234.52 428.45L236.01 429.24L237.5 429.81L238.99 430.23L240.48 430.59L241.97 430.92L243.46 431.28L244.95 431.7L246.44 432.2L247.93 432.74L249.42 433.23L250.9 433.61L252.39 433.8L253.88 433.77L255.37 433.51L256.86 433.05L258.35 432.41L259.84 431.61L261.33 430.72L262.82 429.85L264.31 429.12L265.8 428.57L267.29 428.25L268.78 428.23L270.27 428.59L271.76 429.38L273.24 430.52L274.73 431.85L276.22 433.25L277.71 434.67L279.2 436.05L280.69 437.32L282.18 438.38L283.67 439.13L285.16 439.55L286.65 439.71L288.14 439.7L289.63 439.51L291.12 439.13L292.61 438.62L294.1 438.05L295.59 437.46L297.07 436.78L298.56 435.98L300.05 435.03L301.54 433.95L303.03 432.7L304.52 431.27L306.01 429.71L307.5 428.06"/>
<path d="M55.8 445.78L57.29 445.64L58.78 445.43L60.27 445.01L61.76 444.2L63.25 442.8L64.74 440.67L66.23 437.81L67.71 434.55L69.2 431.33L70.69 428.45L72.18 426.21L73.67 424.85L75.16 424.44L76.65 424.85L78.14 425.83L79.63 427.08L81.12 428.52L82.61 430.18L84.1 432.07L85.59 433.99L87.08 435.67L88.57 437.03L90.06 438.22L91.54 439.34L93.03 440.41L94.52 441.42L96.01 442.34L97.5 443.13L98.99 443.73L100.48 444.15L101.97 444.44L103.46 444.52L104.95 444.25L106.44 443.48L107.93 442.14L109.42 440.2L110.91 437.52L112.4 433.98L113.88 429.53L115.37 424.29L116.86 418.6L118.35 412.91L119.84 407.46L121.33 402.4L122.82 398.1L124.31 394.91L125.8 392.98L127.29 392.31L128.78 392.93L130.27 394.83L131.76 397.95L133.25 402.19L134.74 407.35L136.22 413.16L137.71 419.29L139.2 425.3L140.69 430.81L142.18 435.52L143.67 439.28L145.16 442.01L146.65 443.8L148.14 444.66L149.63 444.51L151.12 443.48L152.61 441.73L154.1 439.28L155.59 436.28L157.08 432.95L158.57 429.41L160.05 425.76L161.54 422.21L163.03 418.99L164.52 416.25L166.01 413.99L167.5 412.17L168.99 410.8L170.48 409.88L171.97 409.32L173.46 409.02L174.95 408.94L176.44 409.06L177.93 409.37L179.42 409.84L180.91 410.56L182.39 411.7L183.88 413.31L185.37 415.12L186.86 416.84L188.35 418.41L189.84 419.8L191.33 421.03L192.82 422.1L194.31 423.03L195.8 423.81L197.29 424.46L198.78 424.97L200.27 425.3L201.76 425.47L203.25 425.47L204.73 425.29L206.22 424.88L207.71 424.3L209.2 423.66L210.69 423.04L212.18 422.45L213.67 421.88L215.16 421.35L216.65 420.85L218.14 420.39L219.63 419.97L221.12 419.62L222.61 419.37L224.1 419.32L225.59 419.61L227.08 420.25L228.56 421.16L230.05 422.2L231.54 423.25L233.03 424.27L234.52 425.25L236.01 426.19L237.5 427.09L238.99 427.93L240.48 428.67L241.97 429.32L243.46 429.88L244.95 430.36L246.44 430.76L247.93 431.1L249.42 431.4L250.9 431.65L252.39 431.84L253.88 431.95L255.37 431.98L256.86 431.95L258.35 431.86L259.84 431.76L261.33 431.65L262.82 431.54L264.31 431.42L265.8 431.32L267.29 431.29L268.78 431.31L270.27 431.38L271.76 431.52L273.24 431.79L274.73 432.23L276.22 432.82L277.71 433.5L279.2 434.23L280.69 435L282.18 435.82L283.67 436.65L285.16 437.46L286.65 438.15L288.14 438.68L289.63 439.07L291.12 439.35L292.61 439.45L294.1 439.36L295.59 439.07L297.07 438.63L298.56 438.08L300.05 437.39L301.54 436.57L303.03 435.64L304.52 434.64L306.01 433.58L307.5 432.47"/>
</g>
<path d="M55.8 437.06L56.85 437L57.91 436.84L58.96 436.54L60.01 436.01L61.07 435.14L62.12 433.86L63.17 432.14L64.23 429.94L65.28 427.3L66.33 424.46L67.38 421.7L68.44 419.14L69.49 416.79L70.54 414.8L71.6 413.38L72.65 412.54L73.7 412.24L74.76 412.47L75.81 413.14L76.86 414.06L77.92 415.11L78.97 416.23L80.02 417.46L81.08 418.84L82.13 420.4L83.18 422.1L84.23 423.81L85.29 425.33L86.34 426.62L87.39 427.75L88.45 428.8L89.5 429.85L90.55 430.91L91.61 431.96L92.66 432.98L93.71 433.97L94.77 434.92L95.82 435.79L96.87 436.55L97.93 437.18L98.98 437.72L100.03 438.18L101.08 438.56L102.14 438.82L103.19 438.86L104.24 438.58L105.3 437.95L106.35 436.97L107.4 435.65L108.46 433.91L109.51 431.69L110.56 428.92L111.62 425.58L112.67 421.64L113.72 417.18L114.78 412.34L115.83 407.4L116.88 402.57L117.94 397.89L118.99 393.36L120.04 389.07L121.09 385.27L122.15 382.17L123.2 379.86L124.25 378.34L125.31 377.58L126.36 377.59L127.41 378.44L128.47 380.08L129.52 382.46L130.57 385.61L131.63 389.44L132.68 393.87L133.73 398.8L134.79 404.08L135.84 409.58L136.89 415.11L137.94 420.44L139 425.4L140.05 429.87L141.1 433.77L142.16 437.04L143.21 439.62L144.26 441.57L145.32 442.99L146.37 443.83L147.42 444L148.48 443.52L149.53 442.5L150.58 441.06L151.64 439.16L152.69 436.8L153.74 434.08L154.79 431.13L155.85 428.01L156.9 424.75L157.95 421.41L159.01 418.02L160.06 414.72L161.11 411.64L162.17 408.89L163.22 406.45L164.27 404.31L165.33 402.47L166.38 400.89L167.43 399.59L168.49 398.6L169.54 397.91L170.59 397.42L171.65 397.08L172.7 396.88L173.75 396.82L174.8 396.89L175.86 397.08L176.91 397.38L177.96 397.76L179.02 398.26L180.07 398.95L181.12 399.97L182.18 401.36L183.23 402.92L184.28 404.47L185.34 405.9L186.39 407.24L187.44 408.49L188.5 409.64L189.55 410.68L190.6 411.65L191.65 412.54L192.71 413.36L193.76 414.11L194.81 414.79L195.87 415.41L196.92 415.97L197.97 416.44L199.03 416.81L200.08 417.09L201.13 417.3L202.19 417.42L203.24 417.43L204.29 417.29L205.35 417.02L206.4 416.65L207.45 416.25L208.51 415.86L209.56 415.5L210.61 415.14L211.66 414.79L212.72 414.45L213.77 414.14L214.82 413.84L215.88 413.55L216.93 413.28L217.98 413.04L219.04 412.84L220.09 412.69L221.14 412.61L222.2 412.61L223.25 412.79L224.3 413.24L225.36 413.93L226.41 414.79L227.46 415.78L228.51 416.83L229.57 417.88L230.62 418.89L231.67 419.87L232.73 420.81L233.78 421.72L234.83 422.59L235.89 423.42L236.94 424.21L237.99 424.93L239.05 425.56L240.1 426.12L241.15 426.62L242.21 427.06L243.26 427.44L244.31 427.76L245.36 428.03L246.42 428.26L247.47 428.48L248.52 428.66L249.58 428.82L250.63 428.94L251.68 429.01L252.74 429.03L253.79 428.99L254.84 428.9L255.9 428.77L256.95 428.6L258 428.42L259.06 428.23L260.11 428.02L261.16 427.79L262.22 427.54L263.27 427.28L264.32 427.04L265.37 426.83L266.43 426.66L267.48 426.52L268.53 426.39L269.59 426.3L270.64 426.27L271.69 426.34L272.75 426.54L273.8 426.88L274.85 427.31L275.91 427.79L276.96 428.3L278.01 428.87L279.07 429.49L280.12 430.13L281.17 430.81L282.22 431.51L283.28 432.22L284.33 432.87L285.38 433.42L286.44 433.85L287.49 434.2L288.54 434.5L289.6 434.71L290.65 434.83L291.7 434.83L292.76 434.69L293.81 434.43L294.86 434.07L295.92 433.66L296.97 433.2L298.02 432.67L299.07 432.07L300.13 431.39L301.18 430.66L302.23 429.91L303.29 429.14L304.34 428.35L305.39 427.54L306.45 426.8L307.5 426.24L307.5 430.52L306.45 431.08L305.39 431.85L304.34 432.67L303.29 433.47L302.23 434.26L301.18 435.03L300.13 435.77L299.07 436.46L298.02 437.09L296.97 437.63L295.92 438.11L294.86 438.54L293.81 438.91L292.76 439.19L291.7 439.34L290.65 439.36L289.6 439.26L288.54 439.06L287.49 438.79L286.44 438.45L285.38 438.04L284.33 437.51L283.28 436.88L282.22 436.19L281.17 435.5L280.12 434.84L279.07 434.22L278.01 433.62L276.96 433.07L275.91 432.57L274.85 432.11L273.8 431.7L272.75 431.39L271.69 431.2L270.64 431.15L269.59 431.2L268.53 431.31L267.48 431.46L266.43 431.62L265.37 431.81L264.32 432.04L263.27 432.3L262.22 432.58L261.16 432.85L260.11 433.1L259.06 433.33L258 433.54L256.95 433.75L255.9 433.94L254.84 434.09L253.79 434.21L252.74 434.27L251.68 434.27L250.63 434.22L249.58 434.12L248.52 433.98L247.47 433.82L246.42 433.63L245.36 433.42L244.31 433.17L243.26 432.88L242.21 432.52L241.15 432.1L240.1 431.63L239.05 431.09L237.99 430.48L236.94 429.79L235.89 429.02L234.83 428.21L233.78 427.37L232.73 426.48L231.67 425.57L230.62 424.62L229.57 423.63L228.51 422.61L227.46 421.58L226.41 420.62L225.36 419.78L224.3 419.12L223.25 418.7L222.2 418.54L221.14 418.56L220.09 418.68L219.04 418.85L217.98 419.08L216.93 419.34L215.88 419.64L214.82 419.96L213.77 420.29L212.72 420.63L211.66 421L210.61 421.37L209.56 421.76L208.51 422.16L207.45 422.57L206.4 423L205.35 423.4L204.29 423.7L203.24 423.87L202.19 423.89L201.13 423.8L200.08 423.62L199.03 423.37L197.97 423.03L196.92 422.59L195.87 422.06L194.81 421.47L193.76 420.82L192.71 420.11L191.65 419.32L190.6 418.46L189.55 417.53L188.5 416.51L187.44 415.4L186.39 414.19L185.34 412.88L184.28 411.48L183.23 409.97L182.18 408.44L181.12 407.09L180.07 406.1L179.02 405.44L177.96 404.98L176.91 404.63L175.86 404.37L174.8 404.22L173.75 404.18L172.7 404.28L171.65 404.52L170.59 404.89L169.54 405.42L168.49 406.15L167.43 407.17L166.38 408.51L165.33 410.13L164.27 412.01L163.22 414.18L162.17 416.66L161.11 419.46L160.06 422.57L159.01 425.91L157.95 429.34L156.9 432.73L155.85 436.02L154.79 439.18L153.74 442.17L152.69 444.94L151.64 447.34L150.58 449.27L149.53 450.76L148.48 451.82L147.42 452.35L146.37 452.22L145.32 451.42L144.26 450.05L143.21 448.13L142.16 445.6L141.1 442.38L140.05 438.52L139 434.09L137.94 429.18L136.89 423.89L135.84 418.41L134.79 412.96L133.73 407.72L132.68 402.84L131.63 398.46L130.57 394.67L129.52 391.57L128.47 389.24L127.41 387.65L126.36 386.85L125.31 386.88L124.25 387.7L123.2 389.27L122.15 391.63L121.09 394.77L120.04 398.62L118.99 402.97L117.94 407.55L116.88 412.28L115.83 417.16L114.78 422.15L113.72 427.05L112.67 431.56L111.62 435.55L110.56 438.95L109.51 441.77L108.46 444.05L107.4 445.84L106.35 447.21L105.3 448.25L104.24 448.94L103.19 449.27L102.14 449.29L101.08 449.09L100.03 448.77L98.98 448.36L97.93 447.88L96.87 447.31L95.82 446.61L94.77 445.79L93.71 444.91L92.66 443.98L91.61 443.02L90.55 442.03L89.5 441.03L88.45 440.04L87.39 439.05L86.34 437.99L85.29 436.77L84.23 435.3L83.18 433.66L82.13 432.02L81.08 430.52L80.02 429.21L78.97 428.05L77.92 426.99L76.86 426.02L75.81 425.16L74.76 424.56L73.7 424.4L72.65 424.76L71.6 425.67L70.54 427.16L69.49 429.22L68.44 431.64L67.38 434.28L66.33 437.1L65.28 440.01L64.23 442.73L63.17 445L62.12 446.79L61.07 448.14L60.01 449.1L58.96 449.7L57.91 450.07L56.85 450.31L55.8 450.44Z" fill="#4c7cb2" fill-opacity="0.38" stroke="none"/>
<path d="M55.8 443.8L56.64 443.69L57.48 443.55L58.33 443.34L59.17 443.03L60.01 442.56L60.85 441.86L61.69 440.91L62.53 439.69L63.38 438.18L64.22 436.36L65.06 434.24L65.9 431.95L66.74 429.66L67.59 427.48L68.43 425.42L69.27 423.48L70.11 421.76L70.95 420.35L71.79 419.32L72.64 418.66L73.48 418.35L74.32 418.38L75.16 418.72L76 419.3L76.85 420.03L77.69 420.83L78.53 421.67L79.37 422.58L80.21 423.57L81.05 424.65L81.9 425.85L82.74 427.17L83.58 428.53L84.42 429.84L85.26 431.02L86.11 432.04L86.95 432.95L87.79 433.78L88.63 434.6L89.47 435.41L90.31 436.24L91.16 437.06L92 437.86L92.84 438.65L93.68 439.41L94.52 440.15L95.36 440.85L96.21 441.48L97.05 442.04L97.89 442.51L98.73 442.93L99.57 443.29L100.42 443.61L101.26 443.87L102.1 444.05L102.94 444.08L103.78 443.94L104.62 443.56L105.47 442.96L106.31 442.14L107.15 441.1L107.99 439.81L108.83 438.23L109.68 436.33L110.52 434.07L111.36 431.44L112.2 428.43L113.04 425.07L113.88 421.38L114.73 417.48L115.57 413.5L116.41 409.58L117.25 405.76L118.09 402.03L118.94 398.39L119.78 394.9L120.62 391.68L121.46 388.86L122.3 386.51L123.14 384.67L123.99 383.34L124.83 382.5L125.67 382.14L126.51 382.29L127.35 382.97L128.2 384.17L129.04 385.84L129.88 388L130.72 390.63L131.56 393.7L132.4 397.16L133.25 400.95L134.09 405.01L134.93 409.27L135.77 413.65L136.61 418.06L137.46 422.38L138.3 426.51L139.14 430.37L139.98 433.91L140.82 437.09L141.66 439.88L142.51 442.24L143.35 444.16L144.19 445.69L145.03 446.88L145.87 447.72L146.72 448.15L147.56 448.14L148.4 447.73L149.24 446.96L150.08 445.92L150.92 444.6L151.77 442.98L152.61 441.07L153.45 438.91L154.29 436.59L155.13 434.16L155.97 431.63L156.82 429.01L157.66 426.32L158.5 423.61L159.34 420.9L160.18 418.27L161.03 415.8L161.87 413.53L162.71 411.47L163.55 409.61L164.39 407.94L165.23 406.45L166.08 405.14L166.92 403.99L167.76 403.03L168.6 402.28L169.44 401.72L170.29 401.29L171.13 400.96L171.97 400.72L172.81 400.56L173.65 400.5L174.49 400.52L175.34 400.63L176.18 400.8L177.02 401.04L177.86 401.33L178.7 401.69L179.55 402.15L180.39 402.78L181.23 403.65L182.07 404.75L182.91 405.98L183.75 407.22L184.6 408.41L185.44 409.52L186.28 410.58L187.12 411.58L187.96 412.52L188.81 413.39L189.65 414.2L190.49 414.96L191.33 415.67L192.17 416.34L193.01 416.95L193.86 417.53L194.7 418.06L195.54 418.55L196.38 419.01L197.22 419.42L198.07 419.77L198.91 420.06L199.75 420.28L200.59 420.46L201.43 420.59L202.27 420.66L203.12 420.66L203.96 420.56L204.8 420.37L205.64 420.11L206.48 419.8L207.33 419.46L208.17 419.14L209.01 418.82L209.85 418.52L210.69 418.23L211.53 417.94L212.38 417.66L213.22 417.38L214.06 417.12L214.9 416.87L215.74 416.63L216.58 416.4L217.43 416.19L218.27 415.99L219.11 415.83L219.95 415.7L220.79 415.61L221.64 415.56L222.48 415.6L223.32 415.77L224.16 416.1L225 416.6L225.84 417.23L226.69 417.95L227.53 418.74L228.37 419.57L229.21 420.41L230.05 421.22L230.9 422.01L231.74 422.77L232.58 423.52L233.42 424.24L234.26 424.94L235.1 425.62L235.95 426.27L236.79 426.89L237.63 427.47L238.47 428L239.31 428.47L240.16 428.9L241 429.29L241.84 429.65L242.68 429.97L243.52 430.24L244.36 430.48L245.21 430.69L246.05 430.87L246.89 431.04L247.73 431.19L248.57 431.33L249.42 431.45L250.26 431.55L251.1 431.61L251.94 431.65L252.78 431.65L253.62 431.61L254.47 431.54L255.31 431.44L256.15 431.31L256.99 431.17L257.83 431.01L258.68 430.85L259.52 430.69L260.36 430.51L261.2 430.31L262.04 430.11L262.88 429.89L263.73 429.68L264.57 429.48L265.41 429.31L266.25 429.17L267.09 429.04L267.94 428.93L268.78 428.83L269.62 428.75L270.46 428.72L271.3 428.74L272.14 428.84L272.99 429.03L273.83 429.3L274.67 429.63L275.51 430L276.35 430.39L277.19 430.81L278.04 431.26L278.88 431.74L279.72 432.25L280.56 432.77L281.4 433.31L282.25 433.86L283.09 434.43L283.93 434.96L284.77 435.43L285.61 435.83L286.45 436.16L287.3 436.44L288.14 436.68L288.98 436.88L289.82 437.02L290.66 437.1L291.51 437.1L292.35 437.01L293.19 436.84L294.03 436.6L294.87 436.3L295.71 435.97L296.56 435.6L297.4 435.2L298.24 434.76L299.08 434.26L299.92 433.72L300.77 433.14L301.61 432.54L302.45 431.93L303.29 431.3L304.13 430.67L304.97 430.02L305.82 429.35L306.66 428.69L307.5 428.02" fill="none" stroke="#2a5b96" stroke-width="2.15" stroke-linejoin="round"/>
<line x1="171.16" x2="171.16" y1="330.6" y2="514" stroke="#111" stroke-width="1.7" stroke-dasharray="9.9 9.4"/>
<rect x="55.8" y="523.7" width="250.9" height="9.8" fill="#000"/>
<rect x="76.77" y="523.7" width="20.98" height="9.8" fill="#1400fa"/>
<rect x="129.21" y="523.7" width="20.98" height="9.8" fill="#1400fa"/>
<rect x="150.19" y="523.7" width="156.51" height="9.8" fill="#101010"/>
<line x1="76.77" x2="76.77" y1="523.7" y2="533.5" stroke="#9a9ab0" stroke-width="0.7"/>
<line x1="97.75" x2="97.75" y1="523.7" y2="533.5" stroke="#9a9ab0" stroke-width="0.7"/>
<line x1="129.21" x2="129.21" y1="523.7" y2="533.5" stroke="#9a9ab0" stroke-width="0.7"/>
<line x1="150.19" x2="150.19" y1="523.7" y2="533.5" stroke="#9a9ab0" stroke-width="0.7"/>
<line x1="171.16" x2="171.16" y1="523.7" y2="533.5" stroke="#666" stroke-width="0.7"/>
<line x1="192.14" x2="192.14" y1="523.7" y2="533.5" stroke="#666" stroke-width="0.7"/>
<line x1="213.11" x2="213.11" y1="523.7" y2="533.5" stroke="#666" stroke-width="0.7"/>
<line x1="234.09" x2="234.09" y1="523.7" y2="533.5" stroke="#666" stroke-width="0.7"/>
<line x1="255.06" x2="255.06" y1="523.7" y2="533.5" stroke="#666" stroke-width="0.7"/>
<line x1="276.04" x2="276.04" y1="523.7" y2="533.5" stroke="#666" stroke-width="0.7"/>
<line x1="297.01" x2="297.01" y1="523.7" y2="533.5" stroke="#666" stroke-width="0.7"/>
<text x="48.9" y="330.01" font-family="'Liberation Serif', serif" font-size="9.6" letter-spacing="0.5" fill="#424242" text-anchor="end">0.10</text>
<text x="48.9" y="379.21" font-family="'Liberation Serif', serif" font-size="9.6" letter-spacing="0.5" fill="#424242" text-anchor="end">0.05</text>
<text x="48.9" y="428.41" font-family="'Liberation Serif', serif" font-size="9.6" letter-spacing="0.5" fill="#424242" text-anchor="end">0.00</text>
<text x="48.9" y="477.61" font-family="'Liberation Serif', serif" font-size="9.6" letter-spacing="0.5" fill="#424242" text-anchor="end">-0.05</text>
<text x="48.9" y="526.81" font-family="'Liberation Serif', serif" font-size="9.6" letter-spacing="0.5" fill="#424242" text-anchor="end">-0.10</text>
<text x="56.35" y="546.3" font-family="'Liberation Serif', serif" font-size="9.6" letter-spacing="0.5" fill="#424242" text-anchor="middle">60</text>
<text x="77.32" y="546.3" font-family="'Liberation Serif', serif" font-size="9.6" letter-spacing="0.5" fill="#424242" text-anchor="middle">72</text>
<text x="98.3" y="546.3" font-family="'Liberation Serif', serif" font-size="9.6" letter-spacing="0.5" fill="#424242" text-anchor="middle">84</text>
<text x="119.27" y="546.3" font-family="'Liberation Serif', serif" font-size="9.6" letter-spacing="0.5" fill="#424242" text-anchor="middle">96</text>
<text x="140.25" y="546.3" font-family="'Liberation Serif', serif" font-size="9.6" letter-spacing="0.5" fill="#424242" text-anchor="middle">108</text>
<text x="161.23" y="546.3" font-family="'Liberation Serif', serif" font-size="9.6" letter-spacing="0.5" fill="#424242" text-anchor="middle">120</text>
<text x="182.2" y="546.3" font-family="'Liberation Serif', serif" font-size="9.6" letter-spacing="0.5" fill="#424242" text-anchor="middle">132</text>
<text x="203.18" y="546.3" font-family="'Liberation Serif', serif" font-size="9.6" letter-spacing="0.5" fill="#424242" text-anchor="middle">144</text>
<text x="224.15" y="546.3" font-family="'Liberation Serif', serif" font-size="9.6" letter-spacing="0.5" fill="#424242" text-anchor="middle">156</text>
<text x="245.12" y="546.3" font-family="'Liberation Serif', serif" font-size="9.6" letter-spacing="0.5" fill="#424242" text-anchor="middle">168</text>
<text x="266.1" y="546.3" font-family="'Liberation Serif', serif" font-size="9.6" letter-spacing="0.5" fill="#424242" text-anchor="middle">180</text>
<text x="287.07" y="546.3" font-family="'Liberation Serif', serif" font-size="9.6" letter-spacing="0.5" fill="#424242" text-anchor="middle">192</text>
<text x="308.05" y="546.3" font-family="'Liberation Serif', serif" font-size="9.6" letter-spacing="0.5" fill="#424242" text-anchor="middle">204</text>
<text x="182" y="559" font-family="'Liberation Serif', serif" font-size="12.8" fill="#222" text-anchor="middle">Time (h)</text>
<text transform="translate(22.3 429.1) rotate(-90)" font-family="'Liberation Serif', serif" font-size="13.35" fill="#222" text-anchor="middle">Detrended luminescence</text>
<line x1="118.3" x2="118.3" y1="331.5" y2="358.8" stroke="#222" stroke-width="1.1"/>
<path d="M112.8 356.4L123.8 356.4L118.3 366.8Z" fill="#222"/>
<circle cx="414.31" cy="90.57" r="2.0" fill="#5a4cf2" stroke="#14103f" stroke-width="0.65"/>
<circle cx="410.66" cy="92.61" r="2.0" fill="#5a4cf2" stroke="#14103f" stroke-width="0.65"/>
<circle cx="418.32" cy="93.7" r="2.0" fill="#5a4cf2" stroke="#14103f" stroke-width="0.65"/>
<circle cx="415.18" cy="94.58" r="2.0" fill="#5a4cf2" stroke="#14103f" stroke-width="0.65"/>
<circle cx="420.29" cy="96.62" r="2.0" fill="#5a4cf2" stroke="#14103f" stroke-width="0.65"/>
<circle cx="408.39" cy="97.64" r="2.0" fill="#5a4cf2" stroke="#14103f" stroke-width="0.65"/>
<circle cx="412.63" cy="96.04" r="2.0" fill="#5a4cf2" stroke="#14103f" stroke-width="0.65"/>
<circle cx="400.22" cy="100.05" r="2.0" fill="#5a4cf2" stroke="#14103f" stroke-width="0.65"/>
<circle cx="407.15" cy="100.78" r="2.0" fill="#5a4cf2" stroke="#14103f" stroke-width="0.65"/>
<circle cx="411.9" cy="100.56" r="2.0" fill="#5a4cf2" stroke="#14103f" stroke-width="0.65"/>
<circle cx="409.12" cy="102.46" r="2.0" fill="#5a4cf2" stroke="#14103f" stroke-width="0.65"/>
<circle cx="416.64" cy="101.51" r="2.0" fill="#5a4cf2" stroke="#14103f" stroke-width="0.65"/>
<circle cx="421.39" cy="102.6" r="2.0" fill="#5a4cf2" stroke="#14103f" stroke-width="0.65"/>
<circle cx="423.94" cy="100.41" r="2.0" fill="#5a4cf2" stroke="#14103f" stroke-width="0.65"/>
<circle cx="428.69" cy="101.73" r="2.0" fill="#5a4cf2" stroke="#14103f" stroke-width="0.65"/>
<circle cx="426.5" cy="100.27" r="2.0" fill="#5a4cf2" stroke="#14103f" stroke-width="0.65"/>
<circle cx="402.41" cy="104.79" r="2.0" fill="#5a4cf2" stroke="#14103f" stroke-width="0.65"/>
<circle cx="405.47" cy="104.43" r="2.0" fill="#5a4cf2" stroke="#14103f" stroke-width="0.65"/>
<circle cx="409.34" cy="104.94" r="2.0" fill="#5a4cf2" stroke="#14103f" stroke-width="0.65"/>
<circle cx="419.2" cy="104.94" r="2.0" fill="#5a4cf2" stroke="#14103f" stroke-width="0.65"/>
<circle cx="417.37" cy="103.92" r="2.0" fill="#5a4cf2" stroke="#14103f" stroke-width="0.65"/>
<circle cx="414.09" cy="103.33" r="2.0" fill="#5a4cf2" stroke="#14103f" stroke-width="0.65"/>
<circle cx="411.9" cy="106.25" r="2.0" fill="#5a4cf2" stroke="#14103f" stroke-width="0.65"/>
<circle cx="422.48" cy="105.88" r="2.0" fill="#5a4cf2" stroke="#14103f" stroke-width="0.65"/>
<circle cx="425.77" cy="106.25" r="2.0" fill="#5a4cf2" stroke="#14103f" stroke-width="0.65"/>
<circle cx="429.78" cy="106.98" r="2.0" fill="#5a4cf2" stroke="#14103f" stroke-width="0.65"/>
<circle cx="397.3" cy="108.29" r="2.0" fill="#5a4cf2" stroke="#14103f" stroke-width="0.65"/>
<circle cx="400.95" cy="108.58" r="2.0" fill="#5a4cf2" stroke="#14103f" stroke-width="0.65"/>
<circle cx="404.6" cy="109.9" r="2.0" fill="#5a4cf2" stroke="#14103f" stroke-width="0.65"/>
<circle cx="411.53" cy="109.9" r="2.0" fill="#5a4cf2" stroke="#14103f" stroke-width="0.65"/>
<circle cx="413.36" cy="112.08" r="2.0" fill="#5a4cf2" stroke="#14103f" stroke-width="0.65"/>
<circle cx="416.28" cy="111.94" r="2.0" fill="#5a4cf2" stroke="#14103f" stroke-width="0.65"/>
<circle cx="420.29" cy="111.72" r="2.0" fill="#5a4cf2" stroke="#14103f" stroke-width="0.65"/>
<circle cx="423.21" cy="109.9" r="2.0" fill="#5a4cf2" stroke="#14103f" stroke-width="0.65"/>
<circle cx="425.77" cy="108.29" r="2.0" fill="#5a4cf2" stroke="#14103f" stroke-width="0.65"/>
<circle cx="428.69" cy="110.26" r="2.0" fill="#5a4cf2" stroke="#14103f" stroke-width="0.65"/>
<circle cx="431.24" cy="109.9" r="2.0" fill="#5a4cf2" stroke="#14103f" stroke-width="0.65"/>
<circle cx="408.25" cy="109.17" r="2.0" fill="#5a4cf2" stroke="#14103f" stroke-width="0.65"/>
<circle cx="417.74" cy="108.44" r="2.0" fill="#5a4cf2" stroke="#14103f" stroke-width="0.65"/>
<circle cx="409.56" cy="117.19" r="2.0" fill="#5a4cf2" stroke="#14103f" stroke-width="0.65"/>
<circle cx="412.63" cy="117.19" r="2.0" fill="#5a4cf2" stroke="#14103f" stroke-width="0.65"/>
<circle cx="418.83" cy="116.46" r="2.0" fill="#5a4cf2" stroke="#14103f" stroke-width="0.65"/>
<circle cx="413.36" cy="120.62" r="2.0" fill="#5a4cf2" stroke="#14103f" stroke-width="0.65"/>
<circle cx="415.55" cy="120.84" r="2.0" fill="#5a4cf2" stroke="#14103f" stroke-width="0.65"/>
<circle cx="417.74" cy="123.61" r="2.0" fill="#5a4cf2" stroke="#14103f" stroke-width="0.65"/>
<circle cx="410.8" cy="119.38" r="2.0" fill="#5a4cf2" stroke="#14103f" stroke-width="0.65"/>
<circle cx="471.58" cy="169.53" r="2.0" fill="#adadad" stroke="#2a2a2a" stroke-width="0.65"/>
<circle cx="470.06" cy="178.25" r="2.0" fill="#adadad" stroke="#2a2a2a" stroke-width="0.65"/>
<circle cx="472.71" cy="179.01" r="2.0" fill="#adadad" stroke="#2a2a2a" stroke-width="0.65"/>
<circle cx="467.4" cy="181.29" r="2.0" fill="#adadad" stroke="#2a2a2a" stroke-width="0.65"/>
<circle cx="471.58" cy="182.42" r="2.0" fill="#adadad" stroke="#2a2a2a" stroke-width="0.65"/>
<circle cx="462.08" cy="183.18" r="2.0" fill="#adadad" stroke="#2a2a2a" stroke-width="0.65"/>
<circle cx="480.54" cy="182.42" r="2.0" fill="#adadad" stroke="#2a2a2a" stroke-width="0.65"/>
<circle cx="465.5" cy="186.22" r="2.0" fill="#adadad" stroke="#2a2a2a" stroke-width="0.65"/>
<circle cx="469.3" cy="186.6" r="2.0" fill="#adadad" stroke="#2a2a2a" stroke-width="0.65"/>
<circle cx="473.85" cy="186.22" r="2.0" fill="#adadad" stroke="#2a2a2a" stroke-width="0.65"/>
<circle cx="477.65" cy="186.6" r="2.0" fill="#adadad" stroke="#2a2a2a" stroke-width="0.65"/>
<circle cx="463.98" cy="188.87" r="2.0" fill="#adadad" stroke="#2a2a2a" stroke-width="0.65"/>
<circle cx="467.78" cy="188.49" r="2.0" fill="#adadad" stroke="#2a2a2a" stroke-width="0.65"/>
<circle cx="475.37" cy="188.87" r="2.0" fill="#adadad" stroke="#2a2a2a" stroke-width="0.65"/>
<circle cx="478.41" cy="188.49" r="2.0" fill="#adadad" stroke="#2a2a2a" stroke-width="0.65"/>
<circle cx="483.72" cy="188.87" r="2.0" fill="#adadad" stroke="#2a2a2a" stroke-width="0.65"/>
<circle cx="488.28" cy="188.87" r="2.0" fill="#adadad" stroke="#2a2a2a" stroke-width="0.65"/>
<circle cx="454.87" cy="193.05" r="2.0" fill="#adadad" stroke="#2a2a2a" stroke-width="0.65"/>
<circle cx="458.29" cy="192.67" r="2.0" fill="#adadad" stroke="#2a2a2a" stroke-width="0.65"/>
<circle cx="461.32" cy="193.43" r="2.0" fill="#adadad" stroke="#2a2a2a" stroke-width="0.65"/>
<circle cx="464.74" cy="193.05" r="2.0" fill="#adadad" stroke="#2a2a2a" stroke-width="0.65"/>
<circle cx="467.78" cy="193.43" r="2.0" fill="#adadad" stroke="#2a2a2a" stroke-width="0.65"/>
<circle cx="473.85" cy="192.67" r="2.0" fill="#adadad" stroke="#2a2a2a" stroke-width="0.65"/>
<circle cx="476.89" cy="193.43" r="2.0" fill="#adadad" stroke="#2a2a2a" stroke-width="0.65"/>
<circle cx="479.93" cy="193.05" r="2.0" fill="#adadad" stroke="#2a2a2a" stroke-width="0.65"/>
<circle cx="482.97" cy="193.43" r="2.0" fill="#adadad" stroke="#2a2a2a" stroke-width="0.65"/>
<circle cx="486" cy="192.67" r="2.0" fill="#adadad" stroke="#2a2a2a" stroke-width="0.65"/>
<circle cx="455.25" cy="196.46" r="2.0" fill="#adadad" stroke="#2a2a2a" stroke-width="0.65"/>
<circle cx="458.67" cy="195.7" r="2.0" fill="#adadad" stroke="#2a2a2a" stroke-width="0.65"/>
<circle cx="461.32" cy="197.22" r="2.0" fill="#adadad" stroke="#2a2a2a" stroke-width="0.65"/>
<circle cx="465.12" cy="195.7" r="2.0" fill="#adadad" stroke="#2a2a2a" stroke-width="0.65"/>
<circle cx="468.54" cy="196.46" r="2.0" fill="#adadad" stroke="#2a2a2a" stroke-width="0.65"/>
<circle cx="474.61" cy="195.7" r="2.0" fill="#adadad" stroke="#2a2a2a" stroke-width="0.65"/>
<circle cx="478.41" cy="196.08" r="2.0" fill="#adadad" stroke="#2a2a2a" stroke-width="0.65"/>
<circle cx="482.21" cy="197.22" r="2.0" fill="#adadad" stroke="#2a2a2a" stroke-width="0.65"/>
<circle cx="486" cy="195.7" r="2.0" fill="#adadad" stroke="#2a2a2a" stroke-width="0.65"/>
<circle cx="488.28" cy="199.5" r="2.0" fill="#adadad" stroke="#2a2a2a" stroke-width="0.65"/>
<circle cx="470.82" cy="193.43" r="2.0" fill="#adadad" stroke="#2a2a2a" stroke-width="0.65"/>
<circle cx="471.58" cy="196.08" r="2.0" fill="#adadad" stroke="#2a2a2a" stroke-width="0.65"/>
<line x1="395.5" x2="433.2" y1="106.24" y2="106.24" stroke="#0a0a0a" stroke-width="1.05"/>
<line x1="414.3" x2="414.3" y1="98.53" y2="114.12" stroke="#0a0a0a" stroke-width="1.05"/>
<line x1="405.1" x2="423.5" y1="98.53" y2="98.53" stroke="#0a0a0a" stroke-width="1.05"/>
<line x1="405.1" x2="423.5" y1="114.12" y2="114.12" stroke="#0a0a0a" stroke-width="1.05"/>
<line x1="452.8" x2="490.5" y1="190.39" y2="190.39" stroke="#0a0a0a" stroke-width="1.05"/>
<line x1="471.6" x2="471.6" y1="184.09" y2="196.42" stroke="#0a0a0a" stroke-width="1.05"/>
<line x1="462.4" x2="480.8" y1="184.09" y2="184.09" stroke="#0a0a0a" stroke-width="1.05"/>
<line x1="462.4" x2="480.8" y1="196.42" y2="196.42" stroke="#0a0a0a" stroke-width="1.05"/>
<path d="M376.3 81L376.3 215.7L511 215.7" fill="none" stroke="#1a1a1a" stroke-width="1.4"/>
<line x1="370.5" x2="376.3" y1="215.7" y2="215.7" stroke="#1a1a1a" stroke-width="1.4"/>
<text x="368.9" y="219.9" font-family="'Liberation Sans', sans-serif" font-weight="bold" fill="#1a1a1a" stroke="#1a1a1a" stroke-width="0.22" font-size="10" text-anchor="end">0.00</text>
<line x1="370.5" x2="376.3" y1="182.17" y2="182.17" stroke="#1a1a1a" stroke-width="1.4"/>
<text x="368.9" y="186.37" font-family="'Liberation Sans', sans-serif" font-weight="bold" fill="#1a1a1a" stroke="#1a1a1a" stroke-width="0.22" font-size="10" text-anchor="end">0.01</text>
<line x1="370.5" x2="376.3" y1="148.65" y2="148.65" stroke="#1a1a1a" stroke-width="1.4"/>
<text x="368.9" y="152.85" font-family="'Liberation Sans', sans-serif" font-weight="bold" fill="#1a1a1a" stroke="#1a1a1a" stroke-width="0.22" font-size="10" text-anchor="end">0.02</text>
<line x1="370.5" x2="376.3" y1="115.12" y2="115.12" stroke="#1a1a1a" stroke-width="1.4"/>
<text x="368.9" y="119.32" font-family="'Liberation Sans', sans-serif" font-weight="bold" fill="#1a1a1a" stroke="#1a1a1a" stroke-width="0.22" font-size="10" text-anchor="end">0.03</text>
<line x1="370.5" x2="376.3" y1="81.6" y2="81.6" stroke="#1a1a1a" stroke-width="1.4"/>
<text x="368.9" y="85.8" font-family="'Liberation Sans', sans-serif" font-weight="bold" fill="#1a1a1a" stroke="#1a1a1a" stroke-width="0.22" font-size="10" text-anchor="end">0.04</text>
<line x1="414" x2="414" y1="215.7" y2="221.5" stroke="#1a1a1a" stroke-width="1.4"/>
<text transform="translate(414 232.3) scale(0.93 1)" font-family="'Liberation Sans', sans-serif" font-weight="bold" fill="#1a1a1a" stroke="#1a1a1a" stroke-width="0.22" font-size="10.9" text-anchor="middle">bLD</text>
<line x1="471.6" x2="471.6" y1="215.7" y2="221.5" stroke="#1a1a1a" stroke-width="1.4"/>
<text transform="translate(471.6 232.3) scale(0.93 1)" font-family="'Liberation Sans', sans-serif" font-weight="bold" fill="#1a1a1a" stroke="#1a1a1a" stroke-width="0.22" font-size="10.9" text-anchor="middle">DD</text>
<text transform="translate(344.2 148.95) rotate(-90)" font-family="'Liberation Sans', sans-serif" font-weight="bold" fill="#1a1a1a" stroke="#1a1a1a" stroke-width="0.22" font-size="10" text-anchor="middle">Amplitude</text>
<line x1="414.6" x2="470.4" y1="83.4" y2="83.4" stroke="#0a0a0a" stroke-width="1.15"/>
<text x="442.5" y="80.3" font-family="'Liberation Sans', sans-serif" font-size="9.6" fill="#222" stroke="#222" stroke-width="0.15" text-anchor="middle">****</text>
<circle cx="418.53" cy="411.67" r="2.0" fill="#5a4cf2" stroke="#14103f" stroke-width="0.65"/>
<circle cx="410.65" cy="417.45" r="2.0" fill="#5a4cf2" stroke="#14103f" stroke-width="0.65"/>
<circle cx="403.29" cy="423.49" r="2.0" fill="#5a4cf2" stroke="#14103f" stroke-width="0.65"/>
<circle cx="418.53" cy="422.44" r="2.0" fill="#5a4cf2" stroke="#14103f" stroke-width="0.65"/>
<circle cx="425.89" cy="424.01" r="2.0" fill="#5a4cf2" stroke="#14103f" stroke-width="0.65"/>
<circle cx="398.82" cy="429.27" r="2.0" fill="#5a4cf2" stroke="#14103f" stroke-width="0.65"/>
<circle cx="406.71" cy="430.58" r="2.0" fill="#5a4cf2" stroke="#14103f" stroke-width="0.65"/>
<circle cx="414.06" cy="431.37" r="2.0" fill="#5a4cf2" stroke="#14103f" stroke-width="0.65"/>
<circle cx="422.47" cy="434.52" r="2.0" fill="#5a4cf2" stroke="#14103f" stroke-width="0.65"/>
<circle cx="429.83" cy="435.05" r="2.0" fill="#5a4cf2" stroke="#14103f" stroke-width="0.65"/>
<circle cx="471.87" cy="480.24" r="2.0" fill="#adadad" stroke="#2a2a2a" stroke-width="0.65"/>
<circle cx="459.78" cy="481.82" r="2.0" fill="#adadad" stroke="#2a2a2a" stroke-width="0.65"/>
<circle cx="465.3" cy="482.34" r="2.0" fill="#adadad" stroke="#2a2a2a" stroke-width="0.65"/>
<circle cx="476.33" cy="483.92" r="2.0" fill="#adadad" stroke="#2a2a2a" stroke-width="0.65"/>
<circle cx="456.1" cy="487.07" r="2.0" fill="#adadad" stroke="#2a2a2a" stroke-width="0.65"/>
<circle cx="461.88" cy="487.07" r="2.0" fill="#adadad" stroke="#2a2a2a" stroke-width="0.65"/>
<circle cx="467.14" cy="487.07" r="2.0" fill="#adadad" stroke="#2a2a2a" stroke-width="0.65"/>
<circle cx="472.39" cy="487.07" r="2.0" fill="#adadad" stroke="#2a2a2a" stroke-width="0.65"/>
<circle cx="477.65" cy="487.07" r="2.0" fill="#adadad" stroke="#2a2a2a" stroke-width="0.65"/>
<circle cx="484.21" cy="486.02" r="2.0" fill="#adadad" stroke="#2a2a2a" stroke-width="0.65"/>
<circle cx="487.63" cy="492.07" r="2.0" fill="#adadad" stroke="#2a2a2a" stroke-width="0.65"/>
<line x1="395.5" x2="433.2" y1="425.12" y2="425.12" stroke="#0a0a0a" stroke-width="1.05"/>
<line x1="414.3" x2="414.3" y1="417.75" y2="432.83" stroke="#0a0a0a" stroke-width="1.05"/>
<line x1="405.1" x2="423.5" y1="417.75" y2="417.75" stroke="#0a0a0a" stroke-width="1.05"/>
<line x1="405.1" x2="423.5" y1="432.83" y2="432.83" stroke="#0a0a0a" stroke-width="1.05"/>
<line x1="452.8" x2="490.5" y1="485.43" y2="485.43" stroke="#0a0a0a" stroke-width="1.05"/>
<line x1="471.6" x2="471.6" y1="482.41" y2="488.77" stroke="#0a0a0a" stroke-width="1.05"/>
<line x1="462.4" x2="480.8" y1="482.41" y2="482.41" stroke="#0a0a0a" stroke-width="1.05"/>
<line x1="462.4" x2="480.8" y1="488.77" y2="488.77" stroke="#0a0a0a" stroke-width="1.05"/>
<path d="M376.3 365.9L376.3 500.5L511 500.5" fill="none" stroke="#1a1a1a" stroke-width="1.4"/>
<line x1="370.5" x2="376.3" y1="500.5" y2="500.5" stroke="#1a1a1a" stroke-width="1.4"/>
<text x="368.9" y="504.7" font-family="'Liberation Sans', sans-serif" font-weight="bold" fill="#1a1a1a" stroke="#1a1a1a" stroke-width="0.22" font-size="10" text-anchor="end">0.00</text>
<line x1="370.5" x2="376.3" y1="467" y2="467" stroke="#1a1a1a" stroke-width="1.4"/>
<text x="368.9" y="471.2" font-family="'Liberation Sans', sans-serif" font-weight="bold" fill="#1a1a1a" stroke="#1a1a1a" stroke-width="0.22" font-size="10" text-anchor="end">0.01</text>
<line x1="370.5" x2="376.3" y1="433.5" y2="433.5" stroke="#1a1a1a" stroke-width="1.4"/>
<text x="368.9" y="437.7" font-family="'Liberation Sans', sans-serif" font-weight="bold" fill="#1a1a1a" stroke="#1a1a1a" stroke-width="0.22" font-size="10" text-anchor="end">0.02</text>
<line x1="370.5" x2="376.3" y1="400" y2="400" stroke="#1a1a1a" stroke-width="1.4"/>
<text x="368.9" y="404.2" font-family="'Liberation Sans', sans-serif" font-weight="bold" fill="#1a1a1a" stroke="#1a1a1a" stroke-width="0.22" font-size="10" text-anchor="end">0.03</text>
<line x1="370.5" x2="376.3" y1="366.5" y2="366.5" stroke="#1a1a1a" stroke-width="1.4"/>
<text x="368.9" y="370.7" font-family="'Liberation Sans', sans-serif" font-weight="bold" fill="#1a1a1a" stroke="#1a1a1a" stroke-width="0.22" font-size="10" text-anchor="end">0.04</text>
<line x1="414" x2="414" y1="500.5" y2="506.3" stroke="#1a1a1a" stroke-width="1.4"/>
<text transform="translate(414 517.1) scale(0.93 1)" font-family="'Liberation Sans', sans-serif" font-weight="bold" fill="#1a1a1a" stroke="#1a1a1a" stroke-width="0.22" font-size="10.9" text-anchor="middle">bLD</text>
<line x1="471.6" x2="471.6" y1="500.5" y2="506.3" stroke="#1a1a1a" stroke-width="1.4"/>
<text transform="translate(471.6 517.1) scale(0.93 1)" font-family="'Liberation Sans', sans-serif" font-weight="bold" fill="#1a1a1a" stroke="#1a1a1a" stroke-width="0.22" font-size="10.9" text-anchor="middle">DD</text>
<text transform="translate(344.2 433.8) rotate(-90)" font-family="'Liberation Sans', sans-serif" font-weight="bold" fill="#1a1a1a" stroke="#1a1a1a" stroke-width="0.22" font-size="10" text-anchor="middle">Amplitude</text>
<line x1="414.6" x2="470.4" y1="397.4" y2="397.4" stroke="#0a0a0a" stroke-width="1.15"/>
<text x="442.5" y="394.5" font-family="'Liberation Sans', sans-serif" font-size="9.6" fill="#222" stroke="#222" stroke-width="0.15" text-anchor="middle">****</text>
<path d="M608.7 132.65A37.4 37.4 0 0 0 608.7 207.45" fill="none" stroke="#000" stroke-width="2.4"/>
<path d="M608.7 132.65A37.4 37.4 0 0 1 608.7 207.45" fill="none" stroke="#1010b8" stroke-width="2.4"/>
<line x1="608.7" y1="134.15" x2="608.7" y2="132.29" stroke="#fff" stroke-width="0.45" stroke-opacity="0.75"/>
<line x1="617.99" y1="135.37" x2="618.47" y2="133.58" stroke="#fff" stroke-width="0.45" stroke-opacity="0.75"/>
<line x1="626.65" y1="138.96" x2="627.58" y2="137.35" stroke="#fff" stroke-width="0.45" stroke-opacity="0.75"/>
<line x1="634.09" y1="144.66" x2="635.4" y2="143.35" stroke="#fff" stroke-width="0.45" stroke-opacity="0.75"/>
<line x1="639.79" y1="152.1" x2="641.4" y2="151.17" stroke="#fff" stroke-width="0.45" stroke-opacity="0.75"/>
<line x1="643.38" y1="160.76" x2="645.17" y2="160.28" stroke="#fff" stroke-width="0.45" stroke-opacity="0.75"/>
<line x1="644.6" y1="170.05" x2="646.46" y2="170.05" stroke="#fff" stroke-width="0.45" stroke-opacity="0.75"/>
<line x1="643.38" y1="179.34" x2="645.17" y2="179.82" stroke="#fff" stroke-width="0.45" stroke-opacity="0.75"/>
<line x1="639.79" y1="188" x2="641.4" y2="188.93" stroke="#fff" stroke-width="0.45" stroke-opacity="0.75"/>
<line x1="634.09" y1="195.44" x2="635.4" y2="196.75" stroke="#fff" stroke-width="0.45" stroke-opacity="0.75"/>
<line x1="626.65" y1="201.14" x2="627.58" y2="202.75" stroke="#fff" stroke-width="0.45" stroke-opacity="0.75"/>
<line x1="617.99" y1="204.73" x2="618.47" y2="206.52" stroke="#fff" stroke-width="0.45" stroke-opacity="0.75"/>
<line x1="608.7" y1="205.95" x2="608.7" y2="207.81" stroke="#fff" stroke-width="0.45" stroke-opacity="0.75"/>
<line x1="599.41" y1="204.73" x2="598.93" y2="206.52" stroke="#fff" stroke-width="0.45" stroke-opacity="0.75"/>
<line x1="590.75" y1="201.14" x2="589.82" y2="202.75" stroke="#fff" stroke-width="0.45" stroke-opacity="0.75"/>
<line x1="583.31" y1="195.44" x2="582" y2="196.75" stroke="#fff" stroke-width="0.45" stroke-opacity="0.75"/>
<line x1="577.61" y1="188" x2="576" y2="188.93" stroke="#fff" stroke-width="0.45" stroke-opacity="0.75"/>
<line x1="574.02" y1="179.34" x2="572.23" y2="179.82" stroke="#fff" stroke-width="0.45" stroke-opacity="0.75"/>
<line x1="572.8" y1="170.05" x2="570.94" y2="170.05" stroke="#fff" stroke-width="0.45" stroke-opacity="0.75"/>
<line x1="574.02" y1="160.76" x2="572.23" y2="160.28" stroke="#fff" stroke-width="0.45" stroke-opacity="0.75"/>
<line x1="577.61" y1="152.1" x2="576" y2="151.17" stroke="#fff" stroke-width="0.45" stroke-opacity="0.75"/>
<line x1="583.31" y1="144.66" x2="582" y2="143.35" stroke="#fff" stroke-width="0.45" stroke-opacity="0.75"/>
<line x1="590.75" y1="138.96" x2="589.82" y2="137.35" stroke="#fff" stroke-width="0.45" stroke-opacity="0.75"/>
<line x1="599.41" y1="135.37" x2="598.93" y2="133.58" stroke="#fff" stroke-width="0.45" stroke-opacity="0.75"/>
<line x1="640.22" y1="151.85" x2="638.14" y2="153.05" stroke="#222" stroke-width="0.6"/>
<line x1="640.22" y1="188.25" x2="638.14" y2="187.05" stroke="#222" stroke-width="0.6"/>
<circle cx="608.7" cy="170.05" r="10.3" fill="none" stroke="#1a1a1a" stroke-width="0.6"/>
<line x1="608.7" y1="170.05" x2="591.9" y2="136.4" stroke="#1a1a1a" stroke-width="0.65"/>
<line x1="608.7" y1="170.05" x2="600.7" y2="133" stroke="#1a1a1a" stroke-width="0.65"/>
<line x1="608.7" y1="170.05" x2="645.6" y2="170.4" stroke="#1a1a1a" stroke-width="0.65"/>
<circle cx="643.31" cy="148.01" r="1.65" fill="#fff" stroke="#262626" stroke-width="0.65"/>
<circle cx="647.04" cy="147.77" r="1.65" fill="#fff" stroke="#262626" stroke-width="0.65"/>
<circle cx="651.13" cy="145.79" r="1.65" fill="#fff" stroke="#262626" stroke-width="0.65"/>
<circle cx="654.99" cy="146.26" r="1.65" fill="#fff" stroke="#262626" stroke-width="0.65"/>
<circle cx="646.11" cy="152.8" r="1.65" fill="#fff" stroke="#262626" stroke-width="0.65"/>
<circle cx="647.98" cy="157.93" r="1.65" fill="#fff" stroke="#262626" stroke-width="0.65"/>
<circle cx="667.48" cy="156.77" r="1.65" fill="#fff" stroke="#262626" stroke-width="0.65"/>
<circle cx="648.45" cy="160.62" r="1.65" fill="#fff" stroke="#262626" stroke-width="0.65"/>
<circle cx="652.3" cy="160.62" r="1.65" fill="#fff" stroke="#262626" stroke-width="0.65"/>
<circle cx="656.39" cy="159.8" r="1.65" fill="#fff" stroke="#262626" stroke-width="0.65"/>
<circle cx="660.47" cy="160.62" r="1.65" fill="#fff" stroke="#262626" stroke-width="0.65"/>
<circle cx="664.33" cy="159.8" r="1.65" fill="#fff" stroke="#262626" stroke-width="0.65"/>
<circle cx="648.8" cy="163.54" r="1.65" fill="#fff" stroke="#262626" stroke-width="0.65"/>
<circle cx="664.56" cy="162.96" r="1.65" fill="#fff" stroke="#262626" stroke-width="0.65"/>
<circle cx="671.8" cy="163.77" r="1.65" fill="#fff" stroke="#262626" stroke-width="0.65"/>
<circle cx="675.66" cy="162.61" r="1.65" fill="#fff" stroke="#262626" stroke-width="0.65"/>
<circle cx="682.08" cy="164.12" r="1.65" fill="#fff" stroke="#262626" stroke-width="0.65"/>
<circle cx="656.97" cy="165.88" r="1.65" fill="#fff" stroke="#262626" stroke-width="0.65"/>
<circle cx="661.06" cy="165.29" r="1.65" fill="#fff" stroke="#262626" stroke-width="0.65"/>
<circle cx="667.48" cy="165.29" r="1.65" fill="#fff" stroke="#262626" stroke-width="0.65"/>
<circle cx="677.99" cy="165.88" r="1.65" fill="#fff" stroke="#262626" stroke-width="0.65"/>
<circle cx="649.38" cy="169.15" r="1.65" fill="#fff" stroke="#262626" stroke-width="0.65"/>
<circle cx="653.47" cy="168.45" r="1.65" fill="#fff" stroke="#262626" stroke-width="0.65"/>
<circle cx="656.97" cy="169.96" r="1.65" fill="#fff" stroke="#262626" stroke-width="0.65"/>
<circle cx="663.39" cy="168.21" r="1.65" fill="#fff" stroke="#262626" stroke-width="0.65"/>
<circle cx="667.48" cy="167.63" r="1.65" fill="#fff" stroke="#262626" stroke-width="0.65"/>
<circle cx="651.72" cy="172.65" r="1.65" fill="#fff" stroke="#262626" stroke-width="0.65"/>
<circle cx="657.55" cy="171.72" r="1.65" fill="#fff" stroke="#262626" stroke-width="0.65"/>
<circle cx="655.22" cy="174.99" r="1.65" fill="#fff" stroke="#262626" stroke-width="0.65"/>
<circle cx="661.88" cy="174.64" r="1.65" fill="#fff" stroke="#262626" stroke-width="0.65"/>
<circle cx="665.96" cy="173.7" r="1.65" fill="#fff" stroke="#262626" stroke-width="0.65"/>
<circle cx="645.29" cy="188.07" r="1.65" fill="#fff" stroke="#262626" stroke-width="0.65"/>
<circle cx="648.8" cy="186.9" r="1.65" fill="#fff" stroke="#262626" stroke-width="0.65"/>
<circle cx="652.88" cy="184.8" r="1.65" fill="#fff" stroke="#262626" stroke-width="0.65"/>
<circle cx="656.39" cy="186.31" r="1.65" fill="#fff" stroke="#262626" stroke-width="0.65"/>
<circle cx="648.21" cy="191.34" r="1.65" fill="#fff" stroke="#262626" stroke-width="0.65"/>
<circle cx="641.2" cy="194.14" r="1.65" fill="#fff" stroke="#262626" stroke-width="0.65"/>
<circle cx="630.93" cy="204.42" r="1.65" fill="#fff" stroke="#262626" stroke-width="0.65"/>
<circle cx="625.09" cy="207.34" r="1.65" fill="#fff" stroke="#262626" stroke-width="0.65"/>
<circle cx="589.73" cy="78.94" r="1.75" fill="#000" stroke="#000" stroke-width="0.4"/>
<circle cx="588.56" cy="82.8" r="1.75" fill="#000" stroke="#000" stroke-width="0.4"/>
<circle cx="589.15" cy="86.3" r="1.75" fill="#000" stroke="#000" stroke-width="0.4"/>
<circle cx="586.11" cy="89.45" r="1.75" fill="#000" stroke="#000" stroke-width="0.4"/>
<circle cx="592.65" cy="89.1" r="1.75" fill="#000" stroke="#000" stroke-width="0.4"/>
<circle cx="589.38" cy="92.37" r="1.75" fill="#000" stroke="#000" stroke-width="0.4"/>
<circle cx="594.64" cy="92.61" r="1.75" fill="#000" stroke="#000" stroke-width="0.4"/>
<circle cx="591.48" cy="95.64" r="1.75" fill="#000" stroke="#000" stroke-width="0.4"/>
<circle cx="596.39" cy="96.46" r="1.75" fill="#000" stroke="#000" stroke-width="0.4"/>
<circle cx="586.11" cy="97.28" r="1.75" fill="#000" stroke="#000" stroke-width="0.4"/>
<circle cx="589.38" cy="99.38" r="1.75" fill="#000" stroke="#000" stroke-width="0.4"/>
<circle cx="594.64" cy="100.55" r="1.75" fill="#000" stroke="#000" stroke-width="0.4"/>
<circle cx="591.13" cy="103.12" r="1.75" fill="#000" stroke="#000" stroke-width="0.4"/>
<circle cx="596.97" cy="104.99" r="1.75" fill="#000" stroke="#000" stroke-width="0.4"/>
<circle cx="599.89" cy="105.45" r="1.75" fill="#000" stroke="#000" stroke-width="0.4"/>
<circle cx="591.13" cy="108.14" r="1.75" fill="#000" stroke="#000" stroke-width="0.4"/>
<circle cx="597.55" cy="108.72" r="1.75" fill="#000" stroke="#000" stroke-width="0.4"/>
<circle cx="603.39" cy="110.82" r="1.75" fill="#000" stroke="#000" stroke-width="0.4"/>
<circle cx="591.13" cy="111.88" r="1.75" fill="#000" stroke="#000" stroke-width="0.4"/>
<circle cx="596.15" cy="112.23" r="1.75" fill="#000" stroke="#000" stroke-width="0.4"/>
<circle cx="600.47" cy="113.39" r="1.75" fill="#000" stroke="#000" stroke-width="0.4"/>
<circle cx="594.05" cy="115.96" r="1.75" fill="#000" stroke="#000" stroke-width="0.4"/>
<circle cx="596.97" cy="116.9" r="1.75" fill="#000" stroke="#000" stroke-width="0.4"/>
<circle cx="602.23" cy="117.83" r="1.75" fill="#000" stroke="#000" stroke-width="0.4"/>
<circle cx="594.05" cy="120.4" r="1.75" fill="#000" stroke="#000" stroke-width="0.4"/>
<circle cx="597.55" cy="120.99" r="1.75" fill="#000" stroke="#000" stroke-width="0.4"/>
<circle cx="603.16" cy="121.57" r="1.75" fill="#000" stroke="#000" stroke-width="0.4"/>
<circle cx="594.64" cy="123.91" r="1.75" fill="#000" stroke="#000" stroke-width="0.4"/>
<circle cx="599.31" cy="124.49" r="1.75" fill="#000" stroke="#000" stroke-width="0.4"/>
<circle cx="603.98" cy="125.42" r="1.75" fill="#000" stroke="#000" stroke-width="0.4"/>
<circle cx="594.99" cy="127.99" r="1.75" fill="#000" stroke="#000" stroke-width="0.4"/>
<circle cx="599.89" cy="128.58" r="1.75" fill="#000" stroke="#000" stroke-width="0.4"/>
<circle cx="605.15" cy="129.51" r="1.75" fill="#000" stroke="#000" stroke-width="0.4"/>
<circle cx="598.72" cy="131.5" r="1.75" fill="#000" stroke="#000" stroke-width="0.4"/>
<circle cx="602.23" cy="132.08" r="1.75" fill="#000" stroke="#000" stroke-width="0.4"/>
<circle cx="555.51" cy="64.34" r="1.75" fill="#0808e2" stroke="#000038" stroke-width="0.5"/>
<circle cx="554.34" cy="68.43" r="1.75" fill="#0808e2" stroke="#000038" stroke-width="0.5"/>
<circle cx="556.68" cy="71.93" r="1.75" fill="#0808e2" stroke="#000038" stroke-width="0.5"/>
<circle cx="554.93" cy="75.44" r="1.75" fill="#0808e2" stroke="#000038" stroke-width="0.5"/>
<circle cx="561.7" cy="76.02" r="1.75" fill="#0808e2" stroke="#000038" stroke-width="0.5"/>
<circle cx="556.68" cy="79.18" r="1.75" fill="#0808e2" stroke="#000038" stroke-width="0.5"/>
<circle cx="562.28" cy="80.11" r="1.75" fill="#0808e2" stroke="#000038" stroke-width="0.5"/>
<circle cx="558.43" cy="82.45" r="1.75" fill="#0808e2" stroke="#000038" stroke-width="0.5"/>
<circle cx="562.52" cy="84.2" r="1.75" fill="#0808e2" stroke="#000038" stroke-width="0.5"/>
<circle cx="566.61" cy="84.43" r="1.75" fill="#0808e2" stroke="#000038" stroke-width="0.5"/>
<circle cx="562.75" cy="88.28" r="1.75" fill="#0808e2" stroke="#000038" stroke-width="0.5"/>
<circle cx="566.61" cy="88.28" r="1.75" fill="#0808e2" stroke="#000038" stroke-width="0.5"/>
<circle cx="565.09" cy="92.37" r="1.75" fill="#0808e2" stroke="#000038" stroke-width="0.5"/>
<circle cx="569.76" cy="92.14" r="1.75" fill="#0808e2" stroke="#000038" stroke-width="0.5"/>
<circle cx="567.54" cy="95.64" r="1.75" fill="#0808e2" stroke="#000038" stroke-width="0.5"/>
<circle cx="571.63" cy="95.64" r="1.75" fill="#0808e2" stroke="#000038" stroke-width="0.5"/>
<circle cx="569.29" cy="99.15" r="1.75" fill="#0808e2" stroke="#000038" stroke-width="0.5"/>
<circle cx="571.28" cy="102.3" r="1.75" fill="#0808e2" stroke="#000038" stroke-width="0.5"/>
<circle cx="575.72" cy="101.48" r="1.75" fill="#0808e2" stroke="#000038" stroke-width="0.5"/>
<circle cx="578.64" cy="103.47" r="1.75" fill="#0808e2" stroke="#000038" stroke-width="0.5"/>
<circle cx="573.38" cy="106.15" r="1.75" fill="#0808e2" stroke="#000038" stroke-width="0.5"/>
<circle cx="578.05" cy="105.45" r="1.75" fill="#0808e2" stroke="#000038" stroke-width="0.5"/>
<circle cx="580.62" cy="107.32" r="1.75" fill="#0808e2" stroke="#000038" stroke-width="0.5"/>
<circle cx="577.47" cy="109.31" r="1.75" fill="#0808e2" stroke="#000038" stroke-width="0.5"/>
<circle cx="580.97" cy="111.64" r="1.75" fill="#0808e2" stroke="#000038" stroke-width="0.5"/>
<circle cx="579.22" cy="113.04" r="1.75" fill="#0808e2" stroke="#000038" stroke-width="0.5"/>
<circle cx="583.31" cy="114.8" r="1.75" fill="#0808e2" stroke="#000038" stroke-width="0.5"/>
<circle cx="580.62" cy="116.9" r="1.75" fill="#0808e2" stroke="#000038" stroke-width="0.5"/>
<circle cx="584.71" cy="118.42" r="1.75" fill="#0808e2" stroke="#000038" stroke-width="0.5"/>
<circle cx="579.8" cy="122.15" r="1.75" fill="#0808e2" stroke="#000038" stroke-width="0.5"/>
<circle cx="582.37" cy="121.57" r="1.75" fill="#0808e2" stroke="#000038" stroke-width="0.5"/>
<circle cx="584.47" cy="122.74" r="1.75" fill="#0808e2" stroke="#000038" stroke-width="0.5"/>
<circle cx="581.55" cy="125.66" r="1.75" fill="#0808e2" stroke="#000038" stroke-width="0.5"/>
<circle cx="585.29" cy="126.47" r="1.75" fill="#0808e2" stroke="#000038" stroke-width="0.5"/>
<circle cx="588.45" cy="129.39" r="1.75" fill="#0808e2" stroke="#000038" stroke-width="0.5"/>
<circle cx="593.47" cy="131.73" r="1.75" fill="#0808e2" stroke="#000038" stroke-width="0.5"/>
<circle cx="589.38" cy="132.66" r="1.75" fill="#0808e2" stroke="#000038" stroke-width="0.5"/>
<circle cx="585.06" cy="135.58" r="1.75" fill="#0808e2" stroke="#000038" stroke-width="0.5"/>
<circle cx="590.55" cy="135" r="1.75" fill="#0808e2" stroke="#000038" stroke-width="0.5"/>
<text x="612.3" y="143.97" font-family="'Liberation Sans', sans-serif" font-size="7.7" fill="#111" stroke="#111" stroke-width="0.12" text-anchor="middle">0 h</text>
<text x="634" y="158.67" font-family="'Liberation Sans', sans-serif" font-size="7.7" fill="#111" stroke="#111" stroke-width="0.12" text-anchor="middle">4</text>
<text x="634" y="187.57" font-family="'Liberation Sans', sans-serif" font-size="7.7" fill="#111" stroke="#111" stroke-width="0.12" text-anchor="middle">8</text>
<text x="608.75" y="201.77" font-family="'Liberation Sans', sans-serif" font-size="7.7" fill="#111" stroke="#111" stroke-width="0.12" text-anchor="middle">12</text>
<text x="584.05" y="187.27" font-family="'Liberation Sans', sans-serif" font-size="7.7" fill="#111" stroke="#111" stroke-width="0.12" text-anchor="middle">16</text>
<text x="584.05" y="158.87" font-family="'Liberation Sans', sans-serif" font-size="7.7" fill="#111" stroke="#111" stroke-width="0.12" text-anchor="middle">20</text>
<path d="M591.4 390.6A38.7 38.7 0 0 0 591.4 468" fill="none" stroke="#000" stroke-width="2.8"/>
<path d="M591.4 390.6A38.7 38.7 0 0 1 591.4 468" fill="none" stroke="#1010b8" stroke-width="2.8"/>
<line x1="591.4" y1="392.3" x2="591.4" y2="390.18" stroke="#fff" stroke-width="0.45" stroke-opacity="0.75"/>
<line x1="600.98" y1="393.56" x2="601.53" y2="391.51" stroke="#fff" stroke-width="0.45" stroke-opacity="0.75"/>
<line x1="609.9" y1="397.26" x2="610.96" y2="395.42" stroke="#fff" stroke-width="0.45" stroke-opacity="0.75"/>
<line x1="617.56" y1="403.14" x2="619.06" y2="401.64" stroke="#fff" stroke-width="0.45" stroke-opacity="0.75"/>
<line x1="623.44" y1="410.8" x2="625.28" y2="409.74" stroke="#fff" stroke-width="0.45" stroke-opacity="0.75"/>
<line x1="627.14" y1="419.72" x2="629.19" y2="419.17" stroke="#fff" stroke-width="0.45" stroke-opacity="0.75"/>
<line x1="628.4" y1="429.3" x2="630.52" y2="429.3" stroke="#fff" stroke-width="0.45" stroke-opacity="0.75"/>
<line x1="627.14" y1="438.88" x2="629.19" y2="439.43" stroke="#fff" stroke-width="0.45" stroke-opacity="0.75"/>
<line x1="623.44" y1="447.8" x2="625.28" y2="448.86" stroke="#fff" stroke-width="0.45" stroke-opacity="0.75"/>
<line x1="617.56" y1="455.46" x2="619.06" y2="456.96" stroke="#fff" stroke-width="0.45" stroke-opacity="0.75"/>
<line x1="609.9" y1="461.34" x2="610.96" y2="463.18" stroke="#fff" stroke-width="0.45" stroke-opacity="0.75"/>
<line x1="600.98" y1="465.04" x2="601.53" y2="467.09" stroke="#fff" stroke-width="0.45" stroke-opacity="0.75"/>
<line x1="591.4" y1="466.3" x2="591.4" y2="468.42" stroke="#fff" stroke-width="0.45" stroke-opacity="0.75"/>
<line x1="581.82" y1="465.04" x2="581.27" y2="467.09" stroke="#fff" stroke-width="0.45" stroke-opacity="0.75"/>
<line x1="572.9" y1="461.34" x2="571.84" y2="463.18" stroke="#fff" stroke-width="0.45" stroke-opacity="0.75"/>
<line x1="565.24" y1="455.46" x2="563.74" y2="456.96" stroke="#fff" stroke-width="0.45" stroke-opacity="0.75"/>
<line x1="559.36" y1="447.8" x2="557.52" y2="448.86" stroke="#fff" stroke-width="0.45" stroke-opacity="0.75"/>
<line x1="555.66" y1="438.88" x2="553.61" y2="439.43" stroke="#fff" stroke-width="0.45" stroke-opacity="0.75"/>
<line x1="554.4" y1="429.3" x2="552.28" y2="429.3" stroke="#fff" stroke-width="0.45" stroke-opacity="0.75"/>
<line x1="555.66" y1="419.72" x2="553.61" y2="419.17" stroke="#fff" stroke-width="0.45" stroke-opacity="0.75"/>
<line x1="559.36" y1="410.8" x2="557.52" y2="409.74" stroke="#fff" stroke-width="0.45" stroke-opacity="0.75"/>
<line x1="565.24" y1="403.14" x2="563.74" y2="401.64" stroke="#fff" stroke-width="0.45" stroke-opacity="0.75"/>
<line x1="572.9" y1="397.26" x2="571.84" y2="395.42" stroke="#fff" stroke-width="0.45" stroke-opacity="0.75"/>
<line x1="581.82" y1="393.56" x2="581.27" y2="391.51" stroke="#fff" stroke-width="0.45" stroke-opacity="0.75"/>
<line x1="623.88" y1="410.55" x2="621.8" y2="411.75" stroke="#222" stroke-width="0.6"/>
<line x1="623.88" y1="448.05" x2="621.8" y2="446.85" stroke="#222" stroke-width="0.6"/>
<circle cx="591.4" cy="429.3" r="20.5" fill="none" stroke="#1a1a1a" stroke-width="0.6"/>
<line x1="591.4" y1="429.3" x2="570.7" y2="396.2" stroke="#1a1a1a" stroke-width="0.65"/>
<line x1="591.4" y1="429.3" x2="577.9" y2="393.4" stroke="#1a1a1a" stroke-width="0.65"/>
<line x1="591.4" y1="429.3" x2="613" y2="397.2" stroke="#1a1a1a" stroke-width="0.65"/>
<circle cx="604.92" cy="389.97" r="1.65" fill="#fff" stroke="#262626" stroke-width="0.65"/>
<circle cx="612.27" cy="388.86" r="1.65" fill="#fff" stroke="#262626" stroke-width="0.65"/>
<circle cx="619.2" cy="385.8" r="1.65" fill="#fff" stroke="#262626" stroke-width="0.65"/>
<circle cx="627.11" cy="386.08" r="1.65" fill="#fff" stroke="#262626" stroke-width="0.65"/>
<circle cx="616.84" cy="389.27" r="1.65" fill="#fff" stroke="#262626" stroke-width="0.65"/>
<circle cx="623.36" cy="389.27" r="1.65" fill="#fff" stroke="#262626" stroke-width="0.65"/>
<circle cx="612.55" cy="392.74" r="1.65" fill="#fff" stroke="#262626" stroke-width="0.65"/>
<circle cx="617.12" cy="393.43" r="1.65" fill="#fff" stroke="#262626" stroke-width="0.65"/>
<circle cx="621.28" cy="392.05" r="1.65" fill="#fff" stroke="#262626" stroke-width="0.65"/>
<circle cx="618.51" cy="396.62" r="1.65" fill="#fff" stroke="#262626" stroke-width="0.65"/>
<circle cx="623.36" cy="402.45" r="1.65" fill="#fff" stroke="#262626" stroke-width="0.65"/>
<circle cx="559.98" cy="388.3" r="1.75" fill="#000" stroke="#000" stroke-width="0.4"/>
<circle cx="565.8" cy="376.1" r="1.75" fill="#000" stroke="#000" stroke-width="0.4"/>
<circle cx="561.37" cy="391.35" r="1.75" fill="#000" stroke="#000" stroke-width="0.4"/>
<circle cx="563.03" cy="394.82" r="1.75" fill="#000" stroke="#000" stroke-width="0.4"/>
<circle cx="561.64" cy="398.98" r="1.75" fill="#000" stroke="#000" stroke-width="0.4"/>
<circle cx="565.8" cy="391.35" r="1.75" fill="#000" stroke="#000" stroke-width="0.4"/>
<circle cx="569.97" cy="394.82" r="1.75" fill="#000" stroke="#000" stroke-width="0.4"/>
<circle cx="565.8" cy="380.95" r="1.75" fill="#0808e2" stroke="#000038" stroke-width="0.5"/>
<circle cx="571.63" cy="381.64" r="1.75" fill="#0808e2" stroke="#000038" stroke-width="0.5"/>
<circle cx="565.8" cy="385.8" r="1.75" fill="#0808e2" stroke="#000038" stroke-width="0.5"/>
<circle cx="570.38" cy="385.53" r="1.75" fill="#0808e2" stroke="#000038" stroke-width="0.5"/>
<circle cx="576.21" cy="386.5" r="1.75" fill="#0808e2" stroke="#000038" stroke-width="0.5"/>
<circle cx="568.86" cy="389.27" r="1.75" fill="#0808e2" stroke="#000038" stroke-width="0.5"/>
<circle cx="573.71" cy="389.69" r="1.75" fill="#0808e2" stroke="#000038" stroke-width="0.5"/>
<circle cx="581.34" cy="388.86" r="1.75" fill="#0808e2" stroke="#000038" stroke-width="0.5"/>
<circle cx="572.05" cy="392.74" r="1.75" fill="#0808e2" stroke="#000038" stroke-width="0.5"/>
<circle cx="576.62" cy="392.05" r="1.75" fill="#0808e2" stroke="#000038" stroke-width="0.5"/>
<circle cx="589.38" cy="387.88" r="1.75" fill="#0808e2" stroke="#000038" stroke-width="0.5"/>
<text x="595" y="403.17" font-family="'Liberation Sans', sans-serif" font-size="7.7" fill="#111" stroke="#111" stroke-width="0.12" text-anchor="middle">0 h</text>
<text x="617" y="417.77" font-family="'Liberation Sans', sans-serif" font-size="7.7" fill="#111" stroke="#111" stroke-width="0.12" text-anchor="middle">4</text>
<text x="617" y="447.47" font-family="'Liberation Sans', sans-serif" font-size="7.7" fill="#111" stroke="#111" stroke-width="0.12" text-anchor="middle">8</text>
<text x="591.5" y="462.47" font-family="'Liberation Sans', sans-serif" font-size="7.7" fill="#111" stroke="#111" stroke-width="0.12" text-anchor="middle">12</text>
<text x="565.8" y="447.47" font-family="'Liberation Sans', sans-serif" font-size="7.7" fill="#111" stroke="#111" stroke-width="0.12" text-anchor="middle">16</text>
<text x="565.8" y="417.77" font-family="'Liberation Sans', sans-serif" font-size="7.7" fill="#111" stroke="#111" stroke-width="0.12" text-anchor="middle">20</text>
<rect x="39" y="606.1" width="188" height="146.4" fill="#e1e3e2"/>
<rect x="52.43" y="605.6" width="13.43" height="146.9" fill="#fff"/>
<rect x="86" y="605.6" width="13.43" height="146.9" fill="#fff"/>
<rect x="112.86" y="605.6" width="13.43" height="146.9" fill="#fff"/>
<rect x="139.71" y="605.6" width="13.43" height="146.9" fill="#fff"/>
<line x1="38.2" x2="227.5" y1="606.1" y2="606.1" stroke="#787878" stroke-opacity="0.17" stroke-width="1"/>
<line x1="38.2" x2="227.5" y1="642.7" y2="642.7" stroke="#787878" stroke-opacity="0.17" stroke-width="1"/>
<line x1="38.2" x2="227.5" y1="715.9" y2="715.9" stroke="#787878" stroke-opacity="0.17" stroke-width="1"/>
<line x1="52.43" x2="52.43" y1="606.1" y2="752.5" stroke="#a9a9a9" stroke-width="0.9"/>
<line x1="65.86" x2="65.86" y1="606.1" y2="752.5" stroke="#a9a9a9" stroke-width="0.9"/>
<line x1="86" x2="86" y1="606.1" y2="752.5" stroke="#a9a9a9" stroke-width="0.9"/>
<line x1="99.43" x2="99.43" y1="606.1" y2="752.5" stroke="#a9a9a9" stroke-width="0.9"/>
<line x1="112.86" x2="112.86" y1="606.1" y2="752.5" stroke="#a9a9a9" stroke-width="0.9"/>
<line x1="126.29" x2="126.29" y1="606.1" y2="752.5" stroke="#a9a9a9" stroke-width="0.9"/>
<line x1="139.71" x2="139.71" y1="606.1" y2="752.5" stroke="#a9a9a9" stroke-width="0.9"/>
<line x1="153.14" x2="153.14" y1="606.1" y2="752.5" stroke="#a9a9a9" stroke-width="0.9"/>
<line x1="166.57" x2="166.57" y1="606.1" y2="752.5" stroke="#a9a9a9" stroke-width="0.9"/>
<line x1="180" x2="180" y1="606.1" y2="752.5" stroke="#a9a9a9" stroke-width="0.9"/>
<line x1="193.43" x2="193.43" y1="606.1" y2="752.5" stroke="#a9a9a9" stroke-width="0.9"/>
<line x1="206.86" x2="206.86" y1="606.1" y2="752.5" stroke="#a9a9a9" stroke-width="0.9"/>
<line x1="220.29" x2="220.29" y1="606.1" y2="752.5" stroke="#a9a9a9" stroke-width="0.9"/>
<line x1="37.7" x2="228.5" y1="679.5" y2="679.5" stroke="#333" stroke-width="0.9"/>
<path d="M39 690.87L39.73 690.53L40.45 690.01L41.18 689.31L41.9 688.48L42.63 687.53L43.36 686.32L44.08 684.6L44.81 681.63L45.53 676.75L46.26 672.09L46.98 668.92L47.71 666.79L48.44 665.31L49.16 664.21L49.89 663.59L50.61 663.65L51.34 664.36L52.07 665.54L52.79 667.16L53.52 669.44L54.24 672.25L54.97 675.45L55.69 678.89L56.42 682.46L57.15 686.32L57.87 690.44L58.6 694.67L59.32 698.87L60.05 702.91L60.78 706.63L61.5 709.89L62.23 712.55L62.95 714.47L63.68 715.52L64.41 715.67L65.13 715.12L65.86 714L66.58 712.38L67.31 710.31L68.03 707.82L68.76 704.98L69.49 701.83L70.21 698.43L70.94 694.81L71.66 691.03L72.39 687.13L73.12 683.17L73.84 679.2L74.57 675.25L75.29 671.39L76.02 667.66L76.75 664.11L77.47 660.78L78.2 657.73L78.92 655.01L79.65 652.66L80.37 650.73L81.1 649.28L81.83 648.35L82.55 648.02L83.28 648.5L84 649.94L84.73 652.29L85.46 655.45L86.18 659.27L86.91 663.64L87.63 668.43L88.36 673.51L89.08 678.77L89.81 684.08L90.54 689.31L91.26 694.33L91.99 699.03L92.71 703.27L93.44 706.94L94.17 709.9L94.89 712.04L95.62 713.22L96.34 713.27L97.07 712.04L97.8 709.55L98.52 705.94L99.25 701.39L99.97 696.06L100.7 690.11L101.42 683.73L102.15 677.07L102.88 670.3L103.6 663.59L104.33 657.11L105.05 651.02L105.78 645.5L106.51 640.7L107.23 636.81L107.96 633.98L108.68 632.37L109.41 632.06L110.14 632.93L110.86 634.79L111.59 637.53L112.31 641.03L113.04 645.17L113.76 649.84L114.49 654.93L115.22 660.33L115.94 665.92L116.67 671.58L117.39 677.21L118.12 682.69L118.85 687.9L119.57 692.74L120.3 697.09L121.02 700.84L121.75 703.87L122.47 706.06L123.2 707.32L123.93 707.53L124.65 706.64L125.38 704.72L126.1 701.88L126.83 698.26L127.56 693.96L128.28 689.12L129.01 683.86L129.73 678.3L130.46 672.56L131.19 666.78L131.91 661.06L132.64 655.54L133.36 650.34L134.09 645.58L134.81 641.39L135.54 637.89L136.27 635.2L136.99 633.44L137.72 632.73L138.44 633.08L139.17 634.4L139.9 636.57L140.62 639.5L141.35 643.05L142.07 647.13L142.8 651.61L143.53 656.4L144.25 661.37L144.98 666.42L145.7 671.44L146.43 676.31L147.15 680.92L147.88 685.16L148.61 688.93L149.33 692.1L150.06 694.57L150.78 696.22L151.51 696.98L152.24 696.86L152.96 696.05L153.69 694.76L154.41 693.16L155.14 691.44L155.86 689.72L156.59 688.01L157.32 686.17L158.04 684.18L158.77 682.02L159.49 679.66L160.22 676.88L160.95 673.65L161.67 670.38L162.4 667.65L163.12 665.76L163.85 664.42L164.58 663.36L165.3 662.57L166.03 662.06L166.75 661.74L167.48 661.52L168.2 661.41L168.93 661.46L169.66 661.68L170.38 662.08L171.11 662.62L171.83 663.27L172.56 664L173.29 664.77L174.01 665.57L174.74 666.38L175.46 667.22L176.19 668.17L176.92 669.23L177.64 670.36L178.37 671.54L179.09 672.73L179.82 673.92L180.54 675.11L181.27 676.34L182 677.62L182.72 678.97L183.45 680.43L184.17 682.03L184.9 683.71L185.63 685.41L186.35 687.04L187.08 688.51L187.8 689.81L188.53 691.02L189.25 692.23L189.98 693.4L190.71 694.47L191.43 695.37L192.16 696.04L192.88 696.42L193.61 696.41L194.34 695.96L195.06 695.11L195.79 694.01L196.51 692.79L197.24 691.59L197.97 690.52L198.69 689.53L199.42 688.5L200.14 687.46L200.87 686.49L201.59 685.7L202.32 685.19L203.05 685.04L203.77 685.26L204.5 685.81L205.22 686.61L205.95 687.58L206.68 688.65L207.4 689.77L208.13 691.02L208.85 692.62L209.58 694.58L210.31 696.78L211.03 699.06L211.76 701.27L212.48 703.26L213.21 704.86L213.93 705.94L214.66 706.28L215.39 705.64L216.11 703.92L216.84 701.36L217.56 698.24L218.29 694.88L219.02 691.56L219.74 688.5L220.47 685.65L221.19 682.85L221.92 680.26L222.64 678.04L223.37 676.09L224.1 674.3L224.82 672.63L225.55 671.01L226.27 669.39L227 667.73" fill="none" stroke="#ee2a1c" stroke-width="1.5" stroke-linejoin="round"/>
<line x1="166.57" x2="166.57" y1="607.6" y2="745.5" stroke="#111" stroke-width="1.25" stroke-dasharray="6.8 7.7"/>
<rect x="39" y="752.9" width="187.2" height="7.1" fill="#000"/>
<rect x="52.43" y="752.9" width="13.43" height="7.1" fill="#1400fa"/>
<rect x="86" y="752.9" width="13.43" height="7.1" fill="#1400fa"/>
<rect x="112.86" y="752.9" width="13.43" height="7.1" fill="#1400fa"/>
<rect x="139.71" y="752.9" width="13.43" height="7.1" fill="#1400fa"/>
<rect x="153.14" y="752.9" width="73.06" height="7.1" fill="#000"/>
<line x1="52.43" x2="52.43" y1="752.9" y2="760" stroke="#9a9ab0" stroke-width="0.7"/>
<line x1="65.86" x2="65.86" y1="752.9" y2="760" stroke="#9a9ab0" stroke-width="0.7"/>
<line x1="86" x2="86" y1="752.9" y2="760" stroke="#9a9ab0" stroke-width="0.7"/>
<line x1="99.43" x2="99.43" y1="752.9" y2="760" stroke="#9a9ab0" stroke-width="0.7"/>
<line x1="112.86" x2="112.86" y1="752.9" y2="760" stroke="#9a9ab0" stroke-width="0.7"/>
<line x1="126.29" x2="126.29" y1="752.9" y2="760" stroke="#9a9ab0" stroke-width="0.7"/>
<line x1="139.71" x2="139.71" y1="752.9" y2="760" stroke="#9a9ab0" stroke-width="0.7"/>
<line x1="153.14" x2="153.14" y1="752.9" y2="760" stroke="#9a9ab0" stroke-width="0.7"/>
<line x1="166.57" x2="166.57" y1="752.9" y2="760" stroke="#8a8a8a" stroke-width="0.7"/>
<line x1="180" x2="180" y1="752.9" y2="760" stroke="#8a8a8a" stroke-width="0.7"/>
<line x1="193.43" x2="193.43" y1="752.9" y2="760" stroke="#8a8a8a" stroke-width="0.7"/>
<line x1="206.86" x2="206.86" y1="752.9" y2="760" stroke="#8a8a8a" stroke-width="0.7"/>
<line x1="220.29" x2="220.29" y1="752.9" y2="760" stroke="#8a8a8a" stroke-width="0.7"/>
<text x="34.6" y="609.2" font-family="'Liberation Serif', serif" font-size="7.25" letter-spacing="0.4" fill="#424242" text-anchor="end">0.10</text>
<text x="34.6" y="645.8" font-family="'Liberation Serif', serif" font-size="7.25" letter-spacing="0.4" fill="#424242" text-anchor="end">0.05</text>
<text x="34.6" y="682.4" font-family="'Liberation Serif', serif" font-size="7.25" letter-spacing="0.4" fill="#424242" text-anchor="end">0.00</text>
<text x="34.6" y="719" font-family="'Liberation Serif', serif" font-size="7.25" letter-spacing="0.4" fill="#424242" text-anchor="end">-0.05</text>
<text x="34.6" y="755.6" font-family="'Liberation Serif', serif" font-size="7.25" letter-spacing="0.4" fill="#424242" text-anchor="end">-0.10</text>
<text x="39.5" y="769.7" font-family="'Liberation Serif', serif" font-size="7.25" letter-spacing="0.4" fill="#424242" text-anchor="middle">60</text>
<text x="52.93" y="769.7" font-family="'Liberation Serif', serif" font-size="7.25" letter-spacing="0.4" fill="#424242" text-anchor="middle">72</text>
<text x="66.36" y="769.7" font-family="'Liberation Serif', serif" font-size="7.25" letter-spacing="0.4" fill="#424242" text-anchor="middle">84</text>
<text x="79.79" y="769.7" font-family="'Liberation Serif', serif" font-size="7.25" letter-spacing="0.4" fill="#424242" text-anchor="middle">96</text>
<text x="93.21" y="769.7" font-family="'Liberation Serif', serif" font-size="7.25" letter-spacing="0.4" fill="#424242" text-anchor="middle">108</text>
<text x="106.64" y="769.7" font-family="'Liberation Serif', serif" font-size="7.25" letter-spacing="0.4" fill="#424242" text-anchor="middle">120</text>
<text x="120.07" y="769.7" font-family="'Liberation Serif', serif" font-size="7.25" letter-spacing="0.4" fill="#424242" text-anchor="middle">132</text>
<text x="133.5" y="769.7" font-family="'Liberation Serif', serif" font-size="7.25" letter-spacing="0.4" fill="#424242" text-anchor="middle">144</text>
<text x="146.93" y="769.7" font-family="'Liberation Serif', serif" font-size="7.25" letter-spacing="0.4" fill="#424242" text-anchor="middle">156</text>
<text x="160.36" y="769.7" font-family="'Liberation Serif', serif" font-size="7.25" letter-spacing="0.4" fill="#424242" text-anchor="middle">168</text>
<text x="173.79" y="769.7" font-family="'Liberation Serif', serif" font-size="7.25" letter-spacing="0.4" fill="#424242" text-anchor="middle">180</text>
<text x="187.21" y="769.7" font-family="'Liberation Serif', serif" font-size="7.25" letter-spacing="0.4" fill="#424242" text-anchor="middle">192</text>
<text x="200.64" y="769.7" font-family="'Liberation Serif', serif" font-size="7.25" letter-spacing="0.4" fill="#424242" text-anchor="middle">204</text>
<text x="214.07" y="769.7" font-family="'Liberation Serif', serif" font-size="7.25" letter-spacing="0.4" fill="#424242" text-anchor="middle">216</text>
<text x="227.5" y="769.7" font-family="'Liberation Serif', serif" font-size="7.25" letter-spacing="0.4" fill="#424242" text-anchor="middle">228</text>
<text x="133" y="779.5" font-family="'Liberation Serif', serif" font-size="9.6" fill="#222" text-anchor="middle">Time (h)</text>
<text transform="translate(14.4 682.5) rotate(-90)" font-family="'Liberation Serif', serif" font-size="10.1" fill="#222" text-anchor="middle">Detrended luminescence</text>
<rect x="264" y="606.1" width="188" height="146.4" fill="#e1e3e2"/>
<rect x="277.43" y="605.6" width="13.43" height="146.9" fill="#fff"/>
<rect x="311" y="605.6" width="13.43" height="146.9" fill="#fff"/>
<rect x="337.86" y="605.6" width="13.43" height="146.9" fill="#fff"/>
<rect x="364.71" y="605.6" width="13.43" height="146.9" fill="#fff"/>
<line x1="263.2" x2="452.5" y1="606.1" y2="606.1" stroke="#787878" stroke-opacity="0.17" stroke-width="1"/>
<line x1="263.2" x2="452.5" y1="642.7" y2="642.7" stroke="#787878" stroke-opacity="0.17" stroke-width="1"/>
<line x1="263.2" x2="452.5" y1="715.9" y2="715.9" stroke="#787878" stroke-opacity="0.17" stroke-width="1"/>
<line x1="277.43" x2="277.43" y1="606.1" y2="752.5" stroke="#a9a9a9" stroke-width="0.9"/>
<line x1="290.86" x2="290.86" y1="606.1" y2="752.5" stroke="#a9a9a9" stroke-width="0.9"/>
<line x1="311" x2="311" y1="606.1" y2="752.5" stroke="#a9a9a9" stroke-width="0.9"/>
<line x1="324.43" x2="324.43" y1="606.1" y2="752.5" stroke="#a9a9a9" stroke-width="0.9"/>
<line x1="337.86" x2="337.86" y1="606.1" y2="752.5" stroke="#a9a9a9" stroke-width="0.9"/>
<line x1="351.29" x2="351.29" y1="606.1" y2="752.5" stroke="#a9a9a9" stroke-width="0.9"/>
<line x1="364.71" x2="364.71" y1="606.1" y2="752.5" stroke="#a9a9a9" stroke-width="0.9"/>
<line x1="378.14" x2="378.14" y1="606.1" y2="752.5" stroke="#a9a9a9" stroke-width="0.9"/>
<line x1="391.57" x2="391.57" y1="606.1" y2="752.5" stroke="#a9a9a9" stroke-width="0.9"/>
<line x1="405" x2="405" y1="606.1" y2="752.5" stroke="#a9a9a9" stroke-width="0.9"/>
<line x1="418.43" x2="418.43" y1="606.1" y2="752.5" stroke="#a9a9a9" stroke-width="0.9"/>
<line x1="431.86" x2="431.86" y1="606.1" y2="752.5" stroke="#a9a9a9" stroke-width="0.9"/>
<line x1="445.29" x2="445.29" y1="606.1" y2="752.5" stroke="#a9a9a9" stroke-width="0.9"/>
<line x1="262.7" x2="453.5" y1="679.5" y2="679.5" stroke="#333" stroke-width="0.9"/>
<path d="M264 694.45L264.73 694.8L265.45 695.01L266.18 695.09L266.9 695.03L267.63 694.73L268.36 694.06L269.08 692.85L269.81 691.16L270.53 689.01L271.26 686.14L271.98 682.87L272.71 679.9L273.44 677.46L274.16 675.22L274.89 673.14L275.61 671.37L276.34 670.08L277.07 669.44L277.79 669.54L278.52 670.36L279.24 671.84L279.97 673.88L280.69 676.41L281.42 679.35L282.15 682.62L282.87 686.13L283.6 689.81L284.32 693.57L285.05 697.34L285.78 701.03L286.5 704.57L287.23 707.87L287.95 710.85L288.68 713.43L289.41 715.54L290.13 717.08L290.86 717.99L291.58 718.19L292.31 717.64L293.03 716.39L293.76 714.5L294.49 712.03L295.21 709.06L295.94 705.66L296.66 701.89L297.39 697.82L298.12 693.53L298.84 689.07L299.57 684.52L300.29 679.95L301.02 675.42L301.75 671.01L302.47 666.79L303.2 662.81L303.92 659.15L304.65 655.89L305.37 653.08L306.1 650.8L306.83 649.11L307.55 648.09L308.28 647.83L309 648.45L309.73 649.97L310.46 652.3L311.18 655.32L311.91 658.93L312.63 662.98L313.36 667.38L314.08 671.99L314.81 676.7L315.54 681.39L316.26 685.95L316.99 690.24L317.71 694.17L318.44 697.59L319.17 700.41L319.89 702.49L320.62 703.71L321.34 703.94L322.07 703.03L322.8 700.97L323.52 697.9L324.25 693.96L324.97 689.29L325.7 684.05L326.42 678.37L327.15 672.41L327.88 666.31L328.6 660.21L329.33 654.27L330.05 648.63L330.78 643.43L331.51 638.83L332.23 634.96L332.96 631.98L333.68 630.04L334.41 629.25L335.14 629.68L335.86 631.26L336.59 633.85L337.31 637.32L338.04 641.53L338.76 646.36L339.49 651.65L340.22 657.29L340.94 663.14L341.67 669.06L342.39 674.91L343.12 680.56L343.85 685.89L344.57 690.74L345.3 695L346.02 698.51L346.75 701.16L347.47 702.8L348.2 703.34L348.93 702.81L349.65 701.35L350.38 699.06L351.1 696.06L351.83 692.45L352.56 688.33L353.28 683.81L354.01 678.99L354.73 673.97L355.46 668.86L356.19 663.77L356.91 658.79L357.64 654.03L358.36 649.59L359.09 645.59L359.81 642.12L360.54 639.29L361.27 637.19L361.99 635.95L362.72 635.62L363.44 636.22L364.17 637.66L364.9 639.85L365.62 642.68L366.35 646.05L367.07 649.87L367.8 654.04L368.53 658.46L369.25 663.04L369.98 667.66L370.7 672.24L371.43 676.67L372.15 680.86L372.88 684.71L373.61 688.12L374.33 690.99L375.06 693.22L375.78 694.71L376.51 695.42L377.24 695.43L377.96 695L378.69 694.27L379.41 693.31L380.14 692.15L380.86 690.86L381.59 689.34L382.32 687.21L383.04 684.49L383.77 681.65L384.49 679.13L385.22 676.95L385.95 674.93L386.67 673.1L387.4 671.49L388.12 670.12L388.85 668.91L389.58 667.81L390.3 666.87L391.03 666.14L391.75 665.61L392.48 665.2L393.2 664.85L393.93 664.59L394.66 664.44L395.38 664.44L396.11 664.67L396.83 665.12L397.56 665.73L398.29 666.45L399.01 667.22L399.74 667.98L400.46 668.76L401.19 669.61L401.92 670.54L402.64 671.53L403.37 672.56L404.09 673.62L404.82 674.71L405.54 675.83L406.27 677.01L407 678.27L407.72 679.64L408.45 681.2L409.17 682.93L409.9 684.71L410.63 686.4L411.35 687.87L412.08 689.04L412.8 690.06L413.53 691.03L414.25 691.93L414.98 692.73L415.71 693.4L416.43 693.88L417.16 694.13L417.88 694.09L418.61 693.69L419.34 692.96L420.06 691.97L420.79 690.8L421.51 689.55L422.24 688.21L422.97 686.66L423.69 684.77L424.42 682.77L425.14 681L425.87 679.63L426.59 678.47L427.32 677.49L428.05 676.81L428.77 676.61L429.5 677.01L430.22 678L430.95 679.4L431.68 681.09L432.4 683.18L433.13 686L433.85 689.41L434.58 693.03L435.31 696.58L436.03 700.21L436.76 703.9L437.48 707.28L438.21 709.99L438.93 712.03L439.66 713.56L440.39 714.23L441.11 713.61L441.84 711.81L442.56 709.41L443.29 706.87L444.02 704.19L444.74 701.28L445.47 698.28L446.19 695.39L446.92 692.73L447.64 690.24L448.37 687.8L449.1 685.29L449.82 682.57L450.55 679.58L451.27 676.54L452 673.66" fill="none" stroke="#ee2a1c" stroke-width="1.5" stroke-linejoin="round"/>
<line x1="391.57" x2="391.57" y1="607.6" y2="745.5" stroke="#111" stroke-width="1.25" stroke-dasharray="6.8 7.7"/>
<rect x="264" y="752.9" width="187.2" height="7.1" fill="#000"/>
<rect x="277.43" y="752.9" width="13.43" height="7.1" fill="#1400fa"/>
<rect x="311" y="752.9" width="13.43" height="7.1" fill="#1400fa"/>
<rect x="337.86" y="752.9" width="13.43" height="7.1" fill="#1400fa"/>
<rect x="364.71" y="752.9" width="13.43" height="7.1" fill="#1400fa"/>
<rect x="378.14" y="752.9" width="73.06" height="7.1" fill="#000"/>
<line x1="277.43" x2="277.43" y1="752.9" y2="760" stroke="#9a9ab0" stroke-width="0.7"/>
<line x1="290.86" x2="290.86" y1="752.9" y2="760" stroke="#9a9ab0" stroke-width="0.7"/>
<line x1="311" x2="311" y1="752.9" y2="760" stroke="#9a9ab0" stroke-width="0.7"/>
<line x1="324.43" x2="324.43" y1="752.9" y2="760" stroke="#9a9ab0" stroke-width="0.7"/>
<line x1="337.86" x2="337.86" y1="752.9" y2="760" stroke="#9a9ab0" stroke-width="0.7"/>
<line x1="351.29" x2="351.29" y1="752.9" y2="760" stroke="#9a9ab0" stroke-width="0.7"/>
<line x1="364.71" x2="364.71" y1="752.9" y2="760" stroke="#9a9ab0" stroke-width="0.7"/>
<line x1="378.14" x2="378.14" y1="752.9" y2="760" stroke="#9a9ab0" stroke-width="0.7"/>
<line x1="391.57" x2="391.57" y1="752.9" y2="760" stroke="#8a8a8a" stroke-width="0.7"/>
<line x1="405" x2="405" y1="752.9" y2="760" stroke="#8a8a8a" stroke-width="0.7"/>
<line x1="418.43" x2="418.43" y1="752.9" y2="760" stroke="#8a8a8a" stroke-width="0.7"/>
<line x1="431.86" x2="431.86" y1="752.9" y2="760" stroke="#8a8a8a" stroke-width="0.7"/>
<line x1="445.29" x2="445.29" y1="752.9" y2="760" stroke="#8a8a8a" stroke-width="0.7"/>
<text x="259.6" y="609.2" font-family="'Liberation Serif', serif" font-size="7.25" letter-spacing="0.4" fill="#424242" text-anchor="end">0.10</text>
<text x="259.6" y="645.8" font-family="'Liberation Serif', serif" font-size="7.25" letter-spacing="0.4" fill="#424242" text-anchor="end">0.05</text>
<text x="259.6" y="682.4" font-family="'Liberation Serif', serif" font-size="7.25" letter-spacing="0.4" fill="#424242" text-anchor="end">0.00</text>
<text x="259.6" y="719" font-family="'Liberation Serif', serif" font-size="7.25" letter-spacing="0.4" fill="#424242" text-anchor="end">-0.05</text>
<text x="259.6" y="755.6" font-family="'Liberation Serif', serif" font-size="7.25" letter-spacing="0.4" fill="#424242" text-anchor="end">-0.10</text>
<text x="264.5" y="769.7" font-family="'Liberation Serif', serif" font-size="7.25" letter-spacing="0.4" fill="#424242" text-anchor="middle">60</text>
<text x="277.93" y="769.7" font-family="'Liberation Serif', serif" font-size="7.25" letter-spacing="0.4" fill="#424242" text-anchor="middle">72</text>
<text x="291.36" y="769.7" font-family="'Liberation Serif', serif" font-size="7.25" letter-spacing="0.4" fill="#424242" text-anchor="middle">84</text>
<text x="304.79" y="769.7" font-family="'Liberation Serif', serif" font-size="7.25" letter-spacing="0.4" fill="#424242" text-anchor="middle">96</text>
<text x="318.21" y="769.7" font-family="'Liberation Serif', serif" font-size="7.25" letter-spacing="0.4" fill="#424242" text-anchor="middle">108</text>
<text x="331.64" y="769.7" font-family="'Liberation Serif', serif" font-size="7.25" letter-spacing="0.4" fill="#424242" text-anchor="middle">120</text>
<text x="345.07" y="769.7" font-family="'Liberation Serif', serif" font-size="7.25" letter-spacing="0.4" fill="#424242" text-anchor="middle">132</text>
<text x="358.5" y="769.7" font-family="'Liberation Serif', serif" font-size="7.25" letter-spacing="0.4" fill="#424242" text-anchor="middle">144</text>
<text x="371.93" y="769.7" font-family="'Liberation Serif', serif" font-size="7.25" letter-spacing="0.4" fill="#424242" text-anchor="middle">156</text>
<text x="385.36" y="769.7" font-family="'Liberation Serif', serif" font-size="7.25" letter-spacing="0.4" fill="#424242" text-anchor="middle">168</text>
<text x="398.79" y="769.7" font-family="'Liberation Serif', serif" font-size="7.25" letter-spacing="0.4" fill="#424242" text-anchor="middle">180</text>
<text x="412.21" y="769.7" font-family="'Liberation Serif', serif" font-size="7.25" letter-spacing="0.4" fill="#424242" text-anchor="middle">192</text>
<text x="425.64" y="769.7" font-family="'Liberation Serif', serif" font-size="7.25" letter-spacing="0.4" fill="#424242" text-anchor="middle">204</text>
<text x="439.07" y="769.7" font-family="'Liberation Serif', serif" font-size="7.25" letter-spacing="0.4" fill="#424242" text-anchor="middle">216</text>
<text x="452.5" y="769.7" font-family="'Liberation Serif', serif" font-size="7.25" letter-spacing="0.4" fill="#424242" text-anchor="middle">228</text>
<text x="358" y="779.5" font-family="'Liberation Serif', serif" font-size="9.6" fill="#222" text-anchor="middle">Time (h)</text>
<text transform="translate(239.4 682.5) rotate(-90)" font-family="'Liberation Serif', serif" font-size="10.1" fill="#222" text-anchor="middle">Detrended luminescence</text>
<rect x="489" y="606.1" width="188" height="146.4" fill="#e1e3e2"/>
<rect x="502.43" y="605.6" width="13.43" height="146.9" fill="#fff"/>
<rect x="536" y="605.6" width="13.43" height="146.9" fill="#fff"/>
<rect x="562.86" y="605.6" width="13.43" height="146.9" fill="#fff"/>
<rect x="589.71" y="605.6" width="13.43" height="146.9" fill="#fff"/>
<line x1="488.2" x2="677.5" y1="606.1" y2="606.1" stroke="#787878" stroke-opacity="0.17" stroke-width="1"/>
<line x1="488.2" x2="677.5" y1="642.7" y2="642.7" stroke="#787878" stroke-opacity="0.17" stroke-width="1"/>
<line x1="488.2" x2="677.5" y1="715.9" y2="715.9" stroke="#787878" stroke-opacity="0.17" stroke-width="1"/>
<line x1="502.43" x2="502.43" y1="606.1" y2="752.5" stroke="#a9a9a9" stroke-width="0.9"/>
<line x1="515.86" x2="515.86" y1="606.1" y2="752.5" stroke="#a9a9a9" stroke-width="0.9"/>
<line x1="536" x2="536" y1="606.1" y2="752.5" stroke="#a9a9a9" stroke-width="0.9"/>
<line x1="549.43" x2="549.43" y1="606.1" y2="752.5" stroke="#a9a9a9" stroke-width="0.9"/>
<line x1="562.86" x2="562.86" y1="606.1" y2="752.5" stroke="#a9a9a9" stroke-width="0.9"/>
<line x1="576.29" x2="576.29" y1="606.1" y2="752.5" stroke="#a9a9a9" stroke-width="0.9"/>
<line x1="589.71" x2="589.71" y1="606.1" y2="752.5" stroke="#a9a9a9" stroke-width="0.9"/>
<line x1="603.14" x2="603.14" y1="606.1" y2="752.5" stroke="#a9a9a9" stroke-width="0.9"/>
<line x1="616.57" x2="616.57" y1="606.1" y2="752.5" stroke="#a9a9a9" stroke-width="0.9"/>
<line x1="630" x2="630" y1="606.1" y2="752.5" stroke="#a9a9a9" stroke-width="0.9"/>
<line x1="643.43" x2="643.43" y1="606.1" y2="752.5" stroke="#a9a9a9" stroke-width="0.9"/>
<line x1="656.86" x2="656.86" y1="606.1" y2="752.5" stroke="#a9a9a9" stroke-width="0.9"/>
<line x1="670.29" x2="670.29" y1="606.1" y2="752.5" stroke="#a9a9a9" stroke-width="0.9"/>
<line x1="487.7" x2="678.5" y1="679.5" y2="679.5" stroke="#333" stroke-width="0.9"/>
<path d="M489 687.35L489.73 686.73L490.45 686.07L491.18 685.36L491.9 684.62L492.63 683.85L493.36 683.09L494.08 682.21L494.81 680.88L495.53 678.56L496.26 675.35L496.98 672.26L497.71 669.49L498.44 667.05L499.16 665.34L499.89 664.69L500.61 664.74L501.34 665.1L502.07 665.79L502.79 667.25L503.52 669.54L504.24 672.36L504.97 675.34L505.69 678.14L506.42 680.68L507.15 683.25L507.87 685.97L508.6 688.78L509.32 691.61L510.05 694.37L510.78 697L511.5 699.41L512.23 701.52L512.95 703.27L513.68 704.56L514.41 705.32L515.13 705.51L515.86 705.18L516.58 704.4L517.31 703.22L518.03 701.67L518.76 699.79L519.49 697.63L520.21 695.22L520.94 692.6L521.66 689.82L522.39 686.9L523.12 683.89L523.84 680.83L524.57 677.76L525.29 674.71L526.02 671.73L526.75 668.85L527.47 666.12L528.2 663.56L528.92 661.23L529.65 659.17L530.37 657.4L531.1 655.96L531.83 654.91L532.55 654.28L533.28 654.17L534 654.83L534.73 656.38L535.46 658.75L536.18 661.84L536.91 665.52L537.63 669.69L538.36 674.21L539.08 678.97L539.81 683.87L540.54 688.77L541.26 693.56L541.99 698.12L542.71 702.34L543.44 706.1L544.17 709.27L544.89 711.75L545.62 713.42L546.34 714.14L547.07 713.78L547.8 712.27L548.52 709.7L549.25 706.21L549.97 701.94L550.7 697.04L551.42 691.65L552.15 685.9L552.88 679.96L553.6 673.96L554.33 668.04L555.05 662.34L555.78 657.02L556.51 652.22L557.23 648.07L557.96 644.73L558.68 642.33L559.41 641.02L560.14 640.87L560.86 641.85L561.59 643.82L562.31 646.66L563.04 650.24L563.76 654.44L564.49 659.13L565.22 664.2L565.94 669.52L566.67 674.95L567.39 680.39L568.12 685.7L568.85 690.76L569.57 695.45L570.3 699.64L571.02 703.21L571.75 706.04L572.47 707.99L573.2 708.96L573.93 708.88L574.65 707.8L575.38 705.82L576.1 703.06L576.83 699.63L577.56 695.62L578.28 691.15L579.01 686.33L579.73 681.26L580.46 676.06L581.19 670.83L581.91 665.68L582.64 660.72L583.36 656.05L584.09 651.79L584.81 648.04L585.54 644.91L586.27 642.51L586.99 640.94L587.72 640.31L588.44 640.65L589.17 641.88L589.9 643.87L590.62 646.47L591.35 649.56L592.07 652.99L592.8 656.62L593.53 660.49L594.25 665.08L594.98 670.62L595.7 676.32L596.43 681.5L597.15 686.27L597.88 690.31L598.61 693.23L599.33 695.35L600.06 697L600.78 698.06L601.51 698.37L602.24 698L602.96 697.12L603.69 695.86L604.41 694.34L605.14 692.66L605.86 690.79L606.59 688.42L607.32 685.56L608.04 682.53L608.77 679.65L609.49 676.99L610.22 674.41L610.95 672.01L611.67 669.98L612.4 668.36L613.12 667L613.85 665.8L614.58 664.78L615.3 663.96L616.03 663.37L616.75 662.95L617.48 662.61L618.2 662.36L618.93 662.23L619.66 662.27L620.38 662.53L621.11 662.98L621.83 663.57L622.56 664.24L623.29 664.94L624.01 665.63L624.74 666.31L625.46 667.01L626.19 667.77L626.92 668.57L627.64 669.42L628.37 670.32L629.09 671.28L629.82 672.31L630.54 673.48L631.27 674.78L632 676.15L632.72 677.53L633.45 678.86L634.17 680.16L634.9 681.49L635.63 682.8L636.35 684.01L637.08 685.01L637.8 685.77L638.53 686.36L639.25 686.89L639.98 687.35L640.71 687.71L641.43 687.95L642.16 688.03L642.88 687.87L643.61 687.45L644.34 686.81L645.06 686.01L645.79 685.12L646.51 684.13L647.24 682.9L647.97 681.35L648.69 679.73L649.42 678.35L650.14 677.35L650.87 676.56L651.59 675.91L652.32 675.49L653.05 675.4L653.77 675.76L654.5 676.54L655.22 677.64L655.95 678.93L656.68 680.51L657.4 682.62L658.13 685.17L658.85 687.92L659.58 690.65L660.31 693.21L661.03 695.72L661.76 698.19L662.48 700.41L663.21 702.14L663.93 703.4L664.66 704.31L665.39 704.68L666.11 704.16L666.84 702.77L667.56 700.93L668.29 699.04L669.02 697.14L669.74 695.12L670.47 693.02L671.19 690.9L671.92 688.83L672.64 686.79L673.37 684.69L674.1 682.59L674.82 680.64L675.55 678.98L676.27 677.72L677 676.81" fill="none" stroke="#ee2a1c" stroke-width="1.5" stroke-linejoin="round"/>
<line x1="616.57" x2="616.57" y1="607.6" y2="745.5" stroke="#111" stroke-width="1.25" stroke-dasharray="6.8 7.7"/>
<rect x="489" y="752.9" width="187.2" height="7.1" fill="#000"/>
<rect x="502.43" y="752.9" width="13.43" height="7.1" fill="#1400fa"/>
<rect x="536" y="752.9" width="13.43" height="7.1" fill="#1400fa"/>
<rect x="562.86" y="752.9" width="13.43" height="7.1" fill="#1400fa"/>
<rect x="589.71" y="752.9" width="13.43" height="7.1" fill="#1400fa"/>
<rect x="603.14" y="752.9" width="73.06" height="7.1" fill="#000"/>
<line x1="502.43" x2="502.43" y1="752.9" y2="760" stroke="#9a9ab0" stroke-width="0.7"/>
<line x1="515.86" x2="515.86" y1="752.9" y2="760" stroke="#9a9ab0" stroke-width="0.7"/>
<line x1="536" x2="536" y1="752.9" y2="760" stroke="#9a9ab0" stroke-width="0.7"/>
<line x1="549.43" x2="549.43" y1="752.9" y2="760" stroke="#9a9ab0" stroke-width="0.7"/>
<line x1="562.86" x2="562.86" y1="752.9" y2="760" stroke="#9a9ab0" stroke-width="0.7"/>
<line x1="576.29" x2="576.29" y1="752.9" y2="760" stroke="#9a9ab0" stroke-width="0.7"/>
<line x1="589.71" x2="589.71" y1="752.9" y2="760" stroke="#9a9ab0" stroke-width="0.7"/>
<line x1="603.14" x2="603.14" y1="752.9" y2="760" stroke="#9a9ab0" stroke-width="0.7"/>
<line x1="616.57" x2="616.57" y1="752.9" y2="760" stroke="#8a8a8a" stroke-width="0.7"/>
<line x1="630" x2="630" y1="752.9" y2="760" stroke="#8a8a8a" stroke-width="0.7"/>
<line x1="643.43" x2="643.43" y1="752.9" y2="760" stroke="#8a8a8a" stroke-width="0.7"/>
<line x1="656.86" x2="656.86" y1="752.9" y2="760" stroke="#8a8a8a" stroke-width="0.7"/>
<line x1="670.29" x2="670.29" y1="752.9" y2="760" stroke="#8a8a8a" stroke-width="0.7"/>
<text x="484.6" y="609.2" font-family="'Liberation Serif', serif" font-size="7.25" letter-spacing="0.4" fill="#424242" text-anchor="end">0.10</text>
<text x="484.6" y="645.8" font-family="'Liberation Serif', serif" font-size="7.25" letter-spacing="0.4" fill="#424242" text-anchor="end">0.05</text>
<text x="484.6" y="682.4" font-family="'Liberation Serif', serif" font-size="7.25" letter-spacing="0.4" fill="#424242" text-anchor="end">0.00</text>
<text x="484.6" y="719" font-family="'Liberation Serif', serif" font-size="7.25" letter-spacing="0.4" fill="#424242" text-anchor="end">-0.05</text>
<text x="484.6" y="755.6" font-family="'Liberation Serif', serif" font-size="7.25" letter-spacing="0.4" fill="#424242" text-anchor="end">-0.10</text>
<text x="489.5" y="769.7" font-family="'Liberation Serif', serif" font-size="7.25" letter-spacing="0.4" fill="#424242" text-anchor="middle">60</text>
<text x="502.93" y="769.7" font-family="'Liberation Serif', serif" font-size="7.25" letter-spacing="0.4" fill="#424242" text-anchor="middle">72</text>
<text x="516.36" y="769.7" font-family="'Liberation Serif', serif" font-size="7.25" letter-spacing="0.4" fill="#424242" text-anchor="middle">84</text>
<text x="529.79" y="769.7" font-family="'Liberation Serif', serif" font-size="7.25" letter-spacing="0.4" fill="#424242" text-anchor="middle">96</text>
<text x="543.21" y="769.7" font-family="'Liberation Serif', serif" font-size="7.25" letter-spacing="0.4" fill="#424242" text-anchor="middle">108</text>
<text x="556.64" y="769.7" font-family="'Liberation Serif', serif" font-size="7.25" letter-spacing="0.4" fill="#424242" text-anchor="middle">120</text>
<text x="570.07" y="769.7" font-family="'Liberation Serif', serif" font-size="7.25" letter-spacing="0.4" fill="#424242" text-anchor="middle">132</text>
<text x="583.5" y="769.7" font-family="'Liberation Serif', serif" font-size="7.25" letter-spacing="0.4" fill="#424242" text-anchor="middle">144</text>
<text x="596.93" y="769.7" font-family="'Liberation Serif', serif" font-size="7.25" letter-spacing="0.4" fill="#424242" text-anchor="middle">156</text>
<text x="610.36" y="769.7" font-family="'Liberation Serif', serif" font-size="7.25" letter-spacing="0.4" fill="#424242" text-anchor="middle">168</text>
<text x="623.79" y="769.7" font-family="'Liberation Serif', serif" font-size="7.25" letter-spacing="0.4" fill="#424242" text-anchor="middle">180</text>
<text x="637.21" y="769.7" font-family="'Liberation Serif', serif" font-size="7.25" letter-spacing="0.4" fill="#424242" text-anchor="middle">192</text>
<text x="650.64" y="769.7" font-family="'Liberation Serif', serif" font-size="7.25" letter-spacing="0.4" fill="#424242" text-anchor="middle">204</text>
<text x="664.07" y="769.7" font-family="'Liberation Serif', serif" font-size="7.25" letter-spacing="0.4" fill="#424242" text-anchor="middle">216</text>
<text x="677.5" y="769.7" font-family="'Liberation Serif', serif" font-size="7.25" letter-spacing="0.4" fill="#424242" text-anchor="middle">228</text>
<text x="583" y="779.5" font-family="'Liberation Serif', serif" font-size="9.6" fill="#222" text-anchor="middle">Time (h)</text>
<text transform="translate(464.4 682.5) rotate(-90)" font-family="'Liberation Serif', serif" font-size="10.1" fill="#222" text-anchor="middle">Detrended luminescence</text>
<rect x="40.1" y="823.3" width="187.6" height="146.6" fill="#e1e3e2"/>
<rect x="55.73" y="822.8" width="15.63" height="147.1" fill="#fff"/>
<rect x="94.82" y="822.8" width="15.63" height="147.1" fill="#fff"/>
<line x1="39.3" x2="228.2" y1="823.3" y2="823.3" stroke="#787878" stroke-opacity="0.17" stroke-width="1"/>
<line x1="39.3" x2="228.2" y1="859.95" y2="859.95" stroke="#787878" stroke-opacity="0.17" stroke-width="1"/>
<line x1="39.3" x2="228.2" y1="933.25" y2="933.25" stroke="#787878" stroke-opacity="0.17" stroke-width="1"/>
<line x1="55.73" x2="55.73" y1="823.3" y2="969.9" stroke="#a9a9a9" stroke-width="0.9"/>
<line x1="71.37" x2="71.37" y1="823.3" y2="969.9" stroke="#a9a9a9" stroke-width="0.9"/>
<line x1="94.82" x2="94.82" y1="823.3" y2="969.9" stroke="#a9a9a9" stroke-width="0.9"/>
<line x1="110.45" x2="110.45" y1="823.3" y2="969.9" stroke="#a9a9a9" stroke-width="0.9"/>
<line x1="126.08" x2="126.08" y1="823.3" y2="969.9" stroke="#a9a9a9" stroke-width="0.9"/>
<line x1="141.72" x2="141.72" y1="823.3" y2="969.9" stroke="#a9a9a9" stroke-width="0.9"/>
<line x1="157.35" x2="157.35" y1="823.3" y2="969.9" stroke="#a9a9a9" stroke-width="0.9"/>
<line x1="172.98" x2="172.98" y1="823.3" y2="969.9" stroke="#a9a9a9" stroke-width="0.9"/>
<line x1="188.62" x2="188.62" y1="823.3" y2="969.9" stroke="#a9a9a9" stroke-width="0.9"/>
<line x1="204.25" x2="204.25" y1="823.3" y2="969.9" stroke="#a9a9a9" stroke-width="0.9"/>
<line x1="219.88" x2="219.88" y1="823.3" y2="969.9" stroke="#a9a9a9" stroke-width="0.9"/>
<line x1="38.8" x2="229.2" y1="896.5" y2="896.5" stroke="#333" stroke-width="0.9"/>
<path d="M40.1 914.56L40.82 914.23L41.55 913.83L42.27 913.34L43 912.77L43.72 912.15L44.45 911.46L45.17 910.66L45.89 909.68L46.62 908.39L47.34 906.45L48.07 903.65L48.79 900.64L49.52 898.13L50.24 896.17L50.96 894.85L51.69 894.11L52.41 893.68L53.14 893.49L53.86 893.62L54.59 894.11L55.31 894.89L56.04 895.8L56.76 896.78L57.48 897.85L58.21 899.04L58.93 900.29L59.66 901.53L60.38 902.73L61.11 903.92L61.83 905.08L62.55 906.17L63.28 907.16L64 908.08L64.73 908.94L65.45 909.75L66.18 910.53L66.9 911.31L67.62 912.14L68.35 913.02L69.07 913.89L69.8 914.65L70.52 915.23L71.25 915.53L71.97 915.54L72.69 915.31L73.42 914.92L74.14 914.4L74.87 913.79L75.59 913.11L76.32 912.33L77.04 911.36L77.76 910.18L78.49 908.79L79.21 907.2L79.94 905.32L80.66 902.96L81.39 900.08L82.11 896.78L82.84 893.05L83.56 888.92L84.28 884.64L85.01 880.38L85.73 876.18L86.46 872.32L87.18 869.11L87.91 866.47L88.63 864.35L89.35 862.8L90.08 861.75L90.8 861.04L91.53 860.67L92.25 860.79L92.98 861.44L93.7 862.52L94.42 863.92L95.15 865.72L95.87 868.09L96.6 870.94L97.32 874.13L98.05 877.68L98.77 881.62L99.49 885.72L100.22 889.79L100.94 893.79L101.67 897.74L102.39 901.65L103.12 905.21L103.84 908.02L104.56 910.09L105.29 911.68L106.01 912.88L106.74 913.74L107.46 914.27L108.19 914.34L108.91 913.93L109.64 913.17L110.36 912.2L111.08 911.09L111.81 909.77L112.53 908.16L113.26 906.24L113.98 903.97L114.71 901.13L115.43 897.68L116.15 894.17L116.88 891.16L117.6 888.62L118.33 886.37L119.05 884.38L119.78 882.63L120.5 881.07L121.22 879.66L121.95 878.43L122.67 877.42L123.4 876.62L124.12 875.96L124.85 875.41L125.57 875.01L126.29 874.78L127.02 874.65L127.74 874.56L128.47 874.51L129.19 874.5L129.92 874.61L130.64 874.94L131.36 875.48L132.09 876.18L132.81 876.95L133.54 877.72L134.26 878.46L134.99 879.18L135.71 879.95L136.44 880.77L137.16 881.65L137.88 882.58L138.61 883.53L139.33 884.5L140.06 885.49L140.78 886.47L141.51 887.45L142.23 888.4L142.95 889.32L143.68 890.2L144.4 891.02L145.13 891.78L145.85 892.47L146.58 893.07L147.3 893.57L148.02 893.97L148.75 894.25L149.47 894.4L150.2 894.44L150.92 894.37L151.65 894.21L152.37 893.99L153.09 893.72L153.82 893.39L154.54 893.02L155.27 892.62L155.99 892.19L156.72 891.76L157.44 891.32L158.16 890.89L158.89 890.48L159.61 890.1L160.34 889.75L161.06 889.44L161.79 889.19L162.51 889L163.24 888.89L163.96 888.86L164.68 888.92L165.41 889.07L166.13 889.3L166.86 889.62L167.58 890L168.31 890.45L169.03 890.95L169.75 891.51L170.48 892.12L171.2 892.76L171.93 893.43L172.65 894.13L173.38 894.85L174.1 895.58L174.82 896.32L175.55 897.05L176.27 897.78L177 898.5L177.72 899.19L178.45 899.86L179.17 900.49L179.89 901.08L180.62 901.63L181.34 902.13L182.07 902.56L182.79 902.93L183.52 903.22L184.24 903.44L184.96 903.57L185.69 903.61L186.41 903.57L187.14 903.47L187.86 903.31L188.59 903.09L189.31 902.83L190.04 902.54L190.76 902.21L191.48 901.86L192.21 901.5L192.93 901.12L193.66 900.75L194.38 900.38L195.11 900.02L195.83 899.67L196.55 899.36L197.28 899.07L198 898.83L198.73 898.63L199.45 898.49L200.18 898.4L200.9 898.4L201.62 898.52L202.35 898.78L203.07 899.16L203.8 899.65L204.52 900.24L205.25 900.91L205.97 901.64L206.69 902.42L207.42 903.23L208.14 904.06L208.87 904.89L209.59 905.69L210.32 906.47L211.04 907.19L211.76 907.85L212.49 908.43L213.21 908.91L213.94 909.27L214.66 909.51L215.39 909.6L216.11 909.55L216.84 909.37L217.56 909.07L218.28 908.67L219.01 908.17L219.73 907.59L220.46 906.94L221.18 906.23L221.91 905.47L222.63 904.68L223.35 903.86L224.08 903.03L224.8 902.2L225.53 901.38L226.25 900.59L226.98 899.82L227.7 899.09" fill="none" stroke="#ee2a1c" stroke-width="1.5" stroke-linejoin="round"/>
<line x1="126.08" x2="126.08" y1="824.8" y2="962.9" stroke="#111" stroke-width="1.25" stroke-dasharray="6.8 7.7"/>
<rect x="40.1" y="970.3" width="186.8" height="7.1" fill="#000"/>
<rect x="55.73" y="970.3" width="15.63" height="7.1" fill="#1400fa"/>
<rect x="94.82" y="970.3" width="15.63" height="7.1" fill="#1400fa"/>
<rect x="110.45" y="970.3" width="116.45" height="7.1" fill="#000"/>
<line x1="55.73" x2="55.73" y1="970.3" y2="977.4" stroke="#9a9ab0" stroke-width="0.7"/>
<line x1="71.37" x2="71.37" y1="970.3" y2="977.4" stroke="#9a9ab0" stroke-width="0.7"/>
<line x1="94.82" x2="94.82" y1="970.3" y2="977.4" stroke="#9a9ab0" stroke-width="0.7"/>
<line x1="110.45" x2="110.45" y1="970.3" y2="977.4" stroke="#9a9ab0" stroke-width="0.7"/>
<line x1="126.08" x2="126.08" y1="970.3" y2="977.4" stroke="#8a8a8a" stroke-width="0.7"/>
<line x1="141.72" x2="141.72" y1="970.3" y2="977.4" stroke="#8a8a8a" stroke-width="0.7"/>
<line x1="157.35" x2="157.35" y1="970.3" y2="977.4" stroke="#8a8a8a" stroke-width="0.7"/>
<line x1="172.98" x2="172.98" y1="970.3" y2="977.4" stroke="#8a8a8a" stroke-width="0.7"/>
<line x1="188.62" x2="188.62" y1="970.3" y2="977.4" stroke="#8a8a8a" stroke-width="0.7"/>
<line x1="204.25" x2="204.25" y1="970.3" y2="977.4" stroke="#8a8a8a" stroke-width="0.7"/>
<line x1="219.88" x2="219.88" y1="970.3" y2="977.4" stroke="#8a8a8a" stroke-width="0.7"/>
<text x="35.7" y="826.4" font-family="'Liberation Serif', serif" font-size="7.25" letter-spacing="0.4" fill="#424242" text-anchor="end">0.10</text>
<text x="35.7" y="863.05" font-family="'Liberation Serif', serif" font-size="7.25" letter-spacing="0.4" fill="#424242" text-anchor="end">0.05</text>
<text x="35.7" y="899.7" font-family="'Liberation Serif', serif" font-size="7.25" letter-spacing="0.4" fill="#424242" text-anchor="end">0.00</text>
<text x="35.7" y="936.35" font-family="'Liberation Serif', serif" font-size="7.25" letter-spacing="0.4" fill="#424242" text-anchor="end">-0.05</text>
<text x="35.7" y="973" font-family="'Liberation Serif', serif" font-size="7.25" letter-spacing="0.4" fill="#424242" text-anchor="end">-0.10</text>
<text x="40.6" y="987.1" font-family="'Liberation Serif', serif" font-size="7.25" letter-spacing="0.4" fill="#424242" text-anchor="middle">60</text>
<text x="56.23" y="987.1" font-family="'Liberation Serif', serif" font-size="7.25" letter-spacing="0.4" fill="#424242" text-anchor="middle">72</text>
<text x="71.87" y="987.1" font-family="'Liberation Serif', serif" font-size="7.25" letter-spacing="0.4" fill="#424242" text-anchor="middle">84</text>
<text x="87.5" y="987.1" font-family="'Liberation Serif', serif" font-size="7.25" letter-spacing="0.4" fill="#424242" text-anchor="middle">96</text>
<text x="103.13" y="987.1" font-family="'Liberation Serif', serif" font-size="7.25" letter-spacing="0.4" fill="#424242" text-anchor="middle">108</text>
<text x="118.77" y="987.1" font-family="'Liberation Serif', serif" font-size="7.25" letter-spacing="0.4" fill="#424242" text-anchor="middle">120</text>
<text x="134.4" y="987.1" font-family="'Liberation Serif', serif" font-size="7.25" letter-spacing="0.4" fill="#424242" text-anchor="middle">132</text>
<text x="150.03" y="987.1" font-family="'Liberation Serif', serif" font-size="7.25" letter-spacing="0.4" fill="#424242" text-anchor="middle">144</text>
<text x="165.67" y="987.1" font-family="'Liberation Serif', serif" font-size="7.25" letter-spacing="0.4" fill="#424242" text-anchor="middle">156</text>
<text x="181.3" y="987.1" font-family="'Liberation Serif', serif" font-size="7.25" letter-spacing="0.4" fill="#424242" text-anchor="middle">168</text>
<text x="196.93" y="987.1" font-family="'Liberation Serif', serif" font-size="7.25" letter-spacing="0.4" fill="#424242" text-anchor="middle">180</text>
<text x="212.57" y="987.1" font-family="'Liberation Serif', serif" font-size="7.25" letter-spacing="0.4" fill="#424242" text-anchor="middle">192</text>
<text x="228.2" y="987.1" font-family="'Liberation Serif', serif" font-size="7.25" letter-spacing="0.4" fill="#424242" text-anchor="middle">204</text>
<text x="133.9" y="996.9" font-family="'Liberation Serif', serif" font-size="9.6" fill="#222" text-anchor="middle">Time (h)</text>
<text transform="translate(15.5 899.8) rotate(-90)" font-family="'Liberation Serif', serif" font-size="10.1" fill="#222" text-anchor="middle">Detrended luminescence</text>
<rect x="264" y="823.3" width="187.6" height="146.6" fill="#e1e3e2"/>
<rect x="279.63" y="822.8" width="15.63" height="147.1" fill="#fff"/>
<rect x="318.72" y="822.8" width="15.63" height="147.1" fill="#fff"/>
<line x1="263.2" x2="452.1" y1="823.3" y2="823.3" stroke="#787878" stroke-opacity="0.17" stroke-width="1"/>
<line x1="263.2" x2="452.1" y1="859.95" y2="859.95" stroke="#787878" stroke-opacity="0.17" stroke-width="1"/>
<line x1="263.2" x2="452.1" y1="933.25" y2="933.25" stroke="#787878" stroke-opacity="0.17" stroke-width="1"/>
<line x1="279.63" x2="279.63" y1="823.3" y2="969.9" stroke="#a9a9a9" stroke-width="0.9"/>
<line x1="295.27" x2="295.27" y1="823.3" y2="969.9" stroke="#a9a9a9" stroke-width="0.9"/>
<line x1="318.72" x2="318.72" y1="823.3" y2="969.9" stroke="#a9a9a9" stroke-width="0.9"/>
<line x1="334.35" x2="334.35" y1="823.3" y2="969.9" stroke="#a9a9a9" stroke-width="0.9"/>
<line x1="349.98" x2="349.98" y1="823.3" y2="969.9" stroke="#a9a9a9" stroke-width="0.9"/>
<line x1="365.62" x2="365.62" y1="823.3" y2="969.9" stroke="#a9a9a9" stroke-width="0.9"/>
<line x1="381.25" x2="381.25" y1="823.3" y2="969.9" stroke="#a9a9a9" stroke-width="0.9"/>
<line x1="396.88" x2="396.88" y1="823.3" y2="969.9" stroke="#a9a9a9" stroke-width="0.9"/>
<line x1="412.52" x2="412.52" y1="823.3" y2="969.9" stroke="#a9a9a9" stroke-width="0.9"/>
<line x1="428.15" x2="428.15" y1="823.3" y2="969.9" stroke="#a9a9a9" stroke-width="0.9"/>
<line x1="443.78" x2="443.78" y1="823.3" y2="969.9" stroke="#a9a9a9" stroke-width="0.9"/>
<line x1="262.7" x2="453.1" y1="896.5" y2="896.5" stroke="#333" stroke-width="0.9"/>
<path d="M264 914.56L264.72 914.45L265.45 914.26L266.17 913.97L266.9 913.6L267.62 913.18L268.35 912.69L269.07 912.07L269.79 911.26L270.52 910.23L271.24 908.79L271.97 906.6L272.69 903.76L273.42 901.07L274.14 899.05L274.86 897.53L275.59 896.43L276.31 895.78L277.04 895.47L277.76 895.52L278.49 896.11L279.21 897.09L279.94 897.99L280.66 898.56L281.38 898.94L282.11 899.25L282.83 899.54L283.56 899.87L284.28 900.29L285.01 900.79L285.73 901.36L286.45 901.97L287.18 902.59L287.9 903.18L288.63 903.75L289.35 904.31L290.08 904.87L290.8 905.39L291.52 905.85L292.25 906.25L292.97 906.6L293.7 906.93L294.42 907.18L295.15 907.31L295.87 907.27L296.59 907.11L297.32 906.98L298.04 907.04L298.77 907.39L299.49 907.82L300.22 907.99L300.94 907.68L301.66 906.88L302.39 905.78L303.11 904.55L303.84 903.27L304.56 901.89L305.29 900.27L306.01 898.3L306.74 895.64L307.46 891.88L308.18 887.34L308.91 882.85L309.63 878.79L310.36 875.1L311.08 871.9L311.81 869.29L312.53 867.14L313.25 865.49L313.98 864.36L314.7 863.59L315.43 863.08L316.15 862.9L316.88 863.19L317.6 864L318.32 865.19L319.05 866.75L319.77 868.88L320.5 871.66L321.22 874.85L321.95 878.23L322.67 881.81L323.39 885.59L324.12 889.45L324.84 893.25L325.57 896.89L326.29 900.35L327.02 903.57L327.74 906.4L328.46 908.75L329.19 910.69L329.91 912.3L330.64 913.58L331.36 914.6L332.09 915.31L332.81 915.53L333.54 915.24L334.26 914.57L334.98 913.66L335.71 912.57L336.43 911.19L337.16 909.49L337.88 907.54L338.61 905.41L339.33 903.09L340.05 900.53L340.78 897.88L341.5 895.25L342.23 892.65L342.95 890.19L343.68 887.95L344.4 885.93L345.12 884.08L345.85 882.47L346.57 881.16L347.3 880.11L348.02 879.23L348.75 878.51L349.47 877.98L350.19 877.67L350.92 877.47L351.64 877.33L352.37 877.24L353.09 877.21L353.82 877.29L354.54 877.5L355.26 877.84L355.99 878.29L356.71 878.91L357.44 879.82L358.16 880.97L358.89 882.14L359.61 883.18L360.34 884.06L361.06 884.86L361.78 885.61L362.51 886.33L363.23 887L363.96 887.63L364.68 888.21L365.41 888.74L366.13 889.24L366.85 889.7L367.58 890.13L368.3 890.52L369.03 890.88L369.75 891.2L370.48 891.49L371.2 891.76L371.92 891.97L372.65 892.01L373.37 891.73L374.1 891.17L374.82 890.63L375.55 890.25L376.27 889.98L376.99 889.75L377.72 889.55L378.44 889.37L379.17 889.21L379.89 889.05L380.62 888.9L381.34 888.74L382.06 888.57L382.79 888.42L383.51 888.28L384.24 888.18L384.96 888.12L385.69 888.13L386.41 888.2L387.14 888.34L387.86 888.54L388.58 888.83L389.31 889.37L390.03 890.29L390.76 891.33L391.48 892.22L392.21 892.96L392.93 893.64L393.65 894.27L394.38 894.87L395.1 895.44L395.83 896L396.55 896.55L397.28 897.09L398 897.64L398.72 898.17L399.45 898.67L400.17 899.13L400.9 899.54L401.62 899.89L402.35 900.21L403.07 900.5L403.79 900.77L404.52 901.01L405.24 901.21L405.97 901.37L406.69 901.51L407.42 901.62L408.14 901.72L408.86 901.8L409.59 901.85L410.31 901.86L411.04 901.82L411.76 901.74L412.49 901.62L413.21 901.48L413.94 901.32L414.66 901.16L415.38 901L416.11 900.85L416.83 900.67L417.56 900.47L418.28 900.27L419.01 900.07L419.73 899.9L420.45 899.78L421.18 899.71L421.9 899.68L422.63 899.68L423.35 899.68L424.08 899.68L424.8 899.68L425.52 899.75L426.25 899.97L426.97 900.4L427.7 900.99L428.42 901.64L429.15 902.27L429.87 902.87L430.59 903.48L431.32 904.11L432.04 904.71L432.77 905.27L433.49 905.74L434.22 906.15L434.94 906.52L435.66 906.87L436.39 907.18L437.11 907.45L437.84 907.68L438.56 907.87L439.29 908.04L440.01 908.19L440.74 908.32L441.46 908.41L442.18 908.44L442.91 908.34L443.63 908.08L444.36 907.67L445.08 907.17L445.81 906.63L446.53 906.09L447.25 905.53L447.98 904.91L448.7 904.25L449.43 903.55L450.15 902.82L450.88 902.07L451.6 901.32" fill="none" stroke="#ee2a1c" stroke-width="1.5" stroke-linejoin="round"/>
<line x1="349.98" x2="349.98" y1="824.8" y2="962.9" stroke="#111" stroke-width="1.25" stroke-dasharray="6.8 7.7"/>
<rect x="264" y="970.3" width="186.8" height="7.1" fill="#000"/>
<rect x="279.63" y="970.3" width="15.63" height="7.1" fill="#1400fa"/>
<rect x="318.72" y="970.3" width="15.63" height="7.1" fill="#1400fa"/>
<rect x="334.35" y="970.3" width="116.45" height="7.1" fill="#000"/>
<line x1="279.63" x2="279.63" y1="970.3" y2="977.4" stroke="#9a9ab0" stroke-width="0.7"/>
<line x1="295.27" x2="295.27" y1="970.3" y2="977.4" stroke="#9a9ab0" stroke-width="0.7"/>
<line x1="318.72" x2="318.72" y1="970.3" y2="977.4" stroke="#9a9ab0" stroke-width="0.7"/>
<line x1="334.35" x2="334.35" y1="970.3" y2="977.4" stroke="#9a9ab0" stroke-width="0.7"/>
<line x1="349.98" x2="349.98" y1="970.3" y2="977.4" stroke="#8a8a8a" stroke-width="0.7"/>
<line x1="365.62" x2="365.62" y1="970.3" y2="977.4" stroke="#8a8a8a" stroke-width="0.7"/>
<line x1="381.25" x2="381.25" y1="970.3" y2="977.4" stroke="#8a8a8a" stroke-width="0.7"/>
<line x1="396.88" x2="396.88" y1="970.3" y2="977.4" stroke="#8a8a8a" stroke-width="0.7"/>
<line x1="412.52" x2="412.52" y1="970.3" y2="977.4" stroke="#8a8a8a" stroke-width="0.7"/>
<line x1="428.15" x2="428.15" y1="970.3" y2="977.4" stroke="#8a8a8a" stroke-width="0.7"/>
<line x1="443.78" x2="443.78" y1="970.3" y2="977.4" stroke="#8a8a8a" stroke-width="0.7"/>
<text x="259.6" y="826.4" font-family="'Liberation Serif', serif" font-size="7.25" letter-spacing="0.4" fill="#424242" text-anchor="end">0.10</text>
<text x="259.6" y="863.05" font-family="'Liberation Serif', serif" font-size="7.25" letter-spacing="0.4" fill="#424242" text-anchor="end">0.05</text>
<text x="259.6" y="899.7" font-family="'Liberation Serif', serif" font-size="7.25" letter-spacing="0.4" fill="#424242" text-anchor="end">0.00</text>
<text x="259.6" y="936.35" font-family="'Liberation Serif', serif" font-size="7.25" letter-spacing="0.4" fill="#424242" text-anchor="end">-0.05</text>
<text x="259.6" y="973" font-family="'Liberation Serif', serif" font-size="7.25" letter-spacing="0.4" fill="#424242" text-anchor="end">-0.10</text>
<text x="264.5" y="987.1" font-family="'Liberation Serif', serif" font-size="7.25" letter-spacing="0.4" fill="#424242" text-anchor="middle">60</text>
<text x="280.13" y="987.1" font-family="'Liberation Serif', serif" font-size="7.25" letter-spacing="0.4" fill="#424242" text-anchor="middle">72</text>
<text x="295.77" y="987.1" font-family="'Liberation Serif', serif" font-size="7.25" letter-spacing="0.4" fill="#424242" text-anchor="middle">84</text>
<text x="311.4" y="987.1" font-family="'Liberation Serif', serif" font-size="7.25" letter-spacing="0.4" fill="#424242" text-anchor="middle">96</text>
<text x="327.03" y="987.1" font-family="'Liberation Serif', serif" font-size="7.25" letter-spacing="0.4" fill="#424242" text-anchor="middle">108</text>
<text x="342.67" y="987.1" font-family="'Liberation Serif', serif" font-size="7.25" letter-spacing="0.4" fill="#424242" text-anchor="middle">120</text>
<text x="358.3" y="987.1" font-family="'Liberation Serif', serif" font-size="7.25" letter-spacing="0.4" fill="#424242" text-anchor="middle">132</text>
<text x="373.93" y="987.1" font-family="'Liberation Serif', serif" font-size="7.25" letter-spacing="0.4" fill="#424242" text-anchor="middle">144</text>
<text x="389.57" y="987.1" font-family="'Liberation Serif', serif" font-size="7.25" letter-spacing="0.4" fill="#424242" text-anchor="middle">156</text>
<text x="405.2" y="987.1" font-family="'Liberation Serif', serif" font-size="7.25" letter-spacing="0.4" fill="#424242" text-anchor="middle">168</text>
<text x="420.83" y="987.1" font-family="'Liberation Serif', serif" font-size="7.25" letter-spacing="0.4" fill="#424242" text-anchor="middle">180</text>
<text x="436.47" y="987.1" font-family="'Liberation Serif', serif" font-size="7.25" letter-spacing="0.4" fill="#424242" text-anchor="middle">192</text>
<text x="452.1" y="987.1" font-family="'Liberation Serif', serif" font-size="7.25" letter-spacing="0.4" fill="#424242" text-anchor="middle">204</text>
<text x="357.8" y="996.9" font-family="'Liberation Serif', serif" font-size="9.6" fill="#222" text-anchor="middle">Time (h)</text>
<text transform="translate(239.4 899.8) rotate(-90)" font-family="'Liberation Serif', serif" font-size="10.1" fill="#222" text-anchor="middle">Detrended luminescence</text>
<rect x="487.9" y="823.3" width="187.6" height="146.6" fill="#e1e3e2"/>
<rect x="503.53" y="822.8" width="15.63" height="147.1" fill="#fff"/>
<rect x="542.62" y="822.8" width="15.63" height="147.1" fill="#fff"/>
<line x1="487.1" x2="676" y1="823.3" y2="823.3" stroke="#787878" stroke-opacity="0.17" stroke-width="1"/>
<line x1="487.1" x2="676" y1="859.95" y2="859.95" stroke="#787878" stroke-opacity="0.17" stroke-width="1"/>
<line x1="487.1" x2="676" y1="933.25" y2="933.25" stroke="#787878" stroke-opacity="0.17" stroke-width="1"/>
<line x1="503.53" x2="503.53" y1="823.3" y2="969.9" stroke="#a9a9a9" stroke-width="0.9"/>
<line x1="519.17" x2="519.17" y1="823.3" y2="969.9" stroke="#a9a9a9" stroke-width="0.9"/>
<line x1="542.62" x2="542.62" y1="823.3" y2="969.9" stroke="#a9a9a9" stroke-width="0.9"/>
<line x1="558.25" x2="558.25" y1="823.3" y2="969.9" stroke="#a9a9a9" stroke-width="0.9"/>
<line x1="573.88" x2="573.88" y1="823.3" y2="969.9" stroke="#a9a9a9" stroke-width="0.9"/>
<line x1="589.52" x2="589.52" y1="823.3" y2="969.9" stroke="#a9a9a9" stroke-width="0.9"/>
<line x1="605.15" x2="605.15" y1="823.3" y2="969.9" stroke="#a9a9a9" stroke-width="0.9"/>
<line x1="620.78" x2="620.78" y1="823.3" y2="969.9" stroke="#a9a9a9" stroke-width="0.9"/>
<line x1="636.42" x2="636.42" y1="823.3" y2="969.9" stroke="#a9a9a9" stroke-width="0.9"/>
<line x1="652.05" x2="652.05" y1="823.3" y2="969.9" stroke="#a9a9a9" stroke-width="0.9"/>
<line x1="667.68" x2="667.68" y1="823.3" y2="969.9" stroke="#a9a9a9" stroke-width="0.9"/>
<line x1="486.6" x2="677" y1="896.5" y2="896.5" stroke="#333" stroke-width="0.9"/>
<path d="M487.9 909.43L488.62 908.87L489.35 908.23L490.07 907.5L490.8 906.69L491.52 905.81L492.25 904.89L492.97 903.93L493.69 902.88L494.42 901.6L495.14 899.78L495.87 896.88L496.59 893.09L497.32 889.89L498.04 887.67L498.76 886.09L499.49 884.98L500.21 884.2L500.94 883.66L501.66 883.41L502.39 883.54L503.11 884.05L503.84 884.84L504.56 885.78L505.28 886.78L506.01 887.92L506.73 889.21L507.46 890.61L508.18 892.06L508.91 893.55L509.63 895.11L510.35 896.72L511.08 898.4L511.8 900.13L512.53 901.88L513.25 903.61L513.98 905.31L514.7 907.01L515.42 908.71L516.15 910.37L516.87 911.9L517.6 913.25L518.32 914.43L519.05 915.49L519.77 916.43L520.49 917.21L521.22 917.81L521.94 918.29L522.67 918.64L523.39 918.77L524.12 918.56L524.84 917.98L525.56 917.11L526.29 916.01L527.01 914.61L527.74 912.69L528.46 910.25L529.19 907.53L529.91 904.71L530.64 901.78L531.36 898.57L532.08 894.9L532.81 890.69L533.53 886.27L534.26 881.92L534.98 877.72L535.71 873.88L536.43 870.58L537.15 867.8L537.88 865.65L538.6 864.24L539.33 863.37L540.05 862.98L540.78 863.19L541.5 864.04L542.22 865.37L542.95 867.09L543.67 869.4L544.4 872.27L545.12 875.47L545.85 878.8L546.57 882.28L547.29 885.92L548.02 889.63L548.74 893.32L549.47 896.99L550.19 900.66L550.92 904.22L551.64 907.44L552.36 910.22L553.09 912.6L553.81 914.44L554.54 915.64L555.26 916.39L555.99 916.76L556.71 916.6L557.44 915.84L558.16 914.64L558.88 913.19L559.61 911.55L560.33 909.63L561.06 907.5L561.78 905.31L562.51 903.12L563.23 900.91L563.95 898.68L564.68 896.47L565.4 894.29L566.13 892.18L566.85 890.22L567.58 888.38L568.3 886.66L569.02 885.09L569.75 883.7L570.47 882.47L571.2 881.34L571.92 880.38L572.65 879.67L573.37 879.25L574.09 878.99L574.82 878.81L575.54 878.7L576.27 878.69L576.99 878.81L577.72 879.05L578.44 879.39L579.16 879.78L579.89 880.24L580.61 880.82L581.34 881.56L582.06 882.41L582.79 883.33L583.51 884.25L584.24 885.13L584.96 885.95L585.68 886.74L586.41 887.51L587.13 888.27L587.86 889L588.58 889.69L589.31 890.33L590.03 890.93L590.75 891.52L591.48 892.08L592.2 892.6L592.93 893.07L593.65 893.44L594.38 893.73L595.1 893.96L595.82 894.17L596.55 894.35L597.27 894.5L598 894.6L598.72 894.67L599.45 894.68L600.17 894.64L600.89 894.57L601.62 894.47L602.34 894.35L603.07 894.21L603.79 894.06L604.52 893.89L605.24 893.66L605.96 893.39L606.69 893.11L607.41 892.84L608.14 892.6L608.86 892.42L609.59 892.27L610.31 892.15L611.04 892.05L611.76 892.01L612.48 892.06L613.21 892.21L613.93 892.45L614.66 892.75L615.38 893.1L616.11 893.48L616.83 893.95L617.55 894.53L618.28 895.16L619 895.79L619.73 896.38L620.45 896.89L621.18 897.37L621.9 897.82L622.62 898.26L623.35 898.68L624.07 899.07L624.8 899.44L625.52 899.78L626.25 900.11L626.97 900.42L627.69 900.72L628.42 901.01L629.14 901.27L629.87 901.51L630.59 901.72L631.32 901.9L632.04 902.06L632.76 902.22L633.49 902.36L634.21 902.46L634.94 902.51L635.66 902.5L636.39 902.41L637.11 902.26L637.84 902.06L638.56 901.83L639.28 901.58L640.01 901.34L640.73 901.11L641.46 900.88L642.18 900.65L642.91 900.4L643.63 900.15L644.35 899.9L645.08 899.68L645.8 899.48L646.53 899.3L647.25 899.14L647.98 898.98L648.7 898.84L649.42 898.74L650.15 898.69L650.87 898.73L651.6 898.92L652.32 899.23L653.05 899.62L653.77 900.04L654.49 900.48L655.22 900.95L655.94 901.48L656.67 902.03L657.39 902.52L658.12 902.89L658.84 903.14L659.56 903.31L660.29 903.42L661.01 903.43L661.74 903.28L662.46 902.97L663.19 902.55L663.91 902.08L664.64 901.63L665.36 901.23L666.08 900.85L666.81 900.47L667.53 900.08L668.26 899.7L668.98 899.3L669.71 898.91L670.43 898.5L671.15 898.09L671.88 897.68L672.6 897.25L673.33 896.81L674.05 896.35L674.78 895.86L675.5 895.37" fill="none" stroke="#ee2a1c" stroke-width="1.5" stroke-linejoin="round"/>
<line x1="573.88" x2="573.88" y1="824.8" y2="962.9" stroke="#111" stroke-width="1.25" stroke-dasharray="6.8 7.7"/>
<rect x="487.9" y="970.3" width="186.8" height="7.1" fill="#000"/>
<rect x="503.53" y="970.3" width="15.63" height="7.1" fill="#1400fa"/>
<rect x="542.62" y="970.3" width="15.63" height="7.1" fill="#1400fa"/>
<rect x="558.25" y="970.3" width="116.45" height="7.1" fill="#000"/>
<line x1="503.53" x2="503.53" y1="970.3" y2="977.4" stroke="#9a9ab0" stroke-width="0.7"/>
<line x1="519.17" x2="519.17" y1="970.3" y2="977.4" stroke="#9a9ab0" stroke-width="0.7"/>
<line x1="542.62" x2="542.62" y1="970.3" y2="977.4" stroke="#9a9ab0" stroke-width="0.7"/>
<line x1="558.25" x2="558.25" y1="970.3" y2="977.4" stroke="#9a9ab0" stroke-width="0.7"/>
<line x1="573.88" x2="573.88" y1="970.3" y2="977.4" stroke="#8a8a8a" stroke-width="0.7"/>
<line x1="589.52" x2="589.52" y1="970.3" y2="977.4" stroke="#8a8a8a" stroke-width="0.7"/>
<line x1="605.15" x2="605.15" y1="970.3" y2="977.4" stroke="#8a8a8a" stroke-width="0.7"/>
<line x1="620.78" x2="620.78" y1="970.3" y2="977.4" stroke="#8a8a8a" stroke-width="0.7"/>
<line x1="636.42" x2="636.42" y1="970.3" y2="977.4" stroke="#8a8a8a" stroke-width="0.7"/>
<line x1="652.05" x2="652.05" y1="970.3" y2="977.4" stroke="#8a8a8a" stroke-width="0.7"/>
<line x1="667.68" x2="667.68" y1="970.3" y2="977.4" stroke="#8a8a8a" stroke-width="0.7"/>
<text x="483.5" y="826.4" font-family="'Liberation Serif', serif" font-size="7.25" letter-spacing="0.4" fill="#424242" text-anchor="end">0.10</text>
<text x="483.5" y="863.05" font-family="'Liberation Serif', serif" font-size="7.25" letter-spacing="0.4" fill="#424242" text-anchor="end">0.05</text>
<text x="483.5" y="899.7" font-family="'Liberation Serif', serif" font-size="7.25" letter-spacing="0.4" fill="#424242" text-anchor="end">0.00</text>
<text x="483.5" y="936.35" font-family="'Liberation Serif', serif" font-size="7.25" letter-spacing="0.4" fill="#424242" text-anchor="end">-0.05</text>
<text x="483.5" y="973" font-family="'Liberation Serif', serif" font-size="7.25" letter-spacing="0.4" fill="#424242" text-anchor="end">-0.10</text>
<text x="488.4" y="987.1" font-family="'Liberation Serif', serif" font-size="7.25" letter-spacing="0.4" fill="#424242" text-anchor="middle">60</text>
<text x="504.03" y="987.1" font-family="'Liberation Serif', serif" font-size="7.25" letter-spacing="0.4" fill="#424242" text-anchor="middle">72</text>
<text x="519.67" y="987.1" font-family="'Liberation Serif', serif" font-size="7.25" letter-spacing="0.4" fill="#424242" text-anchor="middle">84</text>
<text x="535.3" y="987.1" font-family="'Liberation Serif', serif" font-size="7.25" letter-spacing="0.4" fill="#424242" text-anchor="middle">96</text>
<text x="550.93" y="987.1" font-family="'Liberation Serif', serif" font-size="7.25" letter-spacing="0.4" fill="#424242" text-anchor="middle">108</text>
<text x="566.57" y="987.1" font-family="'Liberation Serif', serif" font-size="7.25" letter-spacing="0.4" fill="#424242" text-anchor="middle">120</text>
<text x="582.2" y="987.1" font-family="'Liberation Serif', serif" font-size="7.25" letter-spacing="0.4" fill="#424242" text-anchor="middle">132</text>
<text x="597.83" y="987.1" font-family="'Liberation Serif', serif" font-size="7.25" letter-spacing="0.4" fill="#424242" text-anchor="middle">144</text>
<text x="613.47" y="987.1" font-family="'Liberation Serif', serif" font-size="7.25" letter-spacing="0.4" fill="#424242" text-anchor="middle">156</text>
<text x="629.1" y="987.1" font-family="'Liberation Serif', serif" font-size="7.25" letter-spacing="0.4" fill="#424242" text-anchor="middle">168</text>
<text x="644.73" y="987.1" font-family="'Liberation Serif', serif" font-size="7.25" letter-spacing="0.4" fill="#424242" text-anchor="middle">180</text>
<text x="660.37" y="987.1" font-family="'Liberation Serif', serif" font-size="7.25" letter-spacing="0.4" fill="#424242" text-anchor="middle">192</text>
<text x="676" y="987.1" font-family="'Liberation Serif', serif" font-size="7.25" letter-spacing="0.4" fill="#424242" text-anchor="middle">204</text>
<text x="581.7" y="996.9" font-family="'Liberation Serif', serif" font-size="9.6" fill="#222" text-anchor="middle">Time (h)</text>
<text transform="translate(463.3 899.8) rotate(-90)" font-family="'Liberation Serif', serif" font-size="10.1" fill="#222" text-anchor="middle">Detrended luminescence</text>
</g>
</svg>
</body></html>
